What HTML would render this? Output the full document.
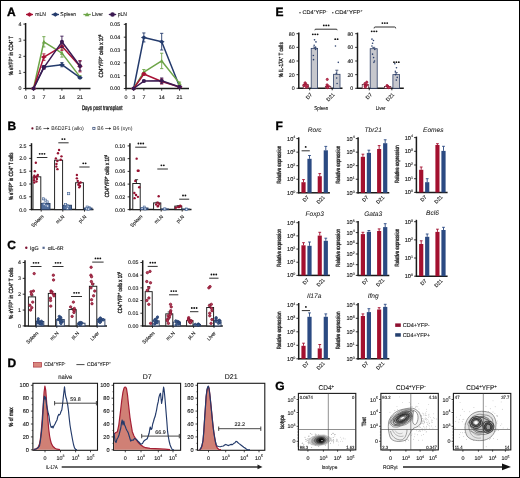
<!DOCTYPE html>
<html><head><meta charset="utf-8"><style>
html,body{margin:0;padding:0;background:#fff;}
svg{display:block;font-family:"Liberation Sans",sans-serif;will-change:transform;}
</style></head><body>
<svg width="520" height="478" viewBox="0 0 520 478" text-rendering="geometricPrecision">
<g>
<rect x="0" y="0" width="520" height="478" fill="#fff"/>
<rect x="0.5" y="0.5" width="519" height="477" fill="none" stroke="#000" stroke-width="1"/>
<text transform="translate(7.00,15.80)" font-size="12.0" text-anchor="start" font-weight="bold" font-style="normal" fill="#000"  stroke="#000" stroke-width="0.35">A</text>
<line x1="26.00" y1="14.50" x2="33.00" y2="14.50" stroke="#a81235" stroke-width="1.3" />
<path d="M26.16,14.50 L29.50,12.20 L32.84,14.50 L29.50,16.80Z" fill="#a81235" stroke="none" stroke-width="1.0" />
<text transform="translate(35.30,16.40) scale(0.9,1)" font-size="5.6" text-anchor="start" font-weight="normal" font-style="normal" fill="#1a1a1a"  stroke="#1a1a1a" stroke-width="0.1">mLN</text>
<line x1="51.70" y1="14.50" x2="59.00" y2="14.50" stroke="#243b6c" stroke-width="1.3" />
<path d="M52.02,14.50 L55.35,12.20 L58.69,14.50 L55.35,16.80Z" fill="#243b6c" stroke="none" stroke-width="1.0" />
<text transform="translate(60.30,16.40) scale(0.9,1)" font-size="5.6" text-anchor="start" font-weight="normal" font-style="normal" fill="#1a1a1a"  stroke="#1a1a1a" stroke-width="0.1">Spleen</text>
<line x1="83.40" y1="14.50" x2="90.80" y2="14.50" stroke="#6da548" stroke-width="1.3" />
<path d="M84.80,16.34 L87.10,12.20 L89.40,16.34Z" fill="#6da548" stroke="none" stroke-width="1.0" />
<text transform="translate(92.00,16.40) scale(0.9,1)" font-size="5.6" text-anchor="start" font-weight="normal" font-style="normal" fill="#1a1a1a"  stroke="#1a1a1a" stroke-width="0.1">Liver</text>
<line x1="108.80" y1="14.50" x2="116.20" y2="14.50" stroke="#3b1a52" stroke-width="1.3" />
<circle cx="112.50" cy="14.50" r="2.3" fill="#3b1a52" stroke="none" stroke-width="0.6"/>
<text transform="translate(117.70,16.40) scale(0.9,1)" font-size="5.6" text-anchor="start" font-weight="normal" font-style="normal" fill="#1a1a1a"  stroke="#1a1a1a" stroke-width="0.1">pLN</text>
<line x1="25.60" y1="23.00" x2="25.60" y2="89.10" stroke="#1a1a1a" stroke-width="1.5" />
<line x1="25.00" y1="88.50" x2="90.50" y2="88.50" stroke="#1a1a1a" stroke-width="1.5" />
<line x1="23.40" y1="88.50" x2="25.60" y2="88.50" stroke="#1a1a1a" stroke-width="0.9" />
<text transform="translate(21.50,90.40) scale(0.98,1)" font-size="5.4" text-anchor="end" font-weight="normal" font-style="normal" fill="#1a1a1a"  stroke="#1a1a1a" stroke-width="0.12">0</text>
<line x1="23.40" y1="72.40" x2="25.60" y2="72.40" stroke="#1a1a1a" stroke-width="0.9" />
<text transform="translate(21.50,74.30) scale(0.98,1)" font-size="5.4" text-anchor="end" font-weight="normal" font-style="normal" fill="#1a1a1a"  stroke="#1a1a1a" stroke-width="0.12">1</text>
<line x1="23.40" y1="56.30" x2="25.60" y2="56.30" stroke="#1a1a1a" stroke-width="0.9" />
<text transform="translate(21.50,58.20) scale(0.98,1)" font-size="5.4" text-anchor="end" font-weight="normal" font-style="normal" fill="#1a1a1a"  stroke="#1a1a1a" stroke-width="0.12">2</text>
<line x1="23.40" y1="40.20" x2="25.60" y2="40.20" stroke="#1a1a1a" stroke-width="0.9" />
<text transform="translate(21.50,42.10) scale(0.98,1)" font-size="5.4" text-anchor="end" font-weight="normal" font-style="normal" fill="#1a1a1a"  stroke="#1a1a1a" stroke-width="0.12">3</text>
<line x1="23.40" y1="24.10" x2="25.60" y2="24.10" stroke="#1a1a1a" stroke-width="0.9" />
<text transform="translate(21.50,26.00) scale(0.98,1)" font-size="5.4" text-anchor="end" font-weight="normal" font-style="normal" fill="#1a1a1a"  stroke="#1a1a1a" stroke-width="0.12">4</text>
<line x1="25.80" y1="88.50" x2="25.80" y2="90.70" stroke="#1a1a1a" stroke-width="0.9" />
<text transform="translate(25.80,99.40) scale(0.98,1)" font-size="5.4" text-anchor="middle" font-weight="normal" font-style="normal" fill="#1a1a1a"  stroke="#1a1a1a" stroke-width="0.12">0</text>
<line x1="33.54" y1="88.50" x2="33.54" y2="90.70" stroke="#1a1a1a" stroke-width="0.9" />
<text transform="translate(33.54,99.40) scale(0.98,1)" font-size="5.4" text-anchor="middle" font-weight="normal" font-style="normal" fill="#1a1a1a"  stroke="#1a1a1a" stroke-width="0.12">3</text>
<line x1="43.86" y1="88.50" x2="43.86" y2="90.70" stroke="#1a1a1a" stroke-width="0.9" />
<text transform="translate(43.86,99.40) scale(0.98,1)" font-size="5.4" text-anchor="middle" font-weight="normal" font-style="normal" fill="#1a1a1a"  stroke="#1a1a1a" stroke-width="0.12">7</text>
<line x1="61.92" y1="88.50" x2="61.92" y2="90.70" stroke="#1a1a1a" stroke-width="0.9" />
<text transform="translate(61.92,99.40) scale(0.98,1)" font-size="5.4" text-anchor="middle" font-weight="normal" font-style="normal" fill="#1a1a1a"  stroke="#1a1a1a" stroke-width="0.12">14</text>
<line x1="79.98" y1="88.50" x2="79.98" y2="90.70" stroke="#1a1a1a" stroke-width="0.9" />
<text transform="translate(79.98,99.40) scale(0.98,1)" font-size="5.4" text-anchor="middle" font-weight="normal" font-style="normal" fill="#1a1a1a"  stroke="#1a1a1a" stroke-width="0.12">21</text>
<path d="M33.54,88.50 L43.86,41.81 L61.92,53.08 L79.98,76.91" fill="none" stroke="#6da548" stroke-width="1.5" stroke-linejoin="round"/>
<path d="M31.54,90.10 L33.54,86.50 L35.54,90.10Z" fill="#6da548" stroke="none" stroke-width="1.0" />
<line x1="43.86" y1="36.66" x2="43.86" y2="46.96" stroke="#6da548" stroke-width="0.9" />
<line x1="42.26" y1="36.66" x2="45.46" y2="36.66" stroke="#6da548" stroke-width="0.9" />
<line x1="42.26" y1="46.96" x2="45.46" y2="46.96" stroke="#6da548" stroke-width="0.9" />
<path d="M41.86,43.41 L43.86,39.81 L45.86,43.41Z" fill="#6da548" stroke="none" stroke-width="1.0" />
<line x1="61.92" y1="49.05" x2="61.92" y2="57.10" stroke="#6da548" stroke-width="0.9" />
<line x1="60.32" y1="49.05" x2="63.52" y2="49.05" stroke="#6da548" stroke-width="0.9" />
<line x1="60.32" y1="57.10" x2="63.52" y2="57.10" stroke="#6da548" stroke-width="0.9" />
<path d="M59.92,54.68 L61.92,51.08 L63.92,54.68Z" fill="#6da548" stroke="none" stroke-width="1.0" />
<line x1="79.98" y1="75.62" x2="79.98" y2="78.20" stroke="#6da548" stroke-width="0.9" />
<line x1="78.38" y1="75.62" x2="81.58" y2="75.62" stroke="#6da548" stroke-width="0.9" />
<line x1="78.38" y1="78.20" x2="81.58" y2="78.20" stroke="#6da548" stroke-width="0.9" />
<path d="M77.98,78.51 L79.98,74.91 L81.98,78.51Z" fill="#6da548" stroke="none" stroke-width="1.0" />
<path d="M33.54,88.50 L43.86,67.09 L61.92,64.67 L79.98,77.71" fill="none" stroke="#243b6c" stroke-width="1.5" stroke-linejoin="round"/>
<path d="M30.64,88.50 L33.54,86.50 L36.44,88.50 L33.54,90.50Z" fill="#243b6c" stroke="none" stroke-width="1.0" />
<line x1="43.86" y1="65.48" x2="43.86" y2="68.70" stroke="#243b6c" stroke-width="0.9" />
<line x1="42.26" y1="65.48" x2="45.46" y2="65.48" stroke="#243b6c" stroke-width="0.9" />
<line x1="42.26" y1="68.70" x2="45.46" y2="68.70" stroke="#243b6c" stroke-width="0.9" />
<path d="M40.96,67.09 L43.86,65.09 L46.76,67.09 L43.86,69.09Z" fill="#243b6c" stroke="none" stroke-width="1.0" />
<line x1="61.92" y1="62.58" x2="61.92" y2="66.77" stroke="#243b6c" stroke-width="0.9" />
<line x1="60.32" y1="62.58" x2="63.52" y2="62.58" stroke="#243b6c" stroke-width="0.9" />
<line x1="60.32" y1="66.77" x2="63.52" y2="66.77" stroke="#243b6c" stroke-width="0.9" />
<path d="M59.02,64.67 L61.92,62.67 L64.82,64.67 L61.92,66.67Z" fill="#243b6c" stroke="none" stroke-width="1.0" />
<line x1="79.98" y1="76.75" x2="79.98" y2="78.68" stroke="#243b6c" stroke-width="0.9" />
<line x1="78.38" y1="76.75" x2="81.58" y2="76.75" stroke="#243b6c" stroke-width="0.9" />
<line x1="78.38" y1="78.68" x2="81.58" y2="78.68" stroke="#243b6c" stroke-width="0.9" />
<path d="M77.08,77.71 L79.98,75.71 L82.88,77.71 L79.98,79.71Z" fill="#243b6c" stroke="none" stroke-width="1.0" />
<path d="M33.54,88.50 L43.86,57.10 L61.92,46.32 L79.98,66.28" fill="none" stroke="#a81235" stroke-width="1.5" stroke-linejoin="round"/>
<path d="M30.64,88.50 L33.54,86.50 L36.44,88.50 L33.54,90.50Z" fill="#a81235" stroke="none" stroke-width="1.0" />
<line x1="43.86" y1="53.88" x2="43.86" y2="60.32" stroke="#a81235" stroke-width="0.9" />
<line x1="42.26" y1="53.88" x2="45.46" y2="53.88" stroke="#a81235" stroke-width="0.9" />
<line x1="42.26" y1="60.32" x2="45.46" y2="60.32" stroke="#a81235" stroke-width="0.9" />
<path d="M40.96,57.10 L43.86,55.10 L46.76,57.10 L43.86,59.10Z" fill="#a81235" stroke="none" stroke-width="1.0" />
<line x1="61.92" y1="42.29" x2="61.92" y2="50.34" stroke="#a81235" stroke-width="0.9" />
<line x1="60.32" y1="42.29" x2="63.52" y2="42.29" stroke="#a81235" stroke-width="0.9" />
<line x1="60.32" y1="50.34" x2="63.52" y2="50.34" stroke="#a81235" stroke-width="0.9" />
<path d="M59.02,46.32 L61.92,44.32 L64.82,46.32 L61.92,48.32Z" fill="#a81235" stroke="none" stroke-width="1.0" />
<line x1="79.98" y1="60.65" x2="79.98" y2="71.92" stroke="#a81235" stroke-width="0.9" />
<line x1="78.38" y1="60.65" x2="81.58" y2="60.65" stroke="#a81235" stroke-width="0.9" />
<line x1="78.38" y1="71.92" x2="81.58" y2="71.92" stroke="#a81235" stroke-width="0.9" />
<path d="M77.08,66.28 L79.98,64.28 L82.88,66.28 L79.98,68.28Z" fill="#a81235" stroke="none" stroke-width="1.0" />
<path d="M33.54,88.50 L43.86,67.57 L61.92,41.81 L79.98,65.96" fill="none" stroke="#3b1a52" stroke-width="1.5" stroke-linejoin="round"/>
<circle cx="33.54" cy="88.50" r="2.0" fill="#3b1a52" stroke="none" stroke-width="0.6"/>
<line x1="43.86" y1="65.96" x2="43.86" y2="69.18" stroke="#3b1a52" stroke-width="0.9" />
<line x1="42.26" y1="65.96" x2="45.46" y2="65.96" stroke="#3b1a52" stroke-width="0.9" />
<line x1="42.26" y1="69.18" x2="45.46" y2="69.18" stroke="#3b1a52" stroke-width="0.9" />
<circle cx="43.86" cy="67.57" r="2.0" fill="#3b1a52" stroke="none" stroke-width="0.6"/>
<line x1="61.92" y1="36.17" x2="61.92" y2="47.45" stroke="#3b1a52" stroke-width="0.9" />
<line x1="60.32" y1="36.17" x2="63.52" y2="36.17" stroke="#3b1a52" stroke-width="0.9" />
<line x1="60.32" y1="47.45" x2="63.52" y2="47.45" stroke="#3b1a52" stroke-width="0.9" />
<circle cx="61.92" cy="41.81" r="2.0" fill="#3b1a52" stroke="none" stroke-width="0.6"/>
<line x1="79.98" y1="61.13" x2="79.98" y2="70.79" stroke="#3b1a52" stroke-width="0.9" />
<line x1="78.38" y1="61.13" x2="81.58" y2="61.13" stroke="#3b1a52" stroke-width="0.9" />
<line x1="78.38" y1="70.79" x2="81.58" y2="70.79" stroke="#3b1a52" stroke-width="0.9" />
<circle cx="79.98" cy="65.96" r="2.0" fill="#3b1a52" stroke="none" stroke-width="0.6"/>
<text transform="translate(13.20,55.60) rotate(-90)" font-size="6.0" text-anchor="middle" font-weight="normal" font-style="normal" fill="#1a1a1a" textLength="39.5" lengthAdjust="spacingAndGlyphs" stroke="#1a1a1a" stroke-width="0.32">% eYFP<tspan dy="-2.28" font-size="3.90">+</tspan><tspan dy="2.28">​</tspan> in CD4<tspan dy="-2.28" font-size="3.90">+</tspan><tspan dy="2.28">​</tspan> T</text>
<line x1="126.00" y1="23.00" x2="126.00" y2="89.10" stroke="#1a1a1a" stroke-width="1.5" />
<line x1="125.40" y1="88.50" x2="189.00" y2="88.50" stroke="#1a1a1a" stroke-width="1.5" />
<line x1="123.80" y1="88.50" x2="126.00" y2="88.50" stroke="#1a1a1a" stroke-width="0.9" />
<text transform="translate(120.20,90.40) scale(0.98,1)" font-size="5.4" text-anchor="end" font-weight="normal" font-style="normal" fill="#1a1a1a"  stroke="#1a1a1a" stroke-width="0.12">0.00</text>
<line x1="123.80" y1="75.67" x2="126.00" y2="75.67" stroke="#1a1a1a" stroke-width="0.9" />
<text transform="translate(120.20,77.57) scale(0.98,1)" font-size="5.4" text-anchor="end" font-weight="normal" font-style="normal" fill="#1a1a1a"  stroke="#1a1a1a" stroke-width="0.12">0.01</text>
<line x1="123.80" y1="62.84" x2="126.00" y2="62.84" stroke="#1a1a1a" stroke-width="0.9" />
<text transform="translate(120.20,64.74) scale(0.98,1)" font-size="5.4" text-anchor="end" font-weight="normal" font-style="normal" fill="#1a1a1a"  stroke="#1a1a1a" stroke-width="0.12">0.02</text>
<line x1="123.80" y1="50.01" x2="126.00" y2="50.01" stroke="#1a1a1a" stroke-width="0.9" />
<text transform="translate(120.20,51.91) scale(0.98,1)" font-size="5.4" text-anchor="end" font-weight="normal" font-style="normal" fill="#1a1a1a"  stroke="#1a1a1a" stroke-width="0.12">0.03</text>
<line x1="123.80" y1="37.18" x2="126.00" y2="37.18" stroke="#1a1a1a" stroke-width="0.9" />
<text transform="translate(120.20,39.08) scale(0.98,1)" font-size="5.4" text-anchor="end" font-weight="normal" font-style="normal" fill="#1a1a1a"  stroke="#1a1a1a" stroke-width="0.12">0.04</text>
<line x1="123.80" y1="24.35" x2="126.00" y2="24.35" stroke="#1a1a1a" stroke-width="0.9" />
<text transform="translate(120.20,26.25) scale(0.98,1)" font-size="5.4" text-anchor="end" font-weight="normal" font-style="normal" fill="#1a1a1a"  stroke="#1a1a1a" stroke-width="0.12">0.05</text>
<line x1="126.00" y1="88.50" x2="126.00" y2="90.70" stroke="#1a1a1a" stroke-width="0.9" />
<text transform="translate(126.00,99.40) scale(0.98,1)" font-size="5.4" text-anchor="middle" font-weight="normal" font-style="normal" fill="#1a1a1a"  stroke="#1a1a1a" stroke-width="0.12">0</text>
<line x1="133.65" y1="88.50" x2="133.65" y2="90.70" stroke="#1a1a1a" stroke-width="0.9" />
<text transform="translate(133.65,99.40) scale(0.98,1)" font-size="5.4" text-anchor="middle" font-weight="normal" font-style="normal" fill="#1a1a1a"  stroke="#1a1a1a" stroke-width="0.12">3</text>
<line x1="143.85" y1="88.50" x2="143.85" y2="90.70" stroke="#1a1a1a" stroke-width="0.9" />
<text transform="translate(143.85,99.40) scale(0.98,1)" font-size="5.4" text-anchor="middle" font-weight="normal" font-style="normal" fill="#1a1a1a"  stroke="#1a1a1a" stroke-width="0.12">7</text>
<line x1="161.70" y1="88.50" x2="161.70" y2="90.70" stroke="#1a1a1a" stroke-width="0.9" />
<text transform="translate(161.70,99.40) scale(0.98,1)" font-size="5.4" text-anchor="middle" font-weight="normal" font-style="normal" fill="#1a1a1a"  stroke="#1a1a1a" stroke-width="0.12">14</text>
<line x1="179.55" y1="88.50" x2="179.55" y2="90.70" stroke="#1a1a1a" stroke-width="0.9" />
<text transform="translate(179.55,99.40) scale(0.98,1)" font-size="5.4" text-anchor="middle" font-weight="normal" font-style="normal" fill="#1a1a1a"  stroke="#1a1a1a" stroke-width="0.12">21</text>
<path d="M133.65,88.50 L143.85,37.44 L161.70,41.67 L179.55,86.58" fill="none" stroke="#243b6c" stroke-width="1.5" stroke-linejoin="round"/>
<path d="M130.75,88.50 L133.65,86.50 L136.55,88.50 L133.65,90.50Z" fill="#243b6c" stroke="none" stroke-width="1.0" />
<line x1="143.85" y1="32.95" x2="143.85" y2="41.93" stroke="#243b6c" stroke-width="0.9" />
<line x1="142.25" y1="32.95" x2="145.45" y2="32.95" stroke="#243b6c" stroke-width="0.9" />
<line x1="142.25" y1="41.93" x2="145.45" y2="41.93" stroke="#243b6c" stroke-width="0.9" />
<path d="M140.95,37.44 L143.85,35.44 L146.75,37.44 L143.85,39.44Z" fill="#243b6c" stroke="none" stroke-width="1.0" />
<line x1="161.70" y1="33.33" x2="161.70" y2="50.01" stroke="#243b6c" stroke-width="0.9" />
<line x1="160.10" y1="33.33" x2="163.30" y2="33.33" stroke="#243b6c" stroke-width="0.9" />
<line x1="160.10" y1="50.01" x2="163.30" y2="50.01" stroke="#243b6c" stroke-width="0.9" />
<path d="M158.80,41.67 L161.70,39.67 L164.60,41.67 L161.70,43.67Z" fill="#243b6c" stroke="none" stroke-width="1.0" />
<line x1="179.55" y1="85.93" x2="179.55" y2="87.22" stroke="#243b6c" stroke-width="0.9" />
<line x1="177.95" y1="85.93" x2="181.15" y2="85.93" stroke="#243b6c" stroke-width="0.9" />
<line x1="177.95" y1="87.22" x2="181.15" y2="87.22" stroke="#243b6c" stroke-width="0.9" />
<path d="M176.65,86.58 L179.55,84.58 L182.45,86.58 L179.55,88.58Z" fill="#243b6c" stroke="none" stroke-width="1.0" />
<path d="M133.65,88.50 L143.85,72.08 L161.70,60.92 L179.55,83.37" fill="none" stroke="#6da548" stroke-width="1.5" stroke-linejoin="round"/>
<path d="M131.65,90.10 L133.65,86.50 L135.65,90.10Z" fill="#6da548" stroke="none" stroke-width="1.0" />
<line x1="143.85" y1="69.51" x2="143.85" y2="74.64" stroke="#6da548" stroke-width="0.9" />
<line x1="142.25" y1="69.51" x2="145.45" y2="69.51" stroke="#6da548" stroke-width="0.9" />
<line x1="142.25" y1="74.64" x2="145.45" y2="74.64" stroke="#6da548" stroke-width="0.9" />
<path d="M141.85,73.68 L143.85,70.08 L145.85,73.68Z" fill="#6da548" stroke="none" stroke-width="1.0" />
<line x1="161.70" y1="53.22" x2="161.70" y2="68.61" stroke="#6da548" stroke-width="0.9" />
<line x1="160.10" y1="53.22" x2="163.30" y2="53.22" stroke="#6da548" stroke-width="0.9" />
<line x1="160.10" y1="68.61" x2="163.30" y2="68.61" stroke="#6da548" stroke-width="0.9" />
<path d="M159.70,62.52 L161.70,58.92 L163.70,62.52Z" fill="#6da548" stroke="none" stroke-width="1.0" />
<line x1="179.55" y1="82.08" x2="179.55" y2="84.65" stroke="#6da548" stroke-width="0.9" />
<line x1="177.95" y1="82.08" x2="181.15" y2="82.08" stroke="#6da548" stroke-width="0.9" />
<line x1="177.95" y1="84.65" x2="181.15" y2="84.65" stroke="#6da548" stroke-width="0.9" />
<path d="M177.55,84.97 L179.55,81.37 L181.55,84.97Z" fill="#6da548" stroke="none" stroke-width="1.0" />
<path d="M133.65,88.50 L143.85,74.00 L161.70,81.44 L179.55,86.96" fill="none" stroke="#a81235" stroke-width="1.5" stroke-linejoin="round"/>
<path d="M130.75,88.50 L133.65,86.50 L136.55,88.50 L133.65,90.50Z" fill="#a81235" stroke="none" stroke-width="1.0" />
<line x1="143.85" y1="72.72" x2="143.85" y2="75.29" stroke="#a81235" stroke-width="0.9" />
<line x1="142.25" y1="72.72" x2="145.45" y2="72.72" stroke="#a81235" stroke-width="0.9" />
<line x1="142.25" y1="75.29" x2="145.45" y2="75.29" stroke="#a81235" stroke-width="0.9" />
<path d="M140.95,74.00 L143.85,72.00 L146.75,74.00 L143.85,76.00Z" fill="#a81235" stroke="none" stroke-width="1.0" />
<line x1="161.70" y1="78.88" x2="161.70" y2="84.01" stroke="#a81235" stroke-width="0.9" />
<line x1="160.10" y1="78.88" x2="163.30" y2="78.88" stroke="#a81235" stroke-width="0.9" />
<line x1="160.10" y1="84.01" x2="163.30" y2="84.01" stroke="#a81235" stroke-width="0.9" />
<path d="M158.80,81.44 L161.70,79.44 L164.60,81.44 L161.70,83.44Z" fill="#a81235" stroke="none" stroke-width="1.0" />
<line x1="179.55" y1="86.32" x2="179.55" y2="87.60" stroke="#a81235" stroke-width="0.9" />
<line x1="177.95" y1="86.32" x2="181.15" y2="86.32" stroke="#a81235" stroke-width="0.9" />
<line x1="177.95" y1="87.60" x2="181.15" y2="87.60" stroke="#a81235" stroke-width="0.9" />
<path d="M176.65,86.96 L179.55,84.96 L182.45,86.96 L179.55,88.96Z" fill="#a81235" stroke="none" stroke-width="1.0" />
<path d="M133.65,88.50 L143.85,81.06 L161.70,80.80 L179.55,86.96" fill="none" stroke="#3b1a52" stroke-width="1.5" stroke-linejoin="round"/>
<circle cx="133.65" cy="88.50" r="2.0" fill="#3b1a52" stroke="none" stroke-width="0.6"/>
<line x1="143.85" y1="80.16" x2="143.85" y2="81.96" stroke="#3b1a52" stroke-width="0.9" />
<line x1="142.25" y1="80.16" x2="145.45" y2="80.16" stroke="#3b1a52" stroke-width="0.9" />
<line x1="142.25" y1="81.96" x2="145.45" y2="81.96" stroke="#3b1a52" stroke-width="0.9" />
<circle cx="143.85" cy="81.06" r="2.0" fill="#3b1a52" stroke="none" stroke-width="0.6"/>
<line x1="161.70" y1="77.98" x2="161.70" y2="83.62" stroke="#3b1a52" stroke-width="0.9" />
<line x1="160.10" y1="77.98" x2="163.30" y2="77.98" stroke="#3b1a52" stroke-width="0.9" />
<line x1="160.10" y1="83.62" x2="163.30" y2="83.62" stroke="#3b1a52" stroke-width="0.9" />
<circle cx="161.70" cy="80.80" r="2.0" fill="#3b1a52" stroke="none" stroke-width="0.6"/>
<line x1="179.55" y1="86.32" x2="179.55" y2="87.60" stroke="#3b1a52" stroke-width="0.9" />
<line x1="177.95" y1="86.32" x2="181.15" y2="86.32" stroke="#3b1a52" stroke-width="0.9" />
<line x1="177.95" y1="87.60" x2="181.15" y2="87.60" stroke="#3b1a52" stroke-width="0.9" />
<circle cx="179.55" cy="86.96" r="2.0" fill="#3b1a52" stroke="none" stroke-width="0.6"/>
<text transform="translate(103.40,56.00) rotate(-90)" font-size="6.0" text-anchor="middle" font-weight="normal" font-style="normal" fill="#1a1a1a" textLength="43" lengthAdjust="spacingAndGlyphs" stroke="#1a1a1a" stroke-width="0.32">CD4<tspan dy="-2.28" font-size="3.90">+</tspan><tspan dy="2.28">​</tspan>YFP<tspan dy="-2.28" font-size="3.90">+</tspan><tspan dy="2.28">​</tspan> cells x 10<tspan dy="-2.28" font-size="3.90">6</tspan><tspan dy="2.28">​</tspan></text>
<text transform="translate(102.20,109.70)" font-size="6.5" text-anchor="middle" font-weight="normal" font-style="normal" fill="#1a1a1a" textLength="40.6" lengthAdjust="spacingAndGlyphs" stroke="#1a1a1a" stroke-width="0.3">Days post transplant</text>
<text transform="translate(7.60,129.80)" font-size="12.0" text-anchor="start" font-weight="bold" font-style="normal" fill="#000"  stroke="#000" stroke-width="0.35">B</text>
<circle cx="32.40" cy="128.40" r="1.1" fill="#6e0f2a" stroke="none" stroke-width="0.6"/>
<text transform="translate(35.40,130.30)" font-size="5.3" text-anchor="start" font-weight="normal" font-style="normal" fill="#1a1a1a" textLength="6.2" lengthAdjust="spacingAndGlyphs">B6</text>
<line x1="43.40" y1="128.50" x2="48.20" y2="128.50" stroke="#1a1a1a" stroke-width="0.6" />
<path d="M47.4,127.3 L49.4,128.5 L47.4,129.7 Z" fill="#1a1a1a" stroke="none" stroke-width="1.0" />
<text transform="translate(51.20,130.30)" font-size="5.3" text-anchor="start" font-weight="normal" font-style="normal" fill="#1a1a1a" textLength="32.7" lengthAdjust="spacingAndGlyphs">B6D2F1 (allo)</text>
<rect x="92.80" y="127.30" width="2.20" height="2.20" fill="#fff" stroke="#243b6c" stroke-width="0.7" />
<text transform="translate(97.30,130.30)" font-size="5.3" text-anchor="start" font-weight="normal" font-style="normal" fill="#1a1a1a" textLength="6.2" lengthAdjust="spacingAndGlyphs">B6</text>
<line x1="105.20" y1="128.50" x2="110.00" y2="128.50" stroke="#1a1a1a" stroke-width="0.6" />
<path d="M109.2,127.3 L111.2,128.5 L109.2,129.7 Z" fill="#1a1a1a" stroke="none" stroke-width="1.0" />
<text transform="translate(113.00,130.30)" font-size="5.3" text-anchor="start" font-weight="normal" font-style="normal" fill="#1a1a1a" textLength="19.4" lengthAdjust="spacingAndGlyphs">B6 (syn)</text>
<line x1="31.50" y1="143.20" x2="31.50" y2="210.20" stroke="#1a1a1a" stroke-width="1.5" />
<line x1="30.90" y1="209.60" x2="93.50" y2="209.60" stroke="#1a1a1a" stroke-width="1.5" />
<line x1="29.20" y1="209.60" x2="31.50" y2="209.60" stroke="#1a1a1a" stroke-width="0.9" />
<text transform="translate(26.50,211.50) scale(0.98,1)" font-size="5.4" text-anchor="end" font-weight="normal" font-style="normal" fill="#1a1a1a"  stroke="#1a1a1a" stroke-width="0.12">0.0</text>
<line x1="29.20" y1="196.80" x2="31.50" y2="196.80" stroke="#1a1a1a" stroke-width="0.9" />
<text transform="translate(26.50,198.70) scale(0.98,1)" font-size="5.4" text-anchor="end" font-weight="normal" font-style="normal" fill="#1a1a1a"  stroke="#1a1a1a" stroke-width="0.12">0.5</text>
<line x1="29.20" y1="184.00" x2="31.50" y2="184.00" stroke="#1a1a1a" stroke-width="0.9" />
<text transform="translate(26.50,185.90) scale(0.98,1)" font-size="5.4" text-anchor="end" font-weight="normal" font-style="normal" fill="#1a1a1a"  stroke="#1a1a1a" stroke-width="0.12">1.0</text>
<line x1="29.20" y1="171.20" x2="31.50" y2="171.20" stroke="#1a1a1a" stroke-width="0.9" />
<text transform="translate(26.50,173.10) scale(0.98,1)" font-size="5.4" text-anchor="end" font-weight="normal" font-style="normal" fill="#1a1a1a"  stroke="#1a1a1a" stroke-width="0.12">1.5</text>
<line x1="29.20" y1="158.40" x2="31.50" y2="158.40" stroke="#1a1a1a" stroke-width="0.9" />
<text transform="translate(26.50,160.30) scale(0.98,1)" font-size="5.4" text-anchor="end" font-weight="normal" font-style="normal" fill="#1a1a1a"  stroke="#1a1a1a" stroke-width="0.12">2.0</text>
<line x1="29.20" y1="145.60" x2="31.50" y2="145.60" stroke="#1a1a1a" stroke-width="0.9" />
<text transform="translate(26.50,147.50) scale(0.98,1)" font-size="5.4" text-anchor="end" font-weight="normal" font-style="normal" fill="#1a1a1a"  stroke="#1a1a1a" stroke-width="0.12">2.5</text>
<line x1="41.20" y1="209.60" x2="41.20" y2="211.60" stroke="#1a1a1a" stroke-width="0.9" />
<line x1="62.80" y1="209.60" x2="62.80" y2="211.60" stroke="#1a1a1a" stroke-width="0.9" />
<line x1="84.50" y1="209.60" x2="84.50" y2="211.60" stroke="#1a1a1a" stroke-width="0.9" />
<rect x="33.00" y="176.83" width="7.80" height="32.77" fill="#fff" stroke="#1a1a1a" stroke-width="0.95" />
<rect x="41.20" y="203.46" width="8.80" height="6.14" fill="#4f6d9c" stroke="#2b3f63" stroke-width="0.95" />
<circle cx="35.84" cy="162.75" r="1.2" fill="#961231" stroke="none" stroke-width="0.6"/>
<circle cx="34.81" cy="171.20" r="1.2" fill="#961231" stroke="none" stroke-width="0.6"/>
<circle cx="37.81" cy="175.04" r="1.2" fill="#961231" stroke="none" stroke-width="0.6"/>
<circle cx="34.33" cy="175.81" r="1.2" fill="#961231" stroke="none" stroke-width="0.6"/>
<circle cx="37.12" cy="176.32" r="1.2" fill="#961231" stroke="none" stroke-width="0.6"/>
<circle cx="36.09" cy="177.09" r="1.2" fill="#961231" stroke="none" stroke-width="0.6"/>
<circle cx="34.25" cy="177.86" r="1.2" fill="#961231" stroke="none" stroke-width="0.6"/>
<circle cx="36.94" cy="178.88" r="1.2" fill="#961231" stroke="none" stroke-width="0.6"/>
<circle cx="34.12" cy="180.16" r="1.2" fill="#961231" stroke="none" stroke-width="0.6"/>
<circle cx="36.50" cy="181.44" r="1.2" fill="#961231" stroke="none" stroke-width="0.6"/>
<circle cx="34.32" cy="182.46" r="1.2" fill="#961231" stroke="none" stroke-width="0.6"/>
<rect x="42.59" y="197.80" width="2.10" height="2.10" fill="#dfe6f2" stroke="#3f5f92" stroke-width="0.6" />
<rect x="44.19" y="199.08" width="2.10" height="2.10" fill="#dfe6f2" stroke="#3f5f92" stroke-width="0.6" />
<rect x="46.12" y="200.87" width="2.10" height="2.10" fill="#dfe6f2" stroke="#3f5f92" stroke-width="0.6" />
<rect x="42.74" y="202.92" width="2.10" height="2.10" fill="#dfe6f2" stroke="#3f5f92" stroke-width="0.6" />
<rect x="43.22" y="203.43" width="2.10" height="2.10" fill="#dfe6f2" stroke="#3f5f92" stroke-width="0.6" />
<rect x="45.16" y="204.45" width="2.10" height="2.10" fill="#dfe6f2" stroke="#3f5f92" stroke-width="0.6" />
<rect x="46.70" y="204.97" width="2.10" height="2.10" fill="#dfe6f2" stroke="#3f5f92" stroke-width="0.6" />
<rect x="54.60" y="160.19" width="8.00" height="49.41" fill="#fff" stroke="#1a1a1a" stroke-width="0.95" />
<rect x="62.90" y="205.25" width="8.60" height="4.35" fill="#4f6d9c" stroke="#2b3f63" stroke-width="0.95" />
<circle cx="59.06" cy="149.95" r="1.2" fill="#961231" stroke="none" stroke-width="0.6"/>
<circle cx="57.98" cy="153.28" r="1.2" fill="#961231" stroke="none" stroke-width="0.6"/>
<circle cx="61.46" cy="156.35" r="1.2" fill="#961231" stroke="none" stroke-width="0.6"/>
<circle cx="55.88" cy="158.40" r="1.2" fill="#961231" stroke="none" stroke-width="0.6"/>
<circle cx="60.75" cy="159.68" r="1.2" fill="#961231" stroke="none" stroke-width="0.6"/>
<circle cx="57.34" cy="160.96" r="1.2" fill="#961231" stroke="none" stroke-width="0.6"/>
<circle cx="56.47" cy="164.03" r="1.2" fill="#961231" stroke="none" stroke-width="0.6"/>
<circle cx="56.31" cy="166.59" r="1.2" fill="#961231" stroke="none" stroke-width="0.6"/>
<circle cx="57.45" cy="169.15" r="1.2" fill="#961231" stroke="none" stroke-width="0.6"/>
<rect x="67.67" y="192.68" width="2.10" height="2.10" fill="#dfe6f2" stroke="#3f5f92" stroke-width="0.6" />
<rect x="64.62" y="203.43" width="2.10" height="2.10" fill="#dfe6f2" stroke="#3f5f92" stroke-width="0.6" />
<rect x="66.54" y="204.71" width="2.10" height="2.10" fill="#dfe6f2" stroke="#3f5f92" stroke-width="0.6" />
<rect x="66.82" y="205.48" width="2.10" height="2.10" fill="#dfe6f2" stroke="#3f5f92" stroke-width="0.6" />
<rect x="65.54" y="206.50" width="2.10" height="2.10" fill="#dfe6f2" stroke="#3f5f92" stroke-width="0.6" />
<rect x="66.38" y="207.27" width="2.10" height="2.10" fill="#dfe6f2" stroke="#3f5f92" stroke-width="0.6" />
<rect x="75.60" y="182.72" width="7.80" height="26.88" fill="#fff" stroke="#1a1a1a" stroke-width="0.95" />
<rect x="84.20" y="208.06" width="7.80" height="1.54" fill="#4f6d9c" stroke="#2b3f63" stroke-width="0.95" />
<circle cx="76.88" cy="175.04" r="1.2" fill="#961231" stroke="none" stroke-width="0.6"/>
<circle cx="76.86" cy="178.37" r="1.2" fill="#961231" stroke="none" stroke-width="0.6"/>
<circle cx="77.74" cy="180.93" r="1.2" fill="#961231" stroke="none" stroke-width="0.6"/>
<circle cx="80.58" cy="182.46" r="1.2" fill="#961231" stroke="none" stroke-width="0.6"/>
<circle cx="79.07" cy="183.49" r="1.2" fill="#961231" stroke="none" stroke-width="0.6"/>
<circle cx="78.38" cy="184.77" r="1.2" fill="#961231" stroke="none" stroke-width="0.6"/>
<circle cx="80.01" cy="186.05" r="1.2" fill="#961231" stroke="none" stroke-width="0.6"/>
<circle cx="79.22" cy="187.33" r="1.2" fill="#961231" stroke="none" stroke-width="0.6"/>
<rect x="86.09" y="205.99" width="2.10" height="2.10" fill="#dfe6f2" stroke="#3f5f92" stroke-width="0.6" />
<rect x="88.46" y="206.76" width="2.10" height="2.10" fill="#dfe6f2" stroke="#3f5f92" stroke-width="0.6" />
<rect x="88.01" y="207.27" width="2.10" height="2.10" fill="#dfe6f2" stroke="#3f5f92" stroke-width="0.6" />
<rect x="85.82" y="207.78" width="2.10" height="2.10" fill="#dfe6f2" stroke="#3f5f92" stroke-width="0.6" />
<rect x="87.41" y="208.04" width="2.10" height="2.10" fill="#dfe6f2" stroke="#3f5f92" stroke-width="0.6" />
<line x1="36.80" y1="157.50" x2="47.40" y2="157.50" stroke="#1a1a1a" stroke-width="0.9" />
<circle cx="39.70" cy="153.80" r="0.92" fill="#111" stroke="none" stroke-width="0.6"/>
<circle cx="42.10" cy="153.80" r="0.92" fill="#111" stroke="none" stroke-width="0.6"/>
<circle cx="44.50" cy="153.80" r="0.92" fill="#111" stroke="none" stroke-width="0.6"/>
<line x1="58.30" y1="142.80" x2="68.60" y2="142.80" stroke="#1a1a1a" stroke-width="0.9" />
<circle cx="62.25" cy="139.10" r="0.92" fill="#111" stroke="none" stroke-width="0.6"/>
<circle cx="64.65" cy="139.10" r="0.92" fill="#111" stroke="none" stroke-width="0.6"/>
<line x1="79.30" y1="167.00" x2="89.60" y2="167.00" stroke="#1a1a1a" stroke-width="0.9" />
<circle cx="83.25" cy="163.30" r="0.92" fill="#111" stroke="none" stroke-width="0.6"/>
<circle cx="85.65" cy="163.30" r="0.92" fill="#111" stroke="none" stroke-width="0.6"/>
<text transform="translate(43.80,217.00) rotate(-45) scale(0.95,1)" font-size="5.0" text-anchor="end" font-weight="normal" font-style="normal" fill="#1a1a1a"  stroke="#1a1a1a" stroke-width="0.12">Spleen</text>
<text transform="translate(64.80,217.00) rotate(-45) scale(0.95,1)" font-size="5.0" text-anchor="end" font-weight="normal" font-style="normal" fill="#1a1a1a"  stroke="#1a1a1a" stroke-width="0.12">mLN</text>
<text transform="translate(86.60,217.00) rotate(-45) scale(0.95,1)" font-size="5.0" text-anchor="end" font-weight="normal" font-style="normal" fill="#1a1a1a"  stroke="#1a1a1a" stroke-width="0.12">pLN</text>
<text transform="translate(13.20,176.30) rotate(-90)" font-size="6.0" text-anchor="middle" font-weight="normal" font-style="normal" fill="#1a1a1a" textLength="47.5" lengthAdjust="spacingAndGlyphs" stroke="#1a1a1a" stroke-width="0.32">% eYFP<tspan dy="-2.28" font-size="3.90">+</tspan><tspan dy="2.28">​</tspan> in CD4<tspan dy="-2.28" font-size="3.90">+</tspan><tspan dy="2.28">​</tspan> T cells</text>
<line x1="129.90" y1="143.20" x2="129.90" y2="210.20" stroke="#1a1a1a" stroke-width="1.5" />
<line x1="129.30" y1="209.60" x2="191.50" y2="209.60" stroke="#1a1a1a" stroke-width="1.5" />
<line x1="127.60" y1="209.60" x2="129.90" y2="209.60" stroke="#1a1a1a" stroke-width="0.9" />
<text transform="translate(125.20,211.50) scale(0.98,1)" font-size="5.4" text-anchor="end" font-weight="normal" font-style="normal" fill="#1a1a1a"  stroke="#1a1a1a" stroke-width="0.12">0.00</text>
<line x1="127.60" y1="196.86" x2="129.90" y2="196.86" stroke="#1a1a1a" stroke-width="0.9" />
<text transform="translate(125.20,198.76) scale(0.98,1)" font-size="5.4" text-anchor="end" font-weight="normal" font-style="normal" fill="#1a1a1a"  stroke="#1a1a1a" stroke-width="0.12">0.02</text>
<line x1="127.60" y1="184.12" x2="129.90" y2="184.12" stroke="#1a1a1a" stroke-width="0.9" />
<text transform="translate(125.20,186.02) scale(0.98,1)" font-size="5.4" text-anchor="end" font-weight="normal" font-style="normal" fill="#1a1a1a"  stroke="#1a1a1a" stroke-width="0.12">0.04</text>
<line x1="127.60" y1="171.38" x2="129.90" y2="171.38" stroke="#1a1a1a" stroke-width="0.9" />
<text transform="translate(125.20,173.28) scale(0.98,1)" font-size="5.4" text-anchor="end" font-weight="normal" font-style="normal" fill="#1a1a1a"  stroke="#1a1a1a" stroke-width="0.12">0.06</text>
<line x1="127.60" y1="158.64" x2="129.90" y2="158.64" stroke="#1a1a1a" stroke-width="0.9" />
<text transform="translate(125.20,160.54) scale(0.98,1)" font-size="5.4" text-anchor="end" font-weight="normal" font-style="normal" fill="#1a1a1a"  stroke="#1a1a1a" stroke-width="0.12">0.08</text>
<line x1="127.60" y1="145.90" x2="129.90" y2="145.90" stroke="#1a1a1a" stroke-width="0.9" />
<text transform="translate(125.20,147.80) scale(0.98,1)" font-size="5.4" text-anchor="end" font-weight="normal" font-style="normal" fill="#1a1a1a"  stroke="#1a1a1a" stroke-width="0.12">0.10</text>
<line x1="140.40" y1="209.60" x2="140.40" y2="211.60" stroke="#1a1a1a" stroke-width="0.9" />
<line x1="161.20" y1="209.60" x2="161.20" y2="211.60" stroke="#1a1a1a" stroke-width="0.9" />
<line x1="182.20" y1="209.60" x2="182.20" y2="211.60" stroke="#1a1a1a" stroke-width="0.9" />
<rect x="132.80" y="183.48" width="7.40" height="26.12" fill="#fff" stroke="#1a1a1a" stroke-width="0.95" />
<line x1="136.50" y1="179.66" x2="136.50" y2="183.48" stroke="#1a1a1a" stroke-width="0.8" />
<line x1="134.90" y1="179.66" x2="138.10" y2="179.66" stroke="#1a1a1a" stroke-width="0.8" />
<rect x="140.50" y="208.01" width="7.50" height="1.59" fill="#4f6d9c" stroke="#2b3f63" stroke-width="0.95" />
<circle cx="136.64" cy="158.64" r="1.2" fill="#961231" stroke="none" stroke-width="0.6"/>
<circle cx="138.60" cy="170.74" r="1.2" fill="#961231" stroke="none" stroke-width="0.6"/>
<circle cx="137.78" cy="170.74" r="1.2" fill="#961231" stroke="none" stroke-width="0.6"/>
<circle cx="135.31" cy="180.94" r="1.2" fill="#961231" stroke="none" stroke-width="0.6"/>
<circle cx="139.19" cy="187.31" r="1.2" fill="#961231" stroke="none" stroke-width="0.6"/>
<circle cx="134.36" cy="193.04" r="1.2" fill="#961231" stroke="none" stroke-width="0.6"/>
<circle cx="136.04" cy="194.95" r="1.2" fill="#961231" stroke="none" stroke-width="0.6"/>
<circle cx="137.94" cy="196.86" r="1.2" fill="#961231" stroke="none" stroke-width="0.6"/>
<circle cx="134.55" cy="198.13" r="1.2" fill="#961231" stroke="none" stroke-width="0.6"/>
<rect x="143.20" y="206.05" width="2.00" height="2.00" fill="#dfe6f2" stroke="#3f5f92" stroke-width="0.6" />
<rect x="141.04" y="207.33" width="2.00" height="2.00" fill="#dfe6f2" stroke="#3f5f92" stroke-width="0.6" />
<rect x="144.06" y="207.96" width="2.00" height="2.00" fill="#dfe6f2" stroke="#3f5f92" stroke-width="0.6" />
<rect x="153.60" y="202.91" width="7.20" height="6.69" fill="#fff" stroke="#1a1a1a" stroke-width="0.95" />
<line x1="157.20" y1="202.27" x2="157.20" y2="202.91" stroke="#1a1a1a" stroke-width="0.8" />
<line x1="155.60" y1="202.27" x2="158.80" y2="202.27" stroke="#1a1a1a" stroke-width="0.8" />
<rect x="161.00" y="208.96" width="7.40" height="0.64" fill="#4f6d9c" stroke="#2b3f63" stroke-width="0.95" />
<circle cx="158.68" cy="196.22" r="1.2" fill="#961231" stroke="none" stroke-width="0.6"/>
<circle cx="157.61" cy="202.59" r="1.2" fill="#961231" stroke="none" stroke-width="0.6"/>
<circle cx="159.30" cy="203.87" r="1.2" fill="#961231" stroke="none" stroke-width="0.6"/>
<circle cx="156.16" cy="204.50" r="1.2" fill="#961231" stroke="none" stroke-width="0.6"/>
<circle cx="158.29" cy="205.78" r="1.2" fill="#961231" stroke="none" stroke-width="0.6"/>
<circle cx="157.73" cy="206.41" r="1.2" fill="#961231" stroke="none" stroke-width="0.6"/>
<rect x="164.08" y="207.96" width="2.00" height="2.00" fill="#dfe6f2" stroke="#3f5f92" stroke-width="0.6" />
<rect x="163.49" y="207.96" width="2.00" height="2.00" fill="#dfe6f2" stroke="#3f5f92" stroke-width="0.6" />
<rect x="174.80" y="206.10" width="7.00" height="3.50" fill="#fff" stroke="#1a1a1a" stroke-width="0.95" />
<line x1="178.30" y1="205.78" x2="178.30" y2="206.10" stroke="#1a1a1a" stroke-width="0.8" />
<line x1="176.70" y1="205.78" x2="179.90" y2="205.78" stroke="#1a1a1a" stroke-width="0.8" />
<rect x="182.00" y="209.09" width="7.30" height="0.51" fill="#4f6d9c" stroke="#2b3f63" stroke-width="0.95" />
<circle cx="180.20" cy="205.78" r="1.2" fill="#961231" stroke="none" stroke-width="0.6"/>
<circle cx="180.79" cy="206.41" r="1.2" fill="#961231" stroke="none" stroke-width="0.6"/>
<circle cx="178.15" cy="207.05" r="1.2" fill="#961231" stroke="none" stroke-width="0.6"/>
<circle cx="179.22" cy="207.05" r="1.2" fill="#961231" stroke="none" stroke-width="0.6"/>
<circle cx="175.84" cy="207.69" r="1.2" fill="#961231" stroke="none" stroke-width="0.6"/>
<rect x="185.62" y="207.96" width="2.00" height="2.00" fill="#dfe6f2" stroke="#3f5f92" stroke-width="0.6" />
<rect x="185.36" y="208.28" width="2.00" height="2.00" fill="#dfe6f2" stroke="#3f5f92" stroke-width="0.6" />
<line x1="135.20" y1="147.20" x2="146.50" y2="147.20" stroke="#1a1a1a" stroke-width="0.9" />
<circle cx="138.45" cy="143.50" r="0.92" fill="#111" stroke="none" stroke-width="0.6"/>
<circle cx="140.85" cy="143.50" r="0.92" fill="#111" stroke="none" stroke-width="0.6"/>
<circle cx="143.25" cy="143.50" r="0.92" fill="#111" stroke="none" stroke-width="0.6"/>
<line x1="157.30" y1="169.00" x2="167.90" y2="169.00" stroke="#1a1a1a" stroke-width="0.9" />
<circle cx="161.40" cy="165.30" r="0.92" fill="#111" stroke="none" stroke-width="0.6"/>
<circle cx="163.80" cy="165.30" r="0.92" fill="#111" stroke="none" stroke-width="0.6"/>
<line x1="179.20" y1="199.20" x2="189.20" y2="199.20" stroke="#1a1a1a" stroke-width="0.9" />
<circle cx="183.00" cy="195.50" r="0.92" fill="#111" stroke="none" stroke-width="0.6"/>
<circle cx="185.40" cy="195.50" r="0.92" fill="#111" stroke="none" stroke-width="0.6"/>
<text transform="translate(142.70,217.00) rotate(-45) scale(0.95,1)" font-size="5.0" text-anchor="end" font-weight="normal" font-style="normal" fill="#1a1a1a"  stroke="#1a1a1a" stroke-width="0.12">Spleen</text>
<text transform="translate(163.40,217.00) rotate(-45) scale(0.95,1)" font-size="5.0" text-anchor="end" font-weight="normal" font-style="normal" fill="#1a1a1a"  stroke="#1a1a1a" stroke-width="0.12">mLN</text>
<text transform="translate(184.40,217.00) rotate(-45) scale(0.95,1)" font-size="5.0" text-anchor="end" font-weight="normal" font-style="normal" fill="#1a1a1a"  stroke="#1a1a1a" stroke-width="0.12">pLN</text>
<text transform="translate(109.00,176.10) rotate(-90)" font-size="6.0" text-anchor="middle" font-weight="normal" font-style="normal" fill="#1a1a1a" textLength="42.4" lengthAdjust="spacingAndGlyphs" stroke="#1a1a1a" stroke-width="0.32">CD4<tspan dy="-2.28" font-size="3.90">+</tspan><tspan dy="2.28">​</tspan>YFP<tspan dy="-2.28" font-size="3.90">+</tspan><tspan dy="2.28">​</tspan> cells x 10<tspan dy="-2.28" font-size="3.90">6</tspan><tspan dy="2.28">​</tspan></text>
<text transform="translate(7.30,249.40)" font-size="12.0" text-anchor="start" font-weight="bold" font-style="normal" fill="#000"  stroke="#000" stroke-width="0.35">C</text>
<circle cx="26.30" cy="247.80" r="1.2" fill="#7e1232" stroke="none" stroke-width="0.6"/>
<text transform="translate(30.00,249.80)" font-size="5.4" text-anchor="start" font-weight="normal" font-style="normal" fill="#1a1a1a" textLength="8.6" lengthAdjust="spacingAndGlyphs" stroke="#1a1a1a" stroke-width="0.12">IgG</text>
<rect x="42.50" y="246.70" width="2.20" height="2.20" fill="#56688f" stroke="none" stroke-width="0.8" />
<text transform="translate(47.80,249.80)" font-size="5.4" text-anchor="start" font-weight="normal" font-style="normal" fill="#1a1a1a" textLength="15.8" lengthAdjust="spacingAndGlyphs" stroke="#1a1a1a" stroke-width="0.12">αIL-6R</text>
<line x1="25.00" y1="260.30" x2="25.00" y2="326.50" stroke="#1a1a1a" stroke-width="1.5" />
<line x1="24.40" y1="325.90" x2="107.00" y2="325.90" stroke="#1a1a1a" stroke-width="1.5" />
<line x1="22.70" y1="325.90" x2="25.00" y2="325.90" stroke="#1a1a1a" stroke-width="0.9" />
<text transform="translate(21.00,327.80) scale(0.98,1)" font-size="5.4" text-anchor="end" font-weight="normal" font-style="normal" fill="#1a1a1a"  stroke="#1a1a1a" stroke-width="0.12">0</text>
<line x1="22.70" y1="310.05" x2="25.00" y2="310.05" stroke="#1a1a1a" stroke-width="0.9" />
<text transform="translate(21.00,311.95) scale(0.98,1)" font-size="5.4" text-anchor="end" font-weight="normal" font-style="normal" fill="#1a1a1a"  stroke="#1a1a1a" stroke-width="0.12">1</text>
<line x1="22.70" y1="294.20" x2="25.00" y2="294.20" stroke="#1a1a1a" stroke-width="0.9" />
<text transform="translate(21.00,296.10) scale(0.98,1)" font-size="5.4" text-anchor="end" font-weight="normal" font-style="normal" fill="#1a1a1a"  stroke="#1a1a1a" stroke-width="0.12">2</text>
<line x1="22.70" y1="278.35" x2="25.00" y2="278.35" stroke="#1a1a1a" stroke-width="0.9" />
<text transform="translate(21.00,280.25) scale(0.98,1)" font-size="5.4" text-anchor="end" font-weight="normal" font-style="normal" fill="#1a1a1a"  stroke="#1a1a1a" stroke-width="0.12">3</text>
<line x1="22.70" y1="262.50" x2="25.00" y2="262.50" stroke="#1a1a1a" stroke-width="0.9" />
<text transform="translate(21.00,264.40) scale(0.98,1)" font-size="5.4" text-anchor="end" font-weight="normal" font-style="normal" fill="#1a1a1a"  stroke="#1a1a1a" stroke-width="0.12">4</text>
<line x1="36.20" y1="325.90" x2="36.20" y2="327.90" stroke="#1a1a1a" stroke-width="0.9" />
<line x1="56.80" y1="325.90" x2="56.80" y2="327.90" stroke="#1a1a1a" stroke-width="0.9" />
<line x1="77.20" y1="325.90" x2="77.20" y2="327.90" stroke="#1a1a1a" stroke-width="0.9" />
<line x1="97.20" y1="325.90" x2="97.20" y2="327.90" stroke="#1a1a1a" stroke-width="0.9" />
<rect x="28.40" y="296.89" width="7.20" height="29.01" fill="#fff" stroke="#1a1a1a" stroke-width="0.95" />
<line x1="32.00" y1="295.15" x2="32.00" y2="296.89" stroke="#1a1a1a" stroke-width="0.8" />
<line x1="30.40" y1="295.15" x2="33.60" y2="295.15" stroke="#1a1a1a" stroke-width="0.8" />
<rect x="36.40" y="321.46" width="7.40" height="4.44" fill="#fff" stroke="#2b3f63" stroke-width="0.95" />
<circle cx="34.17" cy="273.59" r="1.2" fill="#b0405a" stroke="#8a0f2c" stroke-width="0.75"/>
<circle cx="33.42" cy="291.03" r="1.2" fill="#b0405a" stroke="#8a0f2c" stroke-width="0.75"/>
<circle cx="31.05" cy="291.82" r="1.2" fill="#b0405a" stroke="#8a0f2c" stroke-width="0.75"/>
<circle cx="31.50" cy="294.20" r="1.2" fill="#b0405a" stroke="#8a0f2c" stroke-width="0.75"/>
<circle cx="32.74" cy="302.12" r="1.2" fill="#b0405a" stroke="#8a0f2c" stroke-width="0.75"/>
<circle cx="29.90" cy="305.29" r="1.2" fill="#b0405a" stroke="#8a0f2c" stroke-width="0.75"/>
<circle cx="31.83" cy="307.67" r="1.2" fill="#b0405a" stroke="#8a0f2c" stroke-width="0.75"/>
<circle cx="30.54" cy="310.05" r="1.2" fill="#b0405a" stroke="#8a0f2c" stroke-width="0.75"/>
<circle cx="38.26" cy="318.77" r="1.15" fill="#3d5d94" stroke="#27406e" stroke-width="0.75"/>
<circle cx="37.98" cy="320.35" r="1.15" fill="#3d5d94" stroke="#27406e" stroke-width="0.75"/>
<circle cx="41.39" cy="321.14" r="1.15" fill="#3d5d94" stroke="#27406e" stroke-width="0.75"/>
<circle cx="38.32" cy="321.46" r="1.15" fill="#3d5d94" stroke="#27406e" stroke-width="0.75"/>
<circle cx="38.89" cy="321.94" r="1.15" fill="#3d5d94" stroke="#27406e" stroke-width="0.75"/>
<circle cx="39.58" cy="322.41" r="1.15" fill="#3d5d94" stroke="#27406e" stroke-width="0.75"/>
<circle cx="41.88" cy="322.73" r="1.15" fill="#3d5d94" stroke="#27406e" stroke-width="0.75"/>
<circle cx="38.09" cy="323.05" r="1.15" fill="#3d5d94" stroke="#27406e" stroke-width="0.75"/>
<circle cx="39.86" cy="323.52" r="1.15" fill="#3d5d94" stroke="#27406e" stroke-width="0.75"/>
<circle cx="40.34" cy="324.00" r="1.15" fill="#3d5d94" stroke="#27406e" stroke-width="0.75"/>
<circle cx="41.94" cy="324.31" r="1.15" fill="#3d5d94" stroke="#27406e" stroke-width="0.75"/>
<rect x="48.30" y="293.41" width="7.30" height="32.49" fill="#fff" stroke="#1a1a1a" stroke-width="0.95" />
<line x1="51.95" y1="291.46" x2="51.95" y2="293.41" stroke="#1a1a1a" stroke-width="0.8" />
<line x1="50.35" y1="291.46" x2="53.55" y2="291.46" stroke="#1a1a1a" stroke-width="0.8" />
<rect x="56.70" y="319.56" width="7.60" height="6.34" fill="#fff" stroke="#2b3f63" stroke-width="0.95" />
<circle cx="53.35" cy="275.18" r="1.2" fill="#b0405a" stroke="#8a0f2c" stroke-width="0.75"/>
<circle cx="53.55" cy="279.94" r="1.2" fill="#b0405a" stroke="#8a0f2c" stroke-width="0.75"/>
<circle cx="50.98" cy="291.03" r="1.2" fill="#b0405a" stroke="#8a0f2c" stroke-width="0.75"/>
<circle cx="51.58" cy="291.82" r="1.2" fill="#b0405a" stroke="#8a0f2c" stroke-width="0.75"/>
<circle cx="51.33" cy="292.61" r="1.2" fill="#b0405a" stroke="#8a0f2c" stroke-width="0.75"/>
<circle cx="53.64" cy="294.20" r="1.2" fill="#b0405a" stroke="#8a0f2c" stroke-width="0.75"/>
<circle cx="53.96" cy="295.78" r="1.2" fill="#b0405a" stroke="#8a0f2c" stroke-width="0.75"/>
<circle cx="50.41" cy="298.16" r="1.2" fill="#b0405a" stroke="#8a0f2c" stroke-width="0.75"/>
<circle cx="50.53" cy="300.54" r="1.2" fill="#b0405a" stroke="#8a0f2c" stroke-width="0.75"/>
<circle cx="50.77" cy="306.09" r="1.2" fill="#b0405a" stroke="#8a0f2c" stroke-width="0.75"/>
<circle cx="59.22" cy="316.39" r="1.15" fill="#3d5d94" stroke="#27406e" stroke-width="0.75"/>
<circle cx="60.43" cy="317.18" r="1.15" fill="#3d5d94" stroke="#27406e" stroke-width="0.75"/>
<circle cx="60.93" cy="317.97" r="1.15" fill="#3d5d94" stroke="#27406e" stroke-width="0.75"/>
<circle cx="59.36" cy="318.77" r="1.15" fill="#3d5d94" stroke="#27406e" stroke-width="0.75"/>
<circle cx="58.12" cy="319.56" r="1.15" fill="#3d5d94" stroke="#27406e" stroke-width="0.75"/>
<circle cx="60.11" cy="319.88" r="1.15" fill="#3d5d94" stroke="#27406e" stroke-width="0.75"/>
<circle cx="59.87" cy="320.35" r="1.15" fill="#3d5d94" stroke="#27406e" stroke-width="0.75"/>
<circle cx="60.82" cy="321.14" r="1.15" fill="#3d5d94" stroke="#27406e" stroke-width="0.75"/>
<circle cx="62.67" cy="321.46" r="1.15" fill="#3d5d94" stroke="#27406e" stroke-width="0.75"/>
<circle cx="61.41" cy="321.94" r="1.15" fill="#3d5d94" stroke="#27406e" stroke-width="0.75"/>
<circle cx="60.57" cy="322.73" r="1.15" fill="#3d5d94" stroke="#27406e" stroke-width="0.75"/>
<circle cx="61.06" cy="323.52" r="1.15" fill="#3d5d94" stroke="#27406e" stroke-width="0.75"/>
<rect x="69.00" y="309.57" width="7.20" height="16.33" fill="#fff" stroke="#1a1a1a" stroke-width="0.95" />
<line x1="72.60" y1="308.59" x2="72.60" y2="309.57" stroke="#1a1a1a" stroke-width="0.8" />
<line x1="71.00" y1="308.59" x2="74.20" y2="308.59" stroke="#1a1a1a" stroke-width="0.8" />
<rect x="77.70" y="323.21" width="7.30" height="2.69" fill="#fff" stroke="#2b3f63" stroke-width="0.95" />
<circle cx="73.38" cy="302.12" r="1.2" fill="#b0405a" stroke="#8a0f2c" stroke-width="0.75"/>
<circle cx="70.64" cy="306.88" r="1.2" fill="#b0405a" stroke="#8a0f2c" stroke-width="0.75"/>
<circle cx="74.36" cy="308.46" r="1.2" fill="#b0405a" stroke="#8a0f2c" stroke-width="0.75"/>
<circle cx="73.83" cy="310.05" r="1.2" fill="#b0405a" stroke="#8a0f2c" stroke-width="0.75"/>
<circle cx="74.25" cy="310.84" r="1.2" fill="#b0405a" stroke="#8a0f2c" stroke-width="0.75"/>
<circle cx="73.91" cy="312.43" r="1.2" fill="#b0405a" stroke="#8a0f2c" stroke-width="0.75"/>
<circle cx="72.13" cy="316.39" r="1.2" fill="#b0405a" stroke="#8a0f2c" stroke-width="0.75"/>
<circle cx="80.87" cy="322.41" r="1.15" fill="#3d5d94" stroke="#27406e" stroke-width="0.75"/>
<circle cx="79.45" cy="322.73" r="1.15" fill="#3d5d94" stroke="#27406e" stroke-width="0.75"/>
<circle cx="81.99" cy="323.05" r="1.15" fill="#3d5d94" stroke="#27406e" stroke-width="0.75"/>
<circle cx="79.25" cy="323.52" r="1.15" fill="#3d5d94" stroke="#27406e" stroke-width="0.75"/>
<circle cx="79.27" cy="323.68" r="1.15" fill="#3d5d94" stroke="#27406e" stroke-width="0.75"/>
<circle cx="79.95" cy="324.00" r="1.15" fill="#3d5d94" stroke="#27406e" stroke-width="0.75"/>
<circle cx="79.73" cy="324.31" r="1.15" fill="#3d5d94" stroke="#27406e" stroke-width="0.75"/>
<circle cx="80.58" cy="324.63" r="1.15" fill="#3d5d94" stroke="#27406e" stroke-width="0.75"/>
<rect x="89.40" y="286.27" width="7.40" height="39.62" fill="#fff" stroke="#1a1a1a" stroke-width="0.95" />
<line x1="93.10" y1="283.90" x2="93.10" y2="286.27" stroke="#1a1a1a" stroke-width="0.8" />
<line x1="91.50" y1="283.90" x2="94.70" y2="283.90" stroke="#1a1a1a" stroke-width="0.8" />
<rect x="97.30" y="319.24" width="7.60" height="6.66" fill="#fff" stroke="#2b3f63" stroke-width="0.95" />
<circle cx="91.13" cy="267.25" r="1.2" fill="#b0405a" stroke="#8a0f2c" stroke-width="0.75"/>
<circle cx="90.90" cy="275.18" r="1.2" fill="#b0405a" stroke="#8a0f2c" stroke-width="0.75"/>
<circle cx="91.57" cy="276.76" r="1.2" fill="#b0405a" stroke="#8a0f2c" stroke-width="0.75"/>
<circle cx="91.35" cy="281.52" r="1.2" fill="#b0405a" stroke="#8a0f2c" stroke-width="0.75"/>
<circle cx="92.50" cy="283.90" r="1.2" fill="#b0405a" stroke="#8a0f2c" stroke-width="0.75"/>
<circle cx="91.01" cy="287.86" r="1.2" fill="#b0405a" stroke="#8a0f2c" stroke-width="0.75"/>
<circle cx="94.75" cy="291.03" r="1.2" fill="#b0405a" stroke="#8a0f2c" stroke-width="0.75"/>
<circle cx="93.60" cy="295.78" r="1.2" fill="#b0405a" stroke="#8a0f2c" stroke-width="0.75"/>
<circle cx="91.55" cy="299.75" r="1.2" fill="#b0405a" stroke="#8a0f2c" stroke-width="0.75"/>
<circle cx="92.01" cy="303.71" r="1.2" fill="#b0405a" stroke="#8a0f2c" stroke-width="0.75"/>
<circle cx="100.37" cy="317.97" r="1.15" fill="#3d5d94" stroke="#27406e" stroke-width="0.75"/>
<circle cx="100.45" cy="318.77" r="1.15" fill="#3d5d94" stroke="#27406e" stroke-width="0.75"/>
<circle cx="99.29" cy="319.24" r="1.15" fill="#3d5d94" stroke="#27406e" stroke-width="0.75"/>
<circle cx="102.77" cy="319.56" r="1.15" fill="#3d5d94" stroke="#27406e" stroke-width="0.75"/>
<circle cx="103.47" cy="319.88" r="1.15" fill="#3d5d94" stroke="#27406e" stroke-width="0.75"/>
<circle cx="100.94" cy="320.35" r="1.15" fill="#3d5d94" stroke="#27406e" stroke-width="0.75"/>
<circle cx="101.02" cy="320.83" r="1.15" fill="#3d5d94" stroke="#27406e" stroke-width="0.75"/>
<circle cx="99.11" cy="321.14" r="1.15" fill="#3d5d94" stroke="#27406e" stroke-width="0.75"/>
<circle cx="99.19" cy="321.46" r="1.15" fill="#3d5d94" stroke="#27406e" stroke-width="0.75"/>
<circle cx="100.34" cy="321.94" r="1.15" fill="#3d5d94" stroke="#27406e" stroke-width="0.75"/>
<circle cx="99.97" cy="322.41" r="1.15" fill="#3d5d94" stroke="#27406e" stroke-width="0.75"/>
<line x1="30.50" y1="266.50" x2="41.50" y2="266.50" stroke="#1a1a1a" stroke-width="0.9" />
<circle cx="33.60" cy="262.80" r="0.92" fill="#111" stroke="none" stroke-width="0.6"/>
<circle cx="36.00" cy="262.80" r="0.92" fill="#111" stroke="none" stroke-width="0.6"/>
<circle cx="38.40" cy="262.80" r="0.92" fill="#111" stroke="none" stroke-width="0.6"/>
<line x1="52.50" y1="266.50" x2="63.50" y2="266.50" stroke="#1a1a1a" stroke-width="0.9" />
<circle cx="55.60" cy="262.80" r="0.92" fill="#111" stroke="none" stroke-width="0.6"/>
<circle cx="58.00" cy="262.80" r="0.92" fill="#111" stroke="none" stroke-width="0.6"/>
<circle cx="60.40" cy="262.80" r="0.92" fill="#111" stroke="none" stroke-width="0.6"/>
<line x1="71.00" y1="296.50" x2="82.00" y2="296.50" stroke="#1a1a1a" stroke-width="0.9" />
<circle cx="74.10" cy="292.80" r="0.92" fill="#111" stroke="none" stroke-width="0.6"/>
<circle cx="76.50" cy="292.80" r="0.92" fill="#111" stroke="none" stroke-width="0.6"/>
<circle cx="78.90" cy="292.80" r="0.92" fill="#111" stroke="none" stroke-width="0.6"/>
<line x1="92.20" y1="262.10" x2="103.60" y2="262.10" stroke="#1a1a1a" stroke-width="0.9" />
<circle cx="95.50" cy="258.40" r="0.92" fill="#111" stroke="none" stroke-width="0.6"/>
<circle cx="97.90" cy="258.40" r="0.92" fill="#111" stroke="none" stroke-width="0.6"/>
<circle cx="100.30" cy="258.40" r="0.92" fill="#111" stroke="none" stroke-width="0.6"/>
<text transform="translate(38.60,333.60) rotate(-45) scale(0.95,1)" font-size="5.0" text-anchor="end" font-weight="normal" font-style="normal" fill="#1a1a1a"  stroke="#1a1a1a" stroke-width="0.12">Spleen</text>
<text transform="translate(59.00,333.60) rotate(-45) scale(0.95,1)" font-size="5.0" text-anchor="end" font-weight="normal" font-style="normal" fill="#1a1a1a"  stroke="#1a1a1a" stroke-width="0.12">mLN</text>
<text transform="translate(79.40,333.60) rotate(-45) scale(0.95,1)" font-size="5.0" text-anchor="end" font-weight="normal" font-style="normal" fill="#1a1a1a"  stroke="#1a1a1a" stroke-width="0.12">pLN</text>
<text transform="translate(99.60,333.60) rotate(-45) scale(0.95,1)" font-size="5.0" text-anchor="end" font-weight="normal" font-style="normal" fill="#1a1a1a"  stroke="#1a1a1a" stroke-width="0.12">Liver</text>
<text transform="translate(12.80,293.30) rotate(-90)" font-size="6.0" text-anchor="middle" font-weight="normal" font-style="normal" fill="#1a1a1a" textLength="51.5" lengthAdjust="spacingAndGlyphs" stroke="#1a1a1a" stroke-width="0.32">% eYFP<tspan dy="-2.28" font-size="3.90">+</tspan><tspan dy="2.28">​</tspan> in CD4<tspan dy="-2.28" font-size="3.90">+</tspan><tspan dy="2.28">​</tspan> T cells</text>
<line x1="142.70" y1="260.30" x2="142.70" y2="326.50" stroke="#1a1a1a" stroke-width="1.5" />
<line x1="142.10" y1="325.90" x2="222.80" y2="325.90" stroke="#1a1a1a" stroke-width="1.5" />
<line x1="140.40" y1="325.90" x2="142.70" y2="325.90" stroke="#1a1a1a" stroke-width="0.9" />
<text transform="translate(138.40,327.80) scale(0.98,1)" font-size="5.4" text-anchor="end" font-weight="normal" font-style="normal" fill="#1a1a1a"  stroke="#1a1a1a" stroke-width="0.12">0.00</text>
<line x1="140.40" y1="313.22" x2="142.70" y2="313.22" stroke="#1a1a1a" stroke-width="0.9" />
<text transform="translate(138.40,315.12) scale(0.98,1)" font-size="5.4" text-anchor="end" font-weight="normal" font-style="normal" fill="#1a1a1a"  stroke="#1a1a1a" stroke-width="0.12">0.01</text>
<line x1="140.40" y1="300.54" x2="142.70" y2="300.54" stroke="#1a1a1a" stroke-width="0.9" />
<text transform="translate(138.40,302.44) scale(0.98,1)" font-size="5.4" text-anchor="end" font-weight="normal" font-style="normal" fill="#1a1a1a"  stroke="#1a1a1a" stroke-width="0.12">0.02</text>
<line x1="140.40" y1="287.86" x2="142.70" y2="287.86" stroke="#1a1a1a" stroke-width="0.9" />
<text transform="translate(138.40,289.76) scale(0.98,1)" font-size="5.4" text-anchor="end" font-weight="normal" font-style="normal" fill="#1a1a1a"  stroke="#1a1a1a" stroke-width="0.12">0.03</text>
<line x1="140.40" y1="275.18" x2="142.70" y2="275.18" stroke="#1a1a1a" stroke-width="0.9" />
<text transform="translate(138.40,277.08) scale(0.98,1)" font-size="5.4" text-anchor="end" font-weight="normal" font-style="normal" fill="#1a1a1a"  stroke="#1a1a1a" stroke-width="0.12">0.04</text>
<line x1="140.40" y1="262.50" x2="142.70" y2="262.50" stroke="#1a1a1a" stroke-width="0.9" />
<text transform="translate(138.40,264.40) scale(0.98,1)" font-size="5.4" text-anchor="end" font-weight="normal" font-style="normal" fill="#1a1a1a"  stroke="#1a1a1a" stroke-width="0.12">0.05</text>
<line x1="152.50" y1="325.90" x2="152.50" y2="327.90" stroke="#1a1a1a" stroke-width="0.9" />
<line x1="173.10" y1="325.90" x2="173.10" y2="327.90" stroke="#1a1a1a" stroke-width="0.9" />
<line x1="193.60" y1="325.90" x2="193.60" y2="327.90" stroke="#1a1a1a" stroke-width="0.9" />
<line x1="214.00" y1="325.90" x2="214.00" y2="327.90" stroke="#1a1a1a" stroke-width="0.9" />
<rect x="145.20" y="291.66" width="7.00" height="34.24" fill="#fff" stroke="#1a1a1a" stroke-width="0.95" />
<line x1="148.70" y1="286.59" x2="148.70" y2="291.66" stroke="#1a1a1a" stroke-width="0.8" />
<line x1="147.10" y1="286.59" x2="150.30" y2="286.59" stroke="#1a1a1a" stroke-width="0.8" />
<rect x="152.70" y="320.83" width="6.50" height="5.07" fill="#fff" stroke="#2b3f63" stroke-width="0.95" />
<circle cx="150.02" cy="271.38" r="1.2" fill="#b0405a" stroke="#8a0f2c" stroke-width="0.75"/>
<circle cx="147.35" cy="272.64" r="1.2" fill="#b0405a" stroke="#8a0f2c" stroke-width="0.75"/>
<circle cx="146.79" cy="281.52" r="1.2" fill="#b0405a" stroke="#8a0f2c" stroke-width="0.75"/>
<circle cx="150.50" cy="282.79" r="1.2" fill="#b0405a" stroke="#8a0f2c" stroke-width="0.75"/>
<circle cx="148.81" cy="287.86" r="1.2" fill="#b0405a" stroke="#8a0f2c" stroke-width="0.75"/>
<circle cx="147.29" cy="290.40" r="1.2" fill="#b0405a" stroke="#8a0f2c" stroke-width="0.75"/>
<circle cx="148.87" cy="298.00" r="1.2" fill="#b0405a" stroke="#8a0f2c" stroke-width="0.75"/>
<circle cx="146.81" cy="300.54" r="1.2" fill="#b0405a" stroke="#8a0f2c" stroke-width="0.75"/>
<circle cx="148.81" cy="304.34" r="1.2" fill="#b0405a" stroke="#8a0f2c" stroke-width="0.75"/>
<circle cx="150.61" cy="323.36" r="1.2" fill="#b0405a" stroke="#8a0f2c" stroke-width="0.75"/>
<circle cx="157.55" cy="317.02" r="1.15" fill="#3d5d94" stroke="#27406e" stroke-width="0.75"/>
<circle cx="156.81" cy="318.29" r="1.15" fill="#3d5d94" stroke="#27406e" stroke-width="0.75"/>
<circle cx="154.90" cy="319.56" r="1.15" fill="#3d5d94" stroke="#27406e" stroke-width="0.75"/>
<circle cx="155.36" cy="320.19" r="1.15" fill="#3d5d94" stroke="#27406e" stroke-width="0.75"/>
<circle cx="154.48" cy="320.83" r="1.15" fill="#3d5d94" stroke="#27406e" stroke-width="0.75"/>
<circle cx="157.15" cy="321.46" r="1.15" fill="#3d5d94" stroke="#27406e" stroke-width="0.75"/>
<circle cx="156.09" cy="322.10" r="1.15" fill="#3d5d94" stroke="#27406e" stroke-width="0.75"/>
<circle cx="157.18" cy="322.73" r="1.15" fill="#3d5d94" stroke="#27406e" stroke-width="0.75"/>
<circle cx="155.20" cy="323.36" r="1.15" fill="#3d5d94" stroke="#27406e" stroke-width="0.75"/>
<circle cx="154.73" cy="324.00" r="1.15" fill="#3d5d94" stroke="#27406e" stroke-width="0.75"/>
<rect x="165.80" y="313.85" width="7.00" height="12.05" fill="#fff" stroke="#1a1a1a" stroke-width="0.95" />
<line x1="169.30" y1="311.95" x2="169.30" y2="313.85" stroke="#1a1a1a" stroke-width="0.8" />
<line x1="167.70" y1="311.95" x2="170.90" y2="311.95" stroke="#1a1a1a" stroke-width="0.8" />
<rect x="173.30" y="322.10" width="7.10" height="3.80" fill="#fff" stroke="#2b3f63" stroke-width="0.95" />
<circle cx="170.55" cy="304.34" r="1.2" fill="#b0405a" stroke="#8a0f2c" stroke-width="0.75"/>
<circle cx="171.24" cy="306.88" r="1.2" fill="#b0405a" stroke="#8a0f2c" stroke-width="0.75"/>
<circle cx="170.71" cy="310.68" r="1.2" fill="#b0405a" stroke="#8a0f2c" stroke-width="0.75"/>
<circle cx="170.52" cy="311.95" r="1.2" fill="#b0405a" stroke="#8a0f2c" stroke-width="0.75"/>
<circle cx="170.57" cy="313.22" r="1.2" fill="#b0405a" stroke="#8a0f2c" stroke-width="0.75"/>
<circle cx="170.26" cy="314.49" r="1.2" fill="#b0405a" stroke="#8a0f2c" stroke-width="0.75"/>
<circle cx="168.21" cy="315.76" r="1.2" fill="#b0405a" stroke="#8a0f2c" stroke-width="0.75"/>
<circle cx="169.37" cy="317.02" r="1.2" fill="#b0405a" stroke="#8a0f2c" stroke-width="0.75"/>
<circle cx="168.72" cy="318.29" r="1.2" fill="#b0405a" stroke="#8a0f2c" stroke-width="0.75"/>
<circle cx="167.42" cy="319.56" r="1.2" fill="#b0405a" stroke="#8a0f2c" stroke-width="0.75"/>
<circle cx="167.41" cy="320.83" r="1.2" fill="#b0405a" stroke="#8a0f2c" stroke-width="0.75"/>
<circle cx="168.42" cy="323.36" r="1.2" fill="#b0405a" stroke="#8a0f2c" stroke-width="0.75"/>
<circle cx="175.79" cy="320.83" r="1.15" fill="#3d5d94" stroke="#27406e" stroke-width="0.75"/>
<circle cx="177.70" cy="321.46" r="1.15" fill="#3d5d94" stroke="#27406e" stroke-width="0.75"/>
<circle cx="178.86" cy="322.10" r="1.15" fill="#3d5d94" stroke="#27406e" stroke-width="0.75"/>
<circle cx="176.62" cy="322.10" r="1.15" fill="#3d5d94" stroke="#27406e" stroke-width="0.75"/>
<circle cx="178.77" cy="322.73" r="1.15" fill="#3d5d94" stroke="#27406e" stroke-width="0.75"/>
<circle cx="179.00" cy="323.36" r="1.15" fill="#3d5d94" stroke="#27406e" stroke-width="0.75"/>
<circle cx="178.85" cy="324.00" r="1.15" fill="#3d5d94" stroke="#27406e" stroke-width="0.75"/>
<circle cx="176.25" cy="324.63" r="1.15" fill="#3d5d94" stroke="#27406e" stroke-width="0.75"/>
<rect x="186.60" y="320.57" width="6.40" height="5.33" fill="#fff" stroke="#1a1a1a" stroke-width="0.95" />
<line x1="189.80" y1="319.94" x2="189.80" y2="320.57" stroke="#1a1a1a" stroke-width="0.8" />
<line x1="188.20" y1="319.94" x2="191.40" y2="319.94" stroke="#1a1a1a" stroke-width="0.8" />
<rect x="193.60" y="324.38" width="6.90" height="1.52" fill="#fff" stroke="#2b3f63" stroke-width="0.95" />
<circle cx="188.68" cy="317.66" r="1.2" fill="#b0405a" stroke="#8a0f2c" stroke-width="0.75"/>
<circle cx="188.71" cy="318.93" r="1.2" fill="#b0405a" stroke="#8a0f2c" stroke-width="0.75"/>
<circle cx="188.59" cy="319.56" r="1.2" fill="#b0405a" stroke="#8a0f2c" stroke-width="0.75"/>
<circle cx="188.62" cy="320.19" r="1.2" fill="#b0405a" stroke="#8a0f2c" stroke-width="0.75"/>
<circle cx="190.30" cy="320.83" r="1.2" fill="#b0405a" stroke="#8a0f2c" stroke-width="0.75"/>
<circle cx="191.40" cy="320.83" r="1.2" fill="#b0405a" stroke="#8a0f2c" stroke-width="0.75"/>
<circle cx="191.16" cy="321.46" r="1.2" fill="#b0405a" stroke="#8a0f2c" stroke-width="0.75"/>
<circle cx="189.72" cy="322.10" r="1.2" fill="#b0405a" stroke="#8a0f2c" stroke-width="0.75"/>
<circle cx="190.41" cy="322.73" r="1.2" fill="#b0405a" stroke="#8a0f2c" stroke-width="0.75"/>
<circle cx="198.37" cy="324.00" r="1.15" fill="#3d5d94" stroke="#27406e" stroke-width="0.75"/>
<circle cx="195.22" cy="324.38" r="1.15" fill="#3d5d94" stroke="#27406e" stroke-width="0.75"/>
<circle cx="197.76" cy="324.63" r="1.15" fill="#3d5d94" stroke="#27406e" stroke-width="0.75"/>
<circle cx="198.85" cy="324.63" r="1.15" fill="#3d5d94" stroke="#27406e" stroke-width="0.75"/>
<circle cx="198.29" cy="324.89" r="1.15" fill="#3d5d94" stroke="#27406e" stroke-width="0.75"/>
<circle cx="198.15" cy="325.14" r="1.15" fill="#3d5d94" stroke="#27406e" stroke-width="0.75"/>
<rect x="206.70" y="307.51" width="6.90" height="18.39" fill="#fff" stroke="#1a1a1a" stroke-width="0.95" />
<line x1="210.15" y1="304.34" x2="210.15" y2="307.51" stroke="#1a1a1a" stroke-width="0.8" />
<line x1="208.55" y1="304.34" x2="211.75" y2="304.34" stroke="#1a1a1a" stroke-width="0.8" />
<rect x="214.30" y="320.57" width="6.70" height="5.33" fill="#fff" stroke="#2b3f63" stroke-width="0.95" />
<circle cx="210.06" cy="286.59" r="1.2" fill="#b0405a" stroke="#8a0f2c" stroke-width="0.75"/>
<circle cx="208.86" cy="287.86" r="1.2" fill="#b0405a" stroke="#8a0f2c" stroke-width="0.75"/>
<circle cx="211.31" cy="304.34" r="1.2" fill="#b0405a" stroke="#8a0f2c" stroke-width="0.75"/>
<circle cx="209.48" cy="305.61" r="1.2" fill="#b0405a" stroke="#8a0f2c" stroke-width="0.75"/>
<circle cx="211.35" cy="308.15" r="1.2" fill="#b0405a" stroke="#8a0f2c" stroke-width="0.75"/>
<circle cx="212.04" cy="310.68" r="1.2" fill="#b0405a" stroke="#8a0f2c" stroke-width="0.75"/>
<circle cx="209.73" cy="313.22" r="1.2" fill="#b0405a" stroke="#8a0f2c" stroke-width="0.75"/>
<circle cx="209.76" cy="315.76" r="1.2" fill="#b0405a" stroke="#8a0f2c" stroke-width="0.75"/>
<circle cx="211.94" cy="319.56" r="1.2" fill="#b0405a" stroke="#8a0f2c" stroke-width="0.75"/>
<circle cx="211.05" cy="323.36" r="1.2" fill="#b0405a" stroke="#8a0f2c" stroke-width="0.75"/>
<circle cx="216.20" cy="317.66" r="1.15" fill="#3d5d94" stroke="#27406e" stroke-width="0.75"/>
<circle cx="216.01" cy="318.29" r="1.15" fill="#3d5d94" stroke="#27406e" stroke-width="0.75"/>
<circle cx="216.12" cy="319.56" r="1.15" fill="#3d5d94" stroke="#27406e" stroke-width="0.75"/>
<circle cx="219.43" cy="320.19" r="1.15" fill="#3d5d94" stroke="#27406e" stroke-width="0.75"/>
<circle cx="219.00" cy="320.83" r="1.15" fill="#3d5d94" stroke="#27406e" stroke-width="0.75"/>
<circle cx="216.09" cy="321.46" r="1.15" fill="#3d5d94" stroke="#27406e" stroke-width="0.75"/>
<circle cx="219.09" cy="322.10" r="1.15" fill="#3d5d94" stroke="#27406e" stroke-width="0.75"/>
<circle cx="219.76" cy="322.73" r="1.15" fill="#3d5d94" stroke="#27406e" stroke-width="0.75"/>
<circle cx="218.34" cy="323.36" r="1.15" fill="#3d5d94" stroke="#27406e" stroke-width="0.75"/>
<line x1="147.70" y1="266.40" x2="157.70" y2="266.40" stroke="#1a1a1a" stroke-width="0.9" />
<circle cx="150.30" cy="262.70" r="0.92" fill="#111" stroke="none" stroke-width="0.6"/>
<circle cx="152.70" cy="262.70" r="0.92" fill="#111" stroke="none" stroke-width="0.6"/>
<circle cx="155.10" cy="262.70" r="0.92" fill="#111" stroke="none" stroke-width="0.6"/>
<line x1="169.00" y1="294.80" x2="178.30" y2="294.80" stroke="#1a1a1a" stroke-width="0.9" />
<circle cx="171.25" cy="291.10" r="0.92" fill="#111" stroke="none" stroke-width="0.6"/>
<circle cx="173.65" cy="291.10" r="0.92" fill="#111" stroke="none" stroke-width="0.6"/>
<circle cx="176.05" cy="291.10" r="0.92" fill="#111" stroke="none" stroke-width="0.6"/>
<line x1="190.00" y1="311.70" x2="198.40" y2="311.70" stroke="#1a1a1a" stroke-width="0.9" />
<circle cx="191.80" cy="308.00" r="0.92" fill="#111" stroke="none" stroke-width="0.6"/>
<circle cx="194.20" cy="308.00" r="0.92" fill="#111" stroke="none" stroke-width="0.6"/>
<circle cx="196.60" cy="308.00" r="0.92" fill="#111" stroke="none" stroke-width="0.6"/>
<line x1="209.20" y1="278.20" x2="218.50" y2="278.20" stroke="#1a1a1a" stroke-width="0.9" />
<circle cx="211.45" cy="274.50" r="0.92" fill="#111" stroke="none" stroke-width="0.6"/>
<circle cx="213.85" cy="274.50" r="0.92" fill="#111" stroke="none" stroke-width="0.6"/>
<circle cx="216.25" cy="274.50" r="0.92" fill="#111" stroke="none" stroke-width="0.6"/>
<text transform="translate(154.80,333.60) rotate(-45) scale(0.95,1)" font-size="5.0" text-anchor="end" font-weight="normal" font-style="normal" fill="#1a1a1a"  stroke="#1a1a1a" stroke-width="0.12">Spleen</text>
<text transform="translate(175.20,333.60) rotate(-45) scale(0.95,1)" font-size="5.0" text-anchor="end" font-weight="normal" font-style="normal" fill="#1a1a1a"  stroke="#1a1a1a" stroke-width="0.12">mLN</text>
<text transform="translate(195.80,333.60) rotate(-45) scale(0.95,1)" font-size="5.0" text-anchor="end" font-weight="normal" font-style="normal" fill="#1a1a1a"  stroke="#1a1a1a" stroke-width="0.12">pLN</text>
<text transform="translate(216.20,333.60) rotate(-45) scale(0.95,1)" font-size="5.0" text-anchor="end" font-weight="normal" font-style="normal" fill="#1a1a1a"  stroke="#1a1a1a" stroke-width="0.12">Liver</text>
<text transform="translate(122.40,292.60) rotate(-90)" font-size="6.0" text-anchor="middle" font-weight="normal" font-style="normal" fill="#1a1a1a" textLength="41.5" lengthAdjust="spacingAndGlyphs" stroke="#1a1a1a" stroke-width="0.32">CD4<tspan dy="-2.28" font-size="3.90">+</tspan><tspan dy="2.28">​</tspan>YFP<tspan dy="-2.28" font-size="3.90">+</tspan><tspan dy="2.28">​</tspan> cells x 10<tspan dy="-2.28" font-size="3.90">6</tspan><tspan dy="2.28">​</tspan></text>
<text transform="translate(7.60,366.80)" font-size="12.0" text-anchor="start" font-weight="bold" font-style="normal" fill="#000"  stroke="#000" stroke-width="0.35">D</text>
<rect x="33.50" y="362.50" width="8.10" height="4.60" fill="#d9877d" stroke="#a3202f" stroke-width="0.6" />
<text transform="translate(44.20,366.20)" font-size="5.3" text-anchor="start" font-weight="normal" font-style="normal" fill="#1a1a1a" textLength="21.5" lengthAdjust="spacingAndGlyphs" stroke="#1a1a1a" stroke-width="0.12">CD4<tspan dy="-2.01" font-size="3.44">+</tspan><tspan dy="2.01">​</tspan>YFP<tspan dy="-2.01" font-size="3.44">-</tspan><tspan dy="2.01">​</tspan></text>
<line x1="76.40" y1="364.60" x2="84.50" y2="364.60" stroke="#333" stroke-width="0.9" />
<text transform="translate(87.00,366.20)" font-size="5.3" text-anchor="start" font-weight="normal" font-style="normal" fill="#1a1a1a" textLength="24" lengthAdjust="spacingAndGlyphs" stroke="#1a1a1a" stroke-width="0.12">CD4<tspan dy="-2.01" font-size="3.44">+</tspan><tspan dy="2.01">​</tspan>YFP<tspan dy="-2.01" font-size="3.44">+</tspan><tspan dy="2.01">​</tspan></text>
<rect x="32.90" y="383.30" width="64.60" height="67.00" fill="none" stroke="#1a1a1a" stroke-width="1.1" />
<text transform="translate(65.20,379.10) scale(0.9,1)" font-size="6.5" text-anchor="middle" font-weight="normal" font-style="normal" fill="#1a1a1a"  stroke="#1a1a1a" stroke-width="0.12">naive</text>
<line x1="30.90" y1="449.80" x2="32.90" y2="449.80" stroke="#1a1a1a" stroke-width="0.8" />
<text transform="translate(28.90,451.80)" font-size="5.6" text-anchor="end" font-weight="normal" font-style="normal" fill="#1a1a1a"  stroke="#1a1a1a" stroke-width="0.12">0</text>
<line x1="30.90" y1="436.90" x2="32.90" y2="436.90" stroke="#1a1a1a" stroke-width="0.8" />
<text transform="translate(28.90,438.90)" font-size="5.6" text-anchor="end" font-weight="normal" font-style="normal" fill="#1a1a1a"  stroke="#1a1a1a" stroke-width="0.12">20</text>
<line x1="30.90" y1="424.00" x2="32.90" y2="424.00" stroke="#1a1a1a" stroke-width="0.8" />
<text transform="translate(28.90,426.00)" font-size="5.6" text-anchor="end" font-weight="normal" font-style="normal" fill="#1a1a1a"  stroke="#1a1a1a" stroke-width="0.12">40</text>
<line x1="30.90" y1="411.10" x2="32.90" y2="411.10" stroke="#1a1a1a" stroke-width="0.8" />
<text transform="translate(28.90,413.10)" font-size="5.6" text-anchor="end" font-weight="normal" font-style="normal" fill="#1a1a1a"  stroke="#1a1a1a" stroke-width="0.12">60</text>
<line x1="30.90" y1="398.20" x2="32.90" y2="398.20" stroke="#1a1a1a" stroke-width="0.8" />
<text transform="translate(28.90,400.20)" font-size="5.6" text-anchor="end" font-weight="normal" font-style="normal" fill="#1a1a1a"  stroke="#1a1a1a" stroke-width="0.12">80</text>
<line x1="30.90" y1="385.30" x2="32.90" y2="385.30" stroke="#1a1a1a" stroke-width="0.8" />
<text transform="translate(28.90,387.30)" font-size="5.6" text-anchor="end" font-weight="normal" font-style="normal" fill="#1a1a1a"  stroke="#1a1a1a" stroke-width="0.12">100</text>
<line x1="31.70" y1="443.35" x2="32.90" y2="443.35" stroke="#1a1a1a" stroke-width="0.6" />
<line x1="31.70" y1="430.45" x2="32.90" y2="430.45" stroke="#1a1a1a" stroke-width="0.6" />
<line x1="31.70" y1="417.55" x2="32.90" y2="417.55" stroke="#1a1a1a" stroke-width="0.6" />
<line x1="31.70" y1="404.65" x2="32.90" y2="404.65" stroke="#1a1a1a" stroke-width="0.6" />
<line x1="31.70" y1="391.75" x2="32.90" y2="391.75" stroke="#1a1a1a" stroke-width="0.6" />
<line x1="45.00" y1="450.30" x2="45.00" y2="452.30" stroke="#1a1a1a" stroke-width="0.8" />
<text transform="translate(45.00,459.50)" font-size="5.4" text-anchor="middle" font-weight="normal" font-style="normal" fill="#1a1a1a"  stroke="#1a1a1a" stroke-width="0.12">0</text>
<line x1="60.50" y1="450.30" x2="60.50" y2="452.30" stroke="#1a1a1a" stroke-width="0.8" />
<text transform="translate(60.50,459.50)" font-size="5.4" text-anchor="middle" font-weight="normal" font-style="normal" fill="#1a1a1a"  stroke="#1a1a1a" stroke-width="0.12">10<tspan dy="-2.05" font-size="3.51">3</tspan><tspan dy="2.05">​</tspan></text>
<line x1="75.60" y1="450.30" x2="75.60" y2="452.30" stroke="#1a1a1a" stroke-width="0.8" />
<text transform="translate(75.60,459.50)" font-size="5.4" text-anchor="middle" font-weight="normal" font-style="normal" fill="#1a1a1a"  stroke="#1a1a1a" stroke-width="0.12">10<tspan dy="-2.05" font-size="3.51">4</tspan><tspan dy="2.05">​</tspan></text>
<line x1="90.50" y1="450.30" x2="90.50" y2="452.30" stroke="#1a1a1a" stroke-width="0.8" />
<text transform="translate(90.50,459.50)" font-size="5.4" text-anchor="middle" font-weight="normal" font-style="normal" fill="#1a1a1a"  stroke="#1a1a1a" stroke-width="0.12">10<tspan dy="-2.05" font-size="3.51">5</tspan><tspan dy="2.05">​</tspan></text>
<path d="M33.60,449.60 L36.00,448.90 L38.00,447.50 L39.50,444.00 L40.50,438.00 L41.50,428.00 L42.30,418.00 L43.20,405.00 L44.10,392.00 L44.90,386.20 L45.70,390.00 L46.90,405.30 L47.80,418.00 L48.70,429.00 L49.60,436.00 L50.50,440.50 L51.40,443.60 L53.00,446.50 L55.00,448.30 L57.00,449.20 L60.00,449.70 L60.00,449.80 L33.60,449.80 Z" fill="#d08075" stroke="none" stroke-width="1.0" />
<path d="M33.60,449.60 L36.00,448.90 L38.00,447.50 L39.50,444.00 L40.50,438.00 L41.50,428.00 L42.30,418.00 L43.20,405.00 L44.10,392.00 L44.90,386.20 L45.70,390.00 L46.90,405.30 L47.80,418.00 L48.70,429.00 L49.60,436.00 L50.50,440.50 L51.40,443.60 L53.00,446.50 L55.00,448.30 L57.00,449.20 L60.00,449.70" fill="none" stroke="#a51f35" stroke-width="1.2" stroke-linejoin="round"/>
<path d="M33.60,449.60 L36.00,449.00 L38.00,447.80 L39.50,446.00 L40.50,440.00 L41.50,432.00 L42.30,423.50 L43.00,412.00 L43.60,402.00 L44.30,396.20 L44.90,399.00 L45.60,397.00 L46.30,403.00 L46.90,407.00 L47.60,410.00 L48.30,413.50 L49.00,416.00 L49.60,421.00 L50.50,425.40 L51.30,427.50 L52.20,426.30 L53.00,428.00 L53.80,426.00 L55.00,424.00 L56.00,421.70 L57.00,420.00 L57.80,416.50 L58.70,414.40 L59.50,415.00 L60.30,413.70 L61.00,411.50 L61.80,410.00 L62.50,405.00 L63.20,398.00 L63.80,393.00 L64.50,386.90 L65.20,393.00 L65.80,397.00 L66.50,399.00 L67.20,402.50 L67.70,404.80 L68.40,410.00 L69.20,418.00 L70.00,425.00 L70.80,430.00 L71.60,434.50 L72.50,439.50 L73.50,444.50 L74.50,447.80 L75.60,449.40 L77.00,449.70" fill="none" stroke="#233a6a" stroke-width="1.15" stroke-linejoin="round"/>
<line x1="54.60" y1="403.20" x2="96.40" y2="403.20" stroke="#333" stroke-width="0.9" />
<line x1="54.60" y1="401.00" x2="54.60" y2="405.40" stroke="#333" stroke-width="0.9" />
<line x1="96.40" y1="401.00" x2="96.40" y2="405.40" stroke="#333" stroke-width="0.9" />
<text transform="translate(75.50,400.80)" font-size="5.3" text-anchor="middle" font-weight="normal" font-style="normal" fill="#1a1a1a"  stroke="#1a1a1a" stroke-width="0.12">59.8</text>
<rect x="113.60" y="383.30" width="67.00" height="67.00" fill="none" stroke="#1a1a1a" stroke-width="1.1" />
<text transform="translate(147.10,379.10)" font-size="7.0" text-anchor="middle" font-weight="normal" font-style="normal" fill="#1a1a1a"  stroke="#1a1a1a" stroke-width="0.12">D7</text>
<line x1="111.60" y1="449.80" x2="113.60" y2="449.80" stroke="#1a1a1a" stroke-width="0.8" />
<text transform="translate(109.60,451.80)" font-size="5.6" text-anchor="end" font-weight="normal" font-style="normal" fill="#1a1a1a"  stroke="#1a1a1a" stroke-width="0.12">0</text>
<line x1="111.60" y1="436.90" x2="113.60" y2="436.90" stroke="#1a1a1a" stroke-width="0.8" />
<text transform="translate(109.60,438.90)" font-size="5.6" text-anchor="end" font-weight="normal" font-style="normal" fill="#1a1a1a"  stroke="#1a1a1a" stroke-width="0.12">20</text>
<line x1="111.60" y1="424.00" x2="113.60" y2="424.00" stroke="#1a1a1a" stroke-width="0.8" />
<text transform="translate(109.60,426.00)" font-size="5.6" text-anchor="end" font-weight="normal" font-style="normal" fill="#1a1a1a"  stroke="#1a1a1a" stroke-width="0.12">40</text>
<line x1="111.60" y1="411.10" x2="113.60" y2="411.10" stroke="#1a1a1a" stroke-width="0.8" />
<text transform="translate(109.60,413.10)" font-size="5.6" text-anchor="end" font-weight="normal" font-style="normal" fill="#1a1a1a"  stroke="#1a1a1a" stroke-width="0.12">60</text>
<line x1="111.60" y1="398.20" x2="113.60" y2="398.20" stroke="#1a1a1a" stroke-width="0.8" />
<text transform="translate(109.60,400.20)" font-size="5.6" text-anchor="end" font-weight="normal" font-style="normal" fill="#1a1a1a"  stroke="#1a1a1a" stroke-width="0.12">80</text>
<line x1="111.60" y1="385.30" x2="113.60" y2="385.30" stroke="#1a1a1a" stroke-width="0.8" />
<text transform="translate(109.60,387.30)" font-size="5.6" text-anchor="end" font-weight="normal" font-style="normal" fill="#1a1a1a"  stroke="#1a1a1a" stroke-width="0.12">100</text>
<line x1="112.40" y1="443.35" x2="113.60" y2="443.35" stroke="#1a1a1a" stroke-width="0.6" />
<line x1="112.40" y1="430.45" x2="113.60" y2="430.45" stroke="#1a1a1a" stroke-width="0.6" />
<line x1="112.40" y1="417.55" x2="113.60" y2="417.55" stroke="#1a1a1a" stroke-width="0.6" />
<line x1="112.40" y1="404.65" x2="113.60" y2="404.65" stroke="#1a1a1a" stroke-width="0.6" />
<line x1="112.40" y1="391.75" x2="113.60" y2="391.75" stroke="#1a1a1a" stroke-width="0.6" />
<line x1="125.30" y1="450.30" x2="125.30" y2="452.30" stroke="#1a1a1a" stroke-width="0.8" />
<text transform="translate(125.30,459.50)" font-size="5.4" text-anchor="middle" font-weight="normal" font-style="normal" fill="#1a1a1a"  stroke="#1a1a1a" stroke-width="0.12">0</text>
<line x1="141.00" y1="450.30" x2="141.00" y2="452.30" stroke="#1a1a1a" stroke-width="0.8" />
<text transform="translate(141.00,459.50)" font-size="5.4" text-anchor="middle" font-weight="normal" font-style="normal" fill="#1a1a1a"  stroke="#1a1a1a" stroke-width="0.12">10<tspan dy="-2.05" font-size="3.51">3</tspan><tspan dy="2.05">​</tspan></text>
<line x1="158.30" y1="450.30" x2="158.30" y2="452.30" stroke="#1a1a1a" stroke-width="0.8" />
<text transform="translate(158.30,459.50)" font-size="5.4" text-anchor="middle" font-weight="normal" font-style="normal" fill="#1a1a1a"  stroke="#1a1a1a" stroke-width="0.12">10<tspan dy="-2.05" font-size="3.51">4</tspan><tspan dy="2.05">​</tspan></text>
<line x1="173.00" y1="450.30" x2="173.00" y2="452.30" stroke="#1a1a1a" stroke-width="0.8" />
<text transform="translate(173.00,459.50)" font-size="5.4" text-anchor="middle" font-weight="normal" font-style="normal" fill="#1a1a1a"  stroke="#1a1a1a" stroke-width="0.12">10<tspan dy="-2.05" font-size="3.51">5</tspan><tspan dy="2.05">​</tspan></text>
<path d="M114.10,434.00 L115.50,432.80 L117.40,431.70 L118.80,425.00 L120.50,411.30 L121.80,400.00 L122.90,392.50 L124.00,388.20 L124.90,387.00 L125.80,387.40 L126.50,388.60 L127.50,395.00 L128.40,403.50 L129.20,410.50 L130.00,417.60 L131.20,425.00 L132.30,431.70 L134.00,436.00 L136.20,439.60 L138.50,442.80 L140.90,445.00 L143.00,446.60 L145.60,447.70 L150.00,448.30 L155.00,448.60 L160.00,448.80 L165.00,449.20 L170.00,449.60 L170.00,449.80 L114.10,449.80 Z" fill="#d08075" stroke="none" stroke-width="1.0" />
<path d="M114.10,434.00 L115.50,432.80 L117.40,431.70 L118.80,425.00 L120.50,411.30 L121.80,400.00 L122.90,392.50 L124.00,388.20 L124.90,387.00 L125.80,387.40 L126.50,388.60 L127.50,395.00 L128.40,403.50 L129.20,410.50 L130.00,417.60 L131.20,425.00 L132.30,431.70 L134.00,436.00 L136.20,439.60 L138.50,442.80 L140.90,445.00 L143.00,446.60 L145.60,447.70 L150.00,448.30 L155.00,448.60 L160.00,448.80 L165.00,449.20 L170.00,449.60" fill="none" stroke="#a51f35" stroke-width="1.2" stroke-linejoin="round"/>
<path d="M114.10,433.00 L115.00,441.00 L116.00,442.50 L117.00,439.00 L118.00,437.50 L119.00,435.00 L120.00,431.00 L120.80,428.00 L121.50,423.00 L122.20,420.00 L123.00,425.00 L123.80,421.00 L124.50,424.70 L125.30,426.50 L126.00,428.50 L126.80,430.20 L127.60,431.50 L128.40,433.30 L129.50,437.00 L130.70,441.10 L131.80,440.00 L133.00,440.30 L134.50,438.50 L136.20,439.20 L137.80,441.00 L139.30,442.50 L140.90,444.30 L142.50,443.50 L143.70,441.20 L144.80,440.30 L146.00,439.50 L147.20,438.80 L148.20,436.00 L149.10,433.30 L149.80,429.00 L150.30,427.00 L151.10,429.50 L151.90,428.60 L152.70,424.00 L153.50,421.50 L154.30,418.50 L155.00,416.80 L155.80,413.50 L156.60,409.80 L157.40,405.00 L158.20,401.90 L158.80,398.00 L159.40,395.70 L160.00,394.00 L160.50,393.30 L161.00,398.00 L161.60,403.50 L162.00,401.00 L162.50,398.80 L163.00,392.00 L163.60,387.00 L164.00,389.00 L164.40,392.50 L165.20,401.00 L166.00,411.30 L166.80,421.00 L167.60,431.70 L168.40,437.00 L169.10,441.00 L170.00,444.50 L170.70,446.60 L171.50,448.20 L172.30,449.50 L174.00,449.80" fill="none" stroke="#233a6a" stroke-width="1.15" stroke-linejoin="round"/>
<line x1="141.70" y1="436.10" x2="179.30" y2="436.10" stroke="#333" stroke-width="0.9" />
<line x1="141.70" y1="433.90" x2="141.70" y2="438.30" stroke="#333" stroke-width="0.9" />
<line x1="179.30" y1="433.90" x2="179.30" y2="438.30" stroke="#333" stroke-width="0.9" />
<text transform="translate(160.50,433.70)" font-size="5.3" text-anchor="middle" font-weight="normal" font-style="normal" fill="#1a1a1a"  stroke="#1a1a1a" stroke-width="0.12">66.9</text>
<rect x="197.50" y="383.30" width="67.30" height="67.00" fill="none" stroke="#1a1a1a" stroke-width="1.1" />
<text transform="translate(231.15,379.10)" font-size="7.0" text-anchor="middle" font-weight="normal" font-style="normal" fill="#1a1a1a"  stroke="#1a1a1a" stroke-width="0.12">D21</text>
<line x1="195.50" y1="449.80" x2="197.50" y2="449.80" stroke="#1a1a1a" stroke-width="0.8" />
<text transform="translate(193.50,451.80)" font-size="5.6" text-anchor="end" font-weight="normal" font-style="normal" fill="#1a1a1a"  stroke="#1a1a1a" stroke-width="0.12">0</text>
<line x1="195.50" y1="436.90" x2="197.50" y2="436.90" stroke="#1a1a1a" stroke-width="0.8" />
<text transform="translate(193.50,438.90)" font-size="5.6" text-anchor="end" font-weight="normal" font-style="normal" fill="#1a1a1a"  stroke="#1a1a1a" stroke-width="0.12">20</text>
<line x1="195.50" y1="424.00" x2="197.50" y2="424.00" stroke="#1a1a1a" stroke-width="0.8" />
<text transform="translate(193.50,426.00)" font-size="5.6" text-anchor="end" font-weight="normal" font-style="normal" fill="#1a1a1a"  stroke="#1a1a1a" stroke-width="0.12">40</text>
<line x1="195.50" y1="411.10" x2="197.50" y2="411.10" stroke="#1a1a1a" stroke-width="0.8" />
<text transform="translate(193.50,413.10)" font-size="5.6" text-anchor="end" font-weight="normal" font-style="normal" fill="#1a1a1a"  stroke="#1a1a1a" stroke-width="0.12">60</text>
<line x1="195.50" y1="398.20" x2="197.50" y2="398.20" stroke="#1a1a1a" stroke-width="0.8" />
<text transform="translate(193.50,400.20)" font-size="5.6" text-anchor="end" font-weight="normal" font-style="normal" fill="#1a1a1a"  stroke="#1a1a1a" stroke-width="0.12">80</text>
<line x1="195.50" y1="385.30" x2="197.50" y2="385.30" stroke="#1a1a1a" stroke-width="0.8" />
<text transform="translate(193.50,387.30)" font-size="5.6" text-anchor="end" font-weight="normal" font-style="normal" fill="#1a1a1a"  stroke="#1a1a1a" stroke-width="0.12">100</text>
<line x1="196.30" y1="443.35" x2="197.50" y2="443.35" stroke="#1a1a1a" stroke-width="0.6" />
<line x1="196.30" y1="430.45" x2="197.50" y2="430.45" stroke="#1a1a1a" stroke-width="0.6" />
<line x1="196.30" y1="417.55" x2="197.50" y2="417.55" stroke="#1a1a1a" stroke-width="0.6" />
<line x1="196.30" y1="404.65" x2="197.50" y2="404.65" stroke="#1a1a1a" stroke-width="0.6" />
<line x1="196.30" y1="391.75" x2="197.50" y2="391.75" stroke="#1a1a1a" stroke-width="0.6" />
<line x1="208.50" y1="450.30" x2="208.50" y2="452.30" stroke="#1a1a1a" stroke-width="0.8" />
<text transform="translate(208.50,459.50)" font-size="5.4" text-anchor="middle" font-weight="normal" font-style="normal" fill="#1a1a1a"  stroke="#1a1a1a" stroke-width="0.12">0</text>
<line x1="225.70" y1="450.30" x2="225.70" y2="452.30" stroke="#1a1a1a" stroke-width="0.8" />
<text transform="translate(225.70,459.50)" font-size="5.4" text-anchor="middle" font-weight="normal" font-style="normal" fill="#1a1a1a"  stroke="#1a1a1a" stroke-width="0.12">10<tspan dy="-2.05" font-size="3.51">3</tspan><tspan dy="2.05">​</tspan></text>
<line x1="244.30" y1="450.30" x2="244.30" y2="452.30" stroke="#1a1a1a" stroke-width="0.8" />
<text transform="translate(244.30,459.50)" font-size="5.4" text-anchor="middle" font-weight="normal" font-style="normal" fill="#1a1a1a"  stroke="#1a1a1a" stroke-width="0.12">10<tspan dy="-2.05" font-size="3.51">4</tspan><tspan dy="2.05">​</tspan></text>
<line x1="259.00" y1="450.30" x2="259.00" y2="452.30" stroke="#1a1a1a" stroke-width="0.8" />
<text transform="translate(259.00,459.50)" font-size="5.4" text-anchor="middle" font-weight="normal" font-style="normal" fill="#1a1a1a"  stroke="#1a1a1a" stroke-width="0.12">10<tspan dy="-2.05" font-size="3.51">5</tspan><tspan dy="2.05">​</tspan></text>
<path d="M199.50,449.70 L200.60,449.00 L201.80,446.50 L203.00,441.20 L203.80,432.00 L204.60,419.20 L205.40,408.00 L206.10,397.30 L206.90,391.00 L207.70,387.50 L208.50,386.50 L209.20,389.00 L210.00,395.70 L210.80,403.50 L211.60,411.40 L212.40,419.50 L213.20,427.10 L214.00,433.00 L214.80,438.00 L215.50,442.50 L216.30,446.00 L217.50,448.30 L218.70,449.30 L221.00,449.70 L221.00,449.80 L199.50,449.80 Z" fill="#d08075" stroke="none" stroke-width="1.0" />
<path d="M199.50,449.70 L200.60,449.00 L201.80,446.50 L203.00,441.20 L203.80,432.00 L204.60,419.20 L205.40,408.00 L206.10,397.30 L206.90,391.00 L207.70,387.50 L208.50,386.50 L209.20,389.00 L210.00,395.70 L210.80,403.50 L211.60,411.40 L212.40,419.50 L213.20,427.10 L214.00,433.00 L214.80,438.00 L215.50,442.50 L216.30,446.00 L217.50,448.30 L218.70,449.30 L221.00,449.70" fill="none" stroke="#a51f35" stroke-width="1.2" stroke-linejoin="round"/>
<path d="M199.50,449.60 L200.60,448.80 L201.80,446.00 L203.00,440.50 L203.80,431.00 L204.60,418.50 L205.40,407.00 L206.10,396.50 L206.90,390.00 L207.70,386.80 L208.30,386.20 L209.00,388.50 L209.80,394.00 L210.60,402.00 L211.40,410.00 L212.20,418.50 L213.00,426.00 L213.80,432.50 L214.60,437.50 L215.40,441.50 L216.20,444.50 L217.10,446.00 L218.50,446.50 L220.30,446.70 L222.00,446.20 L223.40,446.00 L224.60,445.00 L225.80,444.40 L227.00,445.00 L228.10,445.60 L229.60,445.00 L231.20,444.40 L232.40,444.60 L233.60,443.60 L235.00,442.80 L236.00,441.30 L236.70,441.50 L237.80,442.50 L239.10,443.60 L240.60,444.80 L242.20,446.00 L243.80,447.20 L245.40,448.30 L246.50,449.20 L247.70,449.70 L250.00,449.80" fill="none" stroke="#233a6a" stroke-width="1.15" stroke-linejoin="round"/>
<line x1="218.70" y1="428.70" x2="260.80" y2="428.70" stroke="#333" stroke-width="0.9" />
<line x1="218.70" y1="426.50" x2="218.70" y2="430.90" stroke="#333" stroke-width="0.9" />
<line x1="260.80" y1="426.50" x2="260.80" y2="430.90" stroke="#333" stroke-width="0.9" />
<text transform="translate(239.75,426.30)" font-size="5.3" text-anchor="middle" font-weight="normal" font-style="normal" fill="#1a1a1a"  stroke="#1a1a1a" stroke-width="0.12">22.2</text>
<text transform="translate(13.30,417.00) rotate(-90)" font-size="6.0" text-anchor="middle" font-weight="normal" font-style="normal" fill="#1a1a1a" textLength="19.3" lengthAdjust="spacingAndGlyphs" stroke="#1a1a1a" stroke-width="0.32">% of max</text>
<text transform="translate(45.90,468.90)" font-size="5.4" text-anchor="start" font-weight="normal" font-style="normal" fill="#1a1a1a" textLength="11.8" lengthAdjust="spacingAndGlyphs" stroke="#1a1a1a" stroke-width="0.12">IL-17A</text>
<line x1="61.70" y1="466.90" x2="258.50" y2="466.90" stroke="#333" stroke-width="1.5" />
<path d="M257.5,464.6 L262.5,466.9 L257.5,469.2 Z" fill="#222" stroke="none" stroke-width="1.0" />
<text transform="translate(275.40,15.80)" font-size="12.0" text-anchor="start" font-weight="bold" font-style="normal" fill="#000"  stroke="#000" stroke-width="0.35">E</text>
<circle cx="300.00" cy="12.80" r="0.75" fill="#333" stroke="none" stroke-width="0.6"/>
<text transform="translate(302.50,14.40)" font-size="5.3" text-anchor="start" font-weight="normal" font-style="normal" fill="#1a1a1a" textLength="25" lengthAdjust="spacingAndGlyphs" stroke="#1a1a1a" stroke-width="0.12">CD4<tspan dy="-2.01" font-size="3.44">+</tspan><tspan dy="2.01">​</tspan>YFP<tspan dy="-2.01" font-size="3.44">-</tspan><tspan dy="2.01">​</tspan></text>
<circle cx="332.80" cy="12.80" r="0.75" fill="#333" stroke="none" stroke-width="0.6"/>
<text transform="translate(335.00,14.40)" font-size="5.3" text-anchor="start" font-weight="normal" font-style="normal" fill="#1a1a1a" textLength="27.8" lengthAdjust="spacingAndGlyphs" stroke="#1a1a1a" stroke-width="0.12">CD4<tspan dy="-2.01" font-size="3.44">+</tspan><tspan dy="2.01">​</tspan>YFP<tspan dy="-2.01" font-size="3.44">+</tspan><tspan dy="2.01">​</tspan></text>
<line x1="298.80" y1="32.60" x2="298.80" y2="88.90" stroke="#1a1a1a" stroke-width="1.5" />
<line x1="298.20" y1="88.30" x2="342.50" y2="88.30" stroke="#1a1a1a" stroke-width="1.5" />
<line x1="296.50" y1="88.30" x2="298.80" y2="88.30" stroke="#1a1a1a" stroke-width="0.9" />
<text transform="translate(294.60,90.20) scale(0.98,1)" font-size="5.4" text-anchor="end" font-weight="normal" font-style="normal" fill="#1a1a1a"  stroke="#1a1a1a" stroke-width="0.12">0</text>
<line x1="296.50" y1="74.65" x2="298.80" y2="74.65" stroke="#1a1a1a" stroke-width="0.9" />
<text transform="translate(294.60,76.55) scale(0.98,1)" font-size="5.4" text-anchor="end" font-weight="normal" font-style="normal" fill="#1a1a1a"  stroke="#1a1a1a" stroke-width="0.12">20</text>
<line x1="296.50" y1="61.00" x2="298.80" y2="61.00" stroke="#1a1a1a" stroke-width="0.9" />
<text transform="translate(294.60,62.90) scale(0.98,1)" font-size="5.4" text-anchor="end" font-weight="normal" font-style="normal" fill="#1a1a1a"  stroke="#1a1a1a" stroke-width="0.12">40</text>
<line x1="296.50" y1="47.35" x2="298.80" y2="47.35" stroke="#1a1a1a" stroke-width="0.9" />
<text transform="translate(294.60,49.25) scale(0.98,1)" font-size="5.4" text-anchor="end" font-weight="normal" font-style="normal" fill="#1a1a1a"  stroke="#1a1a1a" stroke-width="0.12">60</text>
<line x1="296.50" y1="33.70" x2="298.80" y2="33.70" stroke="#1a1a1a" stroke-width="0.9" />
<text transform="translate(294.60,35.60) scale(0.98,1)" font-size="5.4" text-anchor="end" font-weight="normal" font-style="normal" fill="#1a1a1a"  stroke="#1a1a1a" stroke-width="0.12">80</text>
<rect x="303.20" y="84.55" width="5.00" height="3.75" fill="#fff" stroke="#5a2030" stroke-width="0.7" />
<circle cx="305.13" cy="82.84" r="1.1" fill="#c23a58" stroke="#9a1232" stroke-width="0.75"/>
<circle cx="305.88" cy="84.20" r="1.1" fill="#c23a58" stroke="#9a1232" stroke-width="0.75"/>
<circle cx="304.30" cy="84.89" r="1.1" fill="#c23a58" stroke="#9a1232" stroke-width="0.75"/>
<circle cx="303.85" cy="85.57" r="1.1" fill="#c23a58" stroke="#9a1232" stroke-width="0.75"/>
<circle cx="307.49" cy="86.25" r="1.1" fill="#c23a58" stroke="#9a1232" stroke-width="0.75"/>
<circle cx="306.27" cy="86.94" r="1.1" fill="#c23a58" stroke="#9a1232" stroke-width="0.75"/>
<rect x="311.20" y="48.37" width="6.40" height="39.93" fill="#c6c7cd" stroke="#2e3f66" stroke-width="0.8" />
<line x1="314.40" y1="47.01" x2="314.40" y2="48.37" stroke="#2e3f66" stroke-width="0.8" />
<line x1="312.90" y1="47.01" x2="315.90" y2="47.01" stroke="#2e3f66" stroke-width="0.8" />
<circle cx="314.50" cy="39.84" r="0.8" fill="#2a3f6c" stroke="none" stroke-width="0.6"/>
<circle cx="315.96" cy="41.89" r="0.8" fill="#2a3f6c" stroke="none" stroke-width="0.6"/>
<circle cx="314.16" cy="45.30" r="0.8" fill="#2a3f6c" stroke="none" stroke-width="0.6"/>
<circle cx="315.74" cy="47.35" r="0.8" fill="#2a3f6c" stroke="none" stroke-width="0.6"/>
<circle cx="315.57" cy="49.40" r="0.8" fill="#2a3f6c" stroke="none" stroke-width="0.6"/>
<circle cx="313.36" cy="55.54" r="0.8" fill="#2a3f6c" stroke="none" stroke-width="0.6"/>
<circle cx="313.51" cy="59.63" r="0.8" fill="#2a3f6c" stroke="none" stroke-width="0.6"/>
<line x1="309.70" y1="88.30" x2="309.70" y2="90.30" stroke="#1a1a1a" stroke-width="0.9" />
<rect x="325.30" y="86.25" width="5.50" height="2.05" fill="#fff" stroke="#5a2030" stroke-width="0.7" />
<circle cx="327.26" cy="79.43" r="1.1" fill="#c23a58" stroke="#9a1232" stroke-width="0.75"/>
<circle cx="327.06" cy="84.89" r="1.1" fill="#c23a58" stroke="#9a1232" stroke-width="0.75"/>
<circle cx="328.38" cy="86.25" r="1.1" fill="#c23a58" stroke="#9a1232" stroke-width="0.75"/>
<circle cx="327.14" cy="86.94" r="1.1" fill="#c23a58" stroke="#9a1232" stroke-width="0.75"/>
<circle cx="327.74" cy="87.62" r="1.1" fill="#c23a58" stroke="#9a1232" stroke-width="0.75"/>
<rect x="333.60" y="74.31" width="6.40" height="13.99" fill="#c6c7cd" stroke="#2e3f66" stroke-width="0.8" />
<line x1="336.80" y1="70.21" x2="336.80" y2="74.31" stroke="#2e3f66" stroke-width="0.8" />
<line x1="335.30" y1="70.21" x2="338.30" y2="70.21" stroke="#2e3f66" stroke-width="0.8" />
<circle cx="335.47" cy="45.98" r="0.8" fill="#2a3f6c" stroke="none" stroke-width="0.6"/>
<circle cx="338.28" cy="62.36" r="0.8" fill="#2a3f6c" stroke="none" stroke-width="0.6"/>
<circle cx="336.27" cy="73.28" r="0.8" fill="#2a3f6c" stroke="none" stroke-width="0.6"/>
<circle cx="336.65" cy="78.06" r="0.8" fill="#2a3f6c" stroke="none" stroke-width="0.6"/>
<circle cx="337.10" cy="83.52" r="0.8" fill="#2a3f6c" stroke="none" stroke-width="0.6"/>
<line x1="332.20" y1="88.30" x2="332.20" y2="90.30" stroke="#1a1a1a" stroke-width="0.9" />
<circle cx="312.80" cy="34.30" r="0.92" fill="#111" stroke="none" stroke-width="0.6"/>
<circle cx="315.20" cy="34.30" r="0.92" fill="#111" stroke="none" stroke-width="0.6"/>
<circle cx="317.60" cy="34.30" r="0.92" fill="#111" stroke="none" stroke-width="0.6"/>
<circle cx="335.20" cy="39.20" r="0.92" fill="#111" stroke="none" stroke-width="0.6"/>
<circle cx="337.60" cy="39.20" r="0.92" fill="#111" stroke="none" stroke-width="0.6"/>
<path d="M314.8,30.2 Q314.8,29.2 315.8,29.2 L336.2,29.2 Q337.2,29.2 337.2,30.2" fill="none" stroke="#1a1a1a" stroke-width="0.9" />
<circle cx="323.80" cy="25.40" r="0.92" fill="#111" stroke="none" stroke-width="0.6"/>
<circle cx="326.20" cy="25.40" r="0.92" fill="#111" stroke="none" stroke-width="0.6"/>
<circle cx="328.60" cy="25.40" r="0.92" fill="#111" stroke="none" stroke-width="0.6"/>
<text transform="translate(312.50,95.10) rotate(-45) scale(0.95,1)" font-size="5.3" text-anchor="end" font-weight="normal" font-style="normal" fill="#1a1a1a"  stroke="#1a1a1a" stroke-width="0.12">D7</text>
<text transform="translate(335.00,95.10) rotate(-45) scale(0.95,1)" font-size="5.3" text-anchor="end" font-weight="normal" font-style="normal" fill="#1a1a1a"  stroke="#1a1a1a" stroke-width="0.12">D21</text>
<text transform="translate(321.20,110.40) scale(0.8,1)" font-size="5.6" text-anchor="middle" font-weight="normal" font-style="normal" fill="#1a1a1a"  stroke="#1a1a1a" stroke-width="0.12">Spleen</text>
<text transform="translate(283.20,59.80) rotate(-90)" font-size="6.0" text-anchor="middle" font-weight="normal" font-style="normal" fill="#1a1a1a" textLength="35" lengthAdjust="spacingAndGlyphs" stroke="#1a1a1a" stroke-width="0.32">% IL-17A<tspan dy="-2.28" font-size="3.90">+</tspan><tspan dy="2.28">​</tspan> T cells</text>
<line x1="357.50" y1="32.60" x2="357.50" y2="88.90" stroke="#1a1a1a" stroke-width="1.5" />
<line x1="356.90" y1="88.30" x2="403.80" y2="88.30" stroke="#1a1a1a" stroke-width="1.5" />
<line x1="355.20" y1="88.30" x2="357.50" y2="88.30" stroke="#1a1a1a" stroke-width="0.9" />
<text transform="translate(353.30,90.20) scale(0.98,1)" font-size="5.4" text-anchor="end" font-weight="normal" font-style="normal" fill="#1a1a1a"  stroke="#1a1a1a" stroke-width="0.12">0</text>
<line x1="355.20" y1="74.65" x2="357.50" y2="74.65" stroke="#1a1a1a" stroke-width="0.9" />
<text transform="translate(353.30,76.55) scale(0.98,1)" font-size="5.4" text-anchor="end" font-weight="normal" font-style="normal" fill="#1a1a1a"  stroke="#1a1a1a" stroke-width="0.12">20</text>
<line x1="355.20" y1="61.00" x2="357.50" y2="61.00" stroke="#1a1a1a" stroke-width="0.9" />
<text transform="translate(353.30,62.90) scale(0.98,1)" font-size="5.4" text-anchor="end" font-weight="normal" font-style="normal" fill="#1a1a1a"  stroke="#1a1a1a" stroke-width="0.12">40</text>
<line x1="355.20" y1="47.35" x2="357.50" y2="47.35" stroke="#1a1a1a" stroke-width="0.9" />
<text transform="translate(353.30,49.25) scale(0.98,1)" font-size="5.4" text-anchor="end" font-weight="normal" font-style="normal" fill="#1a1a1a"  stroke="#1a1a1a" stroke-width="0.12">60</text>
<line x1="355.20" y1="33.70" x2="357.50" y2="33.70" stroke="#1a1a1a" stroke-width="0.9" />
<text transform="translate(353.30,35.60) scale(0.98,1)" font-size="5.4" text-anchor="end" font-weight="normal" font-style="normal" fill="#1a1a1a"  stroke="#1a1a1a" stroke-width="0.12">80</text>
<rect x="362.20" y="84.55" width="6.10" height="3.75" fill="#fff" stroke="#5a2030" stroke-width="0.7" />
<circle cx="366.79" cy="82.16" r="1.1" fill="#c23a58" stroke="#9a1232" stroke-width="0.75"/>
<circle cx="364.95" cy="83.52" r="1.1" fill="#c23a58" stroke="#9a1232" stroke-width="0.75"/>
<circle cx="366.84" cy="84.89" r="1.1" fill="#c23a58" stroke="#9a1232" stroke-width="0.75"/>
<circle cx="365.26" cy="85.57" r="1.1" fill="#c23a58" stroke="#9a1232" stroke-width="0.75"/>
<circle cx="365.37" cy="86.25" r="1.1" fill="#c23a58" stroke="#9a1232" stroke-width="0.75"/>
<circle cx="365.34" cy="86.94" r="1.1" fill="#c23a58" stroke="#9a1232" stroke-width="0.75"/>
<rect x="370.20" y="48.71" width="7.00" height="39.59" fill="#c6c7cd" stroke="#2e3f66" stroke-width="0.8" />
<line x1="373.70" y1="47.35" x2="373.70" y2="48.71" stroke="#2e3f66" stroke-width="0.8" />
<line x1="372.20" y1="47.35" x2="375.20" y2="47.35" stroke="#2e3f66" stroke-width="0.8" />
<circle cx="371.97" cy="39.16" r="0.8" fill="#2a3f6c" stroke="none" stroke-width="0.6"/>
<circle cx="373.48" cy="40.52" r="0.8" fill="#2a3f6c" stroke="none" stroke-width="0.6"/>
<circle cx="372.56" cy="43.25" r="0.8" fill="#2a3f6c" stroke="none" stroke-width="0.6"/>
<circle cx="371.91" cy="45.98" r="0.8" fill="#2a3f6c" stroke="none" stroke-width="0.6"/>
<circle cx="374.78" cy="49.40" r="0.8" fill="#2a3f6c" stroke="none" stroke-width="0.6"/>
<circle cx="372.52" cy="54.17" r="0.8" fill="#2a3f6c" stroke="none" stroke-width="0.6"/>
<circle cx="373.60" cy="57.59" r="0.8" fill="#2a3f6c" stroke="none" stroke-width="0.6"/>
<circle cx="374.51" cy="61.00" r="0.8" fill="#2a3f6c" stroke="none" stroke-width="0.6"/>
<circle cx="373.90" cy="62.36" r="0.8" fill="#2a3f6c" stroke="none" stroke-width="0.6"/>
<line x1="369.25" y1="88.30" x2="369.25" y2="90.30" stroke="#1a1a1a" stroke-width="0.9" />
<rect x="384.50" y="86.59" width="6.30" height="1.71" fill="#fff" stroke="#5a2030" stroke-width="0.7" />
<circle cx="386.99" cy="85.57" r="1.1" fill="#c23a58" stroke="#9a1232" stroke-width="0.75"/>
<circle cx="387.72" cy="86.25" r="1.1" fill="#c23a58" stroke="#9a1232" stroke-width="0.75"/>
<circle cx="387.86" cy="86.94" r="1.1" fill="#c23a58" stroke="#9a1232" stroke-width="0.75"/>
<circle cx="388.73" cy="87.62" r="1.1" fill="#c23a58" stroke="#9a1232" stroke-width="0.75"/>
<rect x="392.90" y="74.65" width="6.70" height="13.65" fill="#c6c7cd" stroke="#2e3f66" stroke-width="0.8" />
<line x1="396.25" y1="72.60" x2="396.25" y2="74.65" stroke="#2e3f66" stroke-width="0.8" />
<line x1="394.75" y1="72.60" x2="397.75" y2="72.60" stroke="#2e3f66" stroke-width="0.8" />
<circle cx="394.83" cy="63.73" r="0.8" fill="#2a3f6c" stroke="none" stroke-width="0.6"/>
<circle cx="396.47" cy="67.82" r="0.8" fill="#2a3f6c" stroke="none" stroke-width="0.6"/>
<circle cx="395.34" cy="71.24" r="0.8" fill="#2a3f6c" stroke="none" stroke-width="0.6"/>
<circle cx="395.45" cy="74.65" r="0.8" fill="#2a3f6c" stroke="none" stroke-width="0.6"/>
<circle cx="397.23" cy="77.38" r="0.8" fill="#2a3f6c" stroke="none" stroke-width="0.6"/>
<circle cx="396.28" cy="80.11" r="0.8" fill="#2a3f6c" stroke="none" stroke-width="0.6"/>
<line x1="391.85" y1="88.30" x2="391.85" y2="90.30" stroke="#1a1a1a" stroke-width="0.9" />
<circle cx="371.70" cy="31.30" r="0.92" fill="#111" stroke="none" stroke-width="0.6"/>
<circle cx="374.10" cy="31.30" r="0.92" fill="#111" stroke="none" stroke-width="0.6"/>
<circle cx="376.50" cy="31.30" r="0.92" fill="#111" stroke="none" stroke-width="0.6"/>
<circle cx="394.00" cy="62.20" r="0.92" fill="#111" stroke="none" stroke-width="0.6"/>
<circle cx="396.40" cy="62.20" r="0.92" fill="#111" stroke="none" stroke-width="0.6"/>
<circle cx="398.80" cy="62.20" r="0.92" fill="#111" stroke="none" stroke-width="0.6"/>
<path d="M374.1,28.4 Q374.1,27.0 375.1,27.0 L394.7,27.0 Q395.7,27.0 395.7,28.4" fill="none" stroke="#1a1a1a" stroke-width="0.9" />
<circle cx="382.40" cy="23.10" r="0.92" fill="#111" stroke="none" stroke-width="0.6"/>
<circle cx="384.80" cy="23.10" r="0.92" fill="#111" stroke="none" stroke-width="0.6"/>
<circle cx="387.20" cy="23.10" r="0.92" fill="#111" stroke="none" stroke-width="0.6"/>
<text transform="translate(372.40,95.10) rotate(-45) scale(0.95,1)" font-size="5.3" text-anchor="end" font-weight="normal" font-style="normal" fill="#1a1a1a"  stroke="#1a1a1a" stroke-width="0.12">D7</text>
<text transform="translate(394.60,95.10) rotate(-45) scale(0.95,1)" font-size="5.3" text-anchor="end" font-weight="normal" font-style="normal" fill="#1a1a1a"  stroke="#1a1a1a" stroke-width="0.12">D21</text>
<text transform="translate(380.60,110.40) scale(0.8,1)" font-size="5.6" text-anchor="middle" font-weight="normal" font-style="normal" fill="#1a1a1a"  stroke="#1a1a1a" stroke-width="0.12">Liver</text>
<text transform="translate(275.40,129.90)" font-size="12.0" text-anchor="start" font-weight="bold" font-style="normal" fill="#000"  stroke="#000" stroke-width="0.35">F</text>
<line x1="298.70" y1="137.30" x2="298.70" y2="193.40" stroke="#1a1a1a" stroke-width="1.5" />
<line x1="298.10" y1="192.80" x2="329.90" y2="192.80" stroke="#1a1a1a" stroke-width="1.5" />
<line x1="296.40" y1="192.80" x2="298.70" y2="192.80" stroke="#1a1a1a" stroke-width="0.9" />
<text transform="translate(295.30,194.80)" font-size="5.6" text-anchor="end" font-weight="normal" font-style="normal" fill="#1a1a1a"  stroke="#1a1a1a" stroke-width="0.12">10<tspan dy="-2.13" font-size="3.64">0</tspan><tspan dy="2.13">​</tspan></text>
<line x1="296.40" y1="179.25" x2="298.70" y2="179.25" stroke="#1a1a1a" stroke-width="0.9" />
<text transform="translate(295.30,181.25)" font-size="5.6" text-anchor="end" font-weight="normal" font-style="normal" fill="#1a1a1a"  stroke="#1a1a1a" stroke-width="0.12">10<tspan dy="-2.13" font-size="3.64">1</tspan><tspan dy="2.13">​</tspan></text>
<line x1="296.40" y1="165.70" x2="298.70" y2="165.70" stroke="#1a1a1a" stroke-width="0.9" />
<text transform="translate(295.30,167.70)" font-size="5.6" text-anchor="end" font-weight="normal" font-style="normal" fill="#1a1a1a"  stroke="#1a1a1a" stroke-width="0.12">10<tspan dy="-2.13" font-size="3.64">2</tspan><tspan dy="2.13">​</tspan></text>
<line x1="296.40" y1="152.15" x2="298.70" y2="152.15" stroke="#1a1a1a" stroke-width="0.9" />
<text transform="translate(295.30,154.15)" font-size="5.6" text-anchor="end" font-weight="normal" font-style="normal" fill="#1a1a1a"  stroke="#1a1a1a" stroke-width="0.12">10<tspan dy="-2.13" font-size="3.64">3</tspan><tspan dy="2.13">​</tspan></text>
<line x1="296.40" y1="138.60" x2="298.70" y2="138.60" stroke="#1a1a1a" stroke-width="0.9" />
<text transform="translate(295.30,140.60)" font-size="5.6" text-anchor="end" font-weight="normal" font-style="normal" fill="#1a1a1a"  stroke="#1a1a1a" stroke-width="0.12">10<tspan dy="-2.13" font-size="3.64">4</tspan><tspan dy="2.13">​</tspan></text>
<text transform="translate(314.70,131.80)" font-size="6.6" text-anchor="middle" font-weight="normal" font-style="italic" fill="#1a1a1a"  stroke="#1a1a1a" stroke-width="0.05">Rorc</text>
<rect x="301.40" y="182.20" width="4.20" height="10.60" fill="#a3102f" stroke="none" stroke-width="0.8" />
<line x1="303.50" y1="179.60" x2="303.50" y2="182.20" stroke="#a3102f" stroke-width="0.9" />
<line x1="302.10" y1="179.60" x2="304.90" y2="179.60" stroke="#a3102f" stroke-width="0.9" />
<rect x="307.40" y="158.80" width="4.20" height="34.00" fill="#2b4a82" stroke="none" stroke-width="0.8" />
<line x1="309.50" y1="155.50" x2="309.50" y2="158.80" stroke="#2b4a82" stroke-width="0.9" />
<line x1="308.10" y1="155.50" x2="310.90" y2="155.50" stroke="#2b4a82" stroke-width="0.9" />
<rect x="317.70" y="176.20" width="4.10" height="16.60" fill="#a3102f" stroke="none" stroke-width="0.8" />
<line x1="319.75" y1="173.60" x2="319.75" y2="176.20" stroke="#a3102f" stroke-width="0.9" />
<line x1="318.35" y1="173.60" x2="321.15" y2="173.60" stroke="#a3102f" stroke-width="0.9" />
<rect x="323.70" y="150.30" width="4.20" height="42.50" fill="#2b4a82" stroke="none" stroke-width="0.8" />
<line x1="325.80" y1="146.40" x2="325.80" y2="150.30" stroke="#2b4a82" stroke-width="0.9" />
<line x1="324.40" y1="146.40" x2="327.20" y2="146.40" stroke="#2b4a82" stroke-width="0.9" />
<text transform="translate(309.30,197.80) rotate(-45) scale(0.95,1)" font-size="5.3" text-anchor="end" font-weight="normal" font-style="normal" fill="#1a1a1a"  stroke="#1a1a1a" stroke-width="0.12">D7</text>
<text transform="translate(325.30,197.80) rotate(-45) scale(0.95,1)" font-size="5.3" text-anchor="end" font-weight="normal" font-style="normal" fill="#1a1a1a"  stroke="#1a1a1a" stroke-width="0.12">D21</text>
<text transform="translate(281.00,164.65) rotate(-90)" font-size="6.0" text-anchor="middle" font-weight="normal" font-style="normal" fill="#1a1a1a" textLength="37.7" lengthAdjust="spacingAndGlyphs" stroke="#1a1a1a" stroke-width="0.32">Relative expression</text>
<line x1="301.60" y1="150.80" x2="309.80" y2="150.80" stroke="#1a1a1a" stroke-width="0.9" />
<circle cx="305.70" cy="146.90" r="0.92" fill="#111" stroke="none" stroke-width="0.6"/>
<line x1="358.10" y1="137.30" x2="358.10" y2="193.40" stroke="#1a1a1a" stroke-width="1.5" />
<line x1="357.50" y1="192.80" x2="389.30" y2="192.80" stroke="#1a1a1a" stroke-width="1.5" />
<line x1="355.80" y1="192.80" x2="358.10" y2="192.80" stroke="#1a1a1a" stroke-width="0.9" />
<text transform="translate(354.70,194.80)" font-size="5.6" text-anchor="end" font-weight="normal" font-style="normal" fill="#1a1a1a"  stroke="#1a1a1a" stroke-width="0.12">10<tspan dy="-2.13" font-size="3.64">0</tspan><tspan dy="2.13">​</tspan></text>
<line x1="355.80" y1="179.25" x2="358.10" y2="179.25" stroke="#1a1a1a" stroke-width="0.9" />
<text transform="translate(354.70,181.25)" font-size="5.6" text-anchor="end" font-weight="normal" font-style="normal" fill="#1a1a1a"  stroke="#1a1a1a" stroke-width="0.12">10<tspan dy="-2.13" font-size="3.64">1</tspan><tspan dy="2.13">​</tspan></text>
<line x1="355.80" y1="165.70" x2="358.10" y2="165.70" stroke="#1a1a1a" stroke-width="0.9" />
<text transform="translate(354.70,167.70)" font-size="5.6" text-anchor="end" font-weight="normal" font-style="normal" fill="#1a1a1a"  stroke="#1a1a1a" stroke-width="0.12">10<tspan dy="-2.13" font-size="3.64">2</tspan><tspan dy="2.13">​</tspan></text>
<line x1="355.80" y1="152.15" x2="358.10" y2="152.15" stroke="#1a1a1a" stroke-width="0.9" />
<text transform="translate(354.70,154.15)" font-size="5.6" text-anchor="end" font-weight="normal" font-style="normal" fill="#1a1a1a"  stroke="#1a1a1a" stroke-width="0.12">10<tspan dy="-2.13" font-size="3.64">3</tspan><tspan dy="2.13">​</tspan></text>
<line x1="355.80" y1="138.60" x2="358.10" y2="138.60" stroke="#1a1a1a" stroke-width="0.9" />
<text transform="translate(354.70,140.60)" font-size="5.6" text-anchor="end" font-weight="normal" font-style="normal" fill="#1a1a1a"  stroke="#1a1a1a" stroke-width="0.12">10<tspan dy="-2.13" font-size="3.64">4</tspan><tspan dy="2.13">​</tspan></text>
<text transform="translate(373.20,131.80)" font-size="6.6" text-anchor="middle" font-weight="normal" font-style="italic" fill="#1a1a1a"  stroke="#1a1a1a" stroke-width="0.05">Tbr21</text>
<rect x="360.80" y="156.80" width="4.20" height="36.00" fill="#a3102f" stroke="none" stroke-width="0.8" />
<line x1="362.90" y1="154.20" x2="362.90" y2="156.80" stroke="#a3102f" stroke-width="0.9" />
<line x1="361.50" y1="154.20" x2="364.30" y2="154.20" stroke="#a3102f" stroke-width="0.9" />
<rect x="366.80" y="152.90" width="4.20" height="39.90" fill="#2b4a82" stroke="none" stroke-width="0.8" />
<line x1="368.90" y1="150.20" x2="368.90" y2="152.90" stroke="#2b4a82" stroke-width="0.9" />
<line x1="367.50" y1="150.20" x2="370.30" y2="150.20" stroke="#2b4a82" stroke-width="0.9" />
<rect x="377.10" y="149.00" width="4.10" height="43.80" fill="#a3102f" stroke="none" stroke-width="0.8" />
<line x1="379.15" y1="145.60" x2="379.15" y2="149.00" stroke="#a3102f" stroke-width="0.9" />
<line x1="377.75" y1="145.60" x2="380.55" y2="145.60" stroke="#a3102f" stroke-width="0.9" />
<rect x="383.10" y="143.20" width="4.20" height="49.60" fill="#2b4a82" stroke="none" stroke-width="0.8" />
<line x1="385.20" y1="139.80" x2="385.20" y2="143.20" stroke="#2b4a82" stroke-width="0.9" />
<line x1="383.80" y1="139.80" x2="386.60" y2="139.80" stroke="#2b4a82" stroke-width="0.9" />
<text transform="translate(368.70,197.80) rotate(-45) scale(0.95,1)" font-size="5.3" text-anchor="end" font-weight="normal" font-style="normal" fill="#1a1a1a"  stroke="#1a1a1a" stroke-width="0.12">D7</text>
<text transform="translate(384.70,197.80) rotate(-45) scale(0.95,1)" font-size="5.3" text-anchor="end" font-weight="normal" font-style="normal" fill="#1a1a1a"  stroke="#1a1a1a" stroke-width="0.12">D21</text>
<text transform="translate(339.90,164.65) rotate(-90)" font-size="6.0" text-anchor="middle" font-weight="normal" font-style="normal" fill="#1a1a1a" textLength="37.7" lengthAdjust="spacingAndGlyphs" stroke="#1a1a1a" stroke-width="0.32">Relative expression</text>
<line x1="416.40" y1="136.60" x2="416.40" y2="193.00" stroke="#1a1a1a" stroke-width="1.5" />
<line x1="415.80" y1="192.40" x2="447.60" y2="192.40" stroke="#1a1a1a" stroke-width="1.5" />
<line x1="414.10" y1="192.40" x2="416.40" y2="192.40" stroke="#1a1a1a" stroke-width="0.9" />
<text transform="translate(413.00,194.40)" font-size="5.6" text-anchor="end" font-weight="normal" font-style="normal" fill="#1a1a1a"  stroke="#1a1a1a" stroke-width="0.12">10<tspan dy="-2.13" font-size="3.64">0</tspan><tspan dy="2.13">​</tspan></text>
<line x1="414.10" y1="178.70" x2="416.40" y2="178.70" stroke="#1a1a1a" stroke-width="0.9" />
<text transform="translate(413.00,180.70)" font-size="5.6" text-anchor="end" font-weight="normal" font-style="normal" fill="#1a1a1a"  stroke="#1a1a1a" stroke-width="0.12">10<tspan dy="-2.13" font-size="3.64">1</tspan><tspan dy="2.13">​</tspan></text>
<line x1="414.10" y1="165.00" x2="416.40" y2="165.00" stroke="#1a1a1a" stroke-width="0.9" />
<text transform="translate(413.00,167.00)" font-size="5.6" text-anchor="end" font-weight="normal" font-style="normal" fill="#1a1a1a"  stroke="#1a1a1a" stroke-width="0.12">10<tspan dy="-2.13" font-size="3.64">2</tspan><tspan dy="2.13">​</tspan></text>
<line x1="414.10" y1="151.30" x2="416.40" y2="151.30" stroke="#1a1a1a" stroke-width="0.9" />
<text transform="translate(413.00,153.30)" font-size="5.6" text-anchor="end" font-weight="normal" font-style="normal" fill="#1a1a1a"  stroke="#1a1a1a" stroke-width="0.12">10<tspan dy="-2.13" font-size="3.64">3</tspan><tspan dy="2.13">​</tspan></text>
<line x1="414.10" y1="137.60" x2="416.40" y2="137.60" stroke="#1a1a1a" stroke-width="0.9" />
<text transform="translate(413.00,139.60)" font-size="5.6" text-anchor="end" font-weight="normal" font-style="normal" fill="#1a1a1a"  stroke="#1a1a1a" stroke-width="0.12">10<tspan dy="-2.13" font-size="3.64">4</tspan><tspan dy="2.13">​</tspan></text>
<text transform="translate(433.30,132.30)" font-size="6.6" text-anchor="middle" font-weight="normal" font-style="italic" fill="#1a1a1a"  stroke="#1a1a1a" stroke-width="0.05">Eomes</text>
<rect x="419.10" y="169.80" width="4.20" height="22.60" fill="#a3102f" stroke="none" stroke-width="0.8" />
<line x1="421.20" y1="167.00" x2="421.20" y2="169.80" stroke="#a3102f" stroke-width="0.9" />
<line x1="419.80" y1="167.00" x2="422.60" y2="167.00" stroke="#a3102f" stroke-width="0.9" />
<rect x="425.10" y="182.20" width="4.20" height="10.20" fill="#2b4a82" stroke="none" stroke-width="0.8" />
<line x1="427.20" y1="178.70" x2="427.20" y2="182.20" stroke="#2b4a82" stroke-width="0.9" />
<line x1="425.80" y1="178.70" x2="428.60" y2="178.70" stroke="#2b4a82" stroke-width="0.9" />
<rect x="435.40" y="145.00" width="4.10" height="47.40" fill="#a3102f" stroke="none" stroke-width="0.8" />
<line x1="437.45" y1="143.70" x2="437.45" y2="145.00" stroke="#a3102f" stroke-width="0.9" />
<line x1="436.05" y1="143.70" x2="438.85" y2="143.70" stroke="#a3102f" stroke-width="0.9" />
<rect x="441.40" y="150.90" width="4.20" height="41.50" fill="#2b4a82" stroke="none" stroke-width="0.8" />
<line x1="443.50" y1="146.30" x2="443.50" y2="150.90" stroke="#2b4a82" stroke-width="0.9" />
<line x1="442.10" y1="146.30" x2="444.90" y2="146.30" stroke="#2b4a82" stroke-width="0.9" />
<text transform="translate(427.00,197.40) rotate(-45) scale(0.95,1)" font-size="5.3" text-anchor="end" font-weight="normal" font-style="normal" fill="#1a1a1a"  stroke="#1a1a1a" stroke-width="0.12">D7</text>
<text transform="translate(443.00,197.40) rotate(-45) scale(0.95,1)" font-size="5.3" text-anchor="end" font-weight="normal" font-style="normal" fill="#1a1a1a"  stroke="#1a1a1a" stroke-width="0.12">D21</text>
<text transform="translate(399.40,164.10) rotate(-90)" font-size="6.0" text-anchor="middle" font-weight="normal" font-style="normal" fill="#1a1a1a" textLength="37.7" lengthAdjust="spacingAndGlyphs" stroke="#1a1a1a" stroke-width="0.32">Relative expression</text>
<line x1="298.70" y1="221.10" x2="298.70" y2="276.00" stroke="#1a1a1a" stroke-width="1.5" />
<line x1="298.10" y1="275.40" x2="329.90" y2="275.40" stroke="#1a1a1a" stroke-width="1.5" />
<line x1="296.40" y1="275.40" x2="298.70" y2="275.40" stroke="#1a1a1a" stroke-width="0.9" />
<text transform="translate(295.30,277.40)" font-size="5.6" text-anchor="end" font-weight="normal" font-style="normal" fill="#1a1a1a"  stroke="#1a1a1a" stroke-width="0.12">10<tspan dy="-2.13" font-size="3.64">0</tspan><tspan dy="2.13">​</tspan></text>
<line x1="296.40" y1="262.22" x2="298.70" y2="262.22" stroke="#1a1a1a" stroke-width="0.9" />
<text transform="translate(295.30,264.22)" font-size="5.6" text-anchor="end" font-weight="normal" font-style="normal" fill="#1a1a1a"  stroke="#1a1a1a" stroke-width="0.12">10<tspan dy="-2.13" font-size="3.64">1</tspan><tspan dy="2.13">​</tspan></text>
<line x1="296.40" y1="249.05" x2="298.70" y2="249.05" stroke="#1a1a1a" stroke-width="0.9" />
<text transform="translate(295.30,251.05)" font-size="5.6" text-anchor="end" font-weight="normal" font-style="normal" fill="#1a1a1a"  stroke="#1a1a1a" stroke-width="0.12">10<tspan dy="-2.13" font-size="3.64">2</tspan><tspan dy="2.13">​</tspan></text>
<line x1="296.40" y1="235.88" x2="298.70" y2="235.88" stroke="#1a1a1a" stroke-width="0.9" />
<text transform="translate(295.30,237.88)" font-size="5.6" text-anchor="end" font-weight="normal" font-style="normal" fill="#1a1a1a"  stroke="#1a1a1a" stroke-width="0.12">10<tspan dy="-2.13" font-size="3.64">3</tspan><tspan dy="2.13">​</tspan></text>
<line x1="296.40" y1="222.70" x2="298.70" y2="222.70" stroke="#1a1a1a" stroke-width="0.9" />
<text transform="translate(295.30,224.70)" font-size="5.6" text-anchor="end" font-weight="normal" font-style="normal" fill="#1a1a1a"  stroke="#1a1a1a" stroke-width="0.12">10<tspan dy="-2.13" font-size="3.64">4</tspan><tspan dy="2.13">​</tspan></text>
<text transform="translate(314.70,215.50)" font-size="6.6" text-anchor="middle" font-weight="normal" font-style="italic" fill="#1a1a1a"  stroke="#1a1a1a" stroke-width="0.05">Foxp3</text>
<rect x="301.40" y="245.30" width="4.20" height="30.10" fill="#a3102f" stroke="none" stroke-width="0.8" />
<line x1="303.50" y1="242.70" x2="303.50" y2="245.30" stroke="#a3102f" stroke-width="0.9" />
<line x1="302.10" y1="242.70" x2="304.90" y2="242.70" stroke="#a3102f" stroke-width="0.9" />
<rect x="307.40" y="245.80" width="4.20" height="29.60" fill="#2b4a82" stroke="none" stroke-width="0.8" />
<line x1="309.50" y1="242.00" x2="309.50" y2="245.80" stroke="#2b4a82" stroke-width="0.9" />
<line x1="308.10" y1="242.00" x2="310.90" y2="242.00" stroke="#2b4a82" stroke-width="0.9" />
<rect x="317.70" y="235.60" width="4.10" height="39.80" fill="#a3102f" stroke="none" stroke-width="0.8" />
<line x1="319.75" y1="232.30" x2="319.75" y2="235.60" stroke="#a3102f" stroke-width="0.9" />
<line x1="318.35" y1="232.30" x2="321.15" y2="232.30" stroke="#a3102f" stroke-width="0.9" />
<rect x="323.70" y="240.80" width="4.20" height="34.60" fill="#2b4a82" stroke="none" stroke-width="0.8" />
<line x1="325.80" y1="238.20" x2="325.80" y2="240.80" stroke="#2b4a82" stroke-width="0.9" />
<line x1="324.40" y1="238.20" x2="327.20" y2="238.20" stroke="#2b4a82" stroke-width="0.9" />
<text transform="translate(309.30,280.40) rotate(-45) scale(0.95,1)" font-size="5.3" text-anchor="end" font-weight="normal" font-style="normal" fill="#1a1a1a"  stroke="#1a1a1a" stroke-width="0.12">D7</text>
<text transform="translate(325.30,280.40) rotate(-45) scale(0.95,1)" font-size="5.3" text-anchor="end" font-weight="normal" font-style="normal" fill="#1a1a1a"  stroke="#1a1a1a" stroke-width="0.12">D21</text>
<text transform="translate(281.00,247.85) rotate(-90)" font-size="6.0" text-anchor="middle" font-weight="normal" font-style="normal" fill="#1a1a1a" textLength="37.7" lengthAdjust="spacingAndGlyphs" stroke="#1a1a1a" stroke-width="0.32">Relative expression</text>
<line x1="358.10" y1="221.10" x2="358.10" y2="276.00" stroke="#1a1a1a" stroke-width="1.5" />
<line x1="357.50" y1="275.40" x2="389.30" y2="275.40" stroke="#1a1a1a" stroke-width="1.5" />
<line x1="355.80" y1="275.40" x2="358.10" y2="275.40" stroke="#1a1a1a" stroke-width="0.9" />
<text transform="translate(354.70,277.40)" font-size="5.6" text-anchor="end" font-weight="normal" font-style="normal" fill="#1a1a1a"  stroke="#1a1a1a" stroke-width="0.12">10<tspan dy="-2.13" font-size="3.64">0</tspan><tspan dy="2.13">​</tspan></text>
<line x1="355.80" y1="264.70" x2="358.10" y2="264.70" stroke="#1a1a1a" stroke-width="0.9" />
<text transform="translate(354.70,266.70)" font-size="5.6" text-anchor="end" font-weight="normal" font-style="normal" fill="#1a1a1a"  stroke="#1a1a1a" stroke-width="0.12">10<tspan dy="-2.13" font-size="3.64">1</tspan><tspan dy="2.13">​</tspan></text>
<line x1="355.80" y1="254.00" x2="358.10" y2="254.00" stroke="#1a1a1a" stroke-width="0.9" />
<text transform="translate(354.70,256.00)" font-size="5.6" text-anchor="end" font-weight="normal" font-style="normal" fill="#1a1a1a"  stroke="#1a1a1a" stroke-width="0.12">10<tspan dy="-2.13" font-size="3.64">2</tspan><tspan dy="2.13">​</tspan></text>
<line x1="355.80" y1="243.30" x2="358.10" y2="243.30" stroke="#1a1a1a" stroke-width="0.9" />
<text transform="translate(354.70,245.30)" font-size="5.6" text-anchor="end" font-weight="normal" font-style="normal" fill="#1a1a1a"  stroke="#1a1a1a" stroke-width="0.12">10<tspan dy="-2.13" font-size="3.64">3</tspan><tspan dy="2.13">​</tspan></text>
<line x1="355.80" y1="232.60" x2="358.10" y2="232.60" stroke="#1a1a1a" stroke-width="0.9" />
<text transform="translate(354.70,234.60)" font-size="5.6" text-anchor="end" font-weight="normal" font-style="normal" fill="#1a1a1a"  stroke="#1a1a1a" stroke-width="0.12">10<tspan dy="-2.13" font-size="3.64">4</tspan><tspan dy="2.13">​</tspan></text>
<line x1="355.80" y1="221.90" x2="358.10" y2="221.90" stroke="#1a1a1a" stroke-width="0.9" />
<text transform="translate(354.70,223.90)" font-size="5.6" text-anchor="end" font-weight="normal" font-style="normal" fill="#1a1a1a"  stroke="#1a1a1a" stroke-width="0.12">10<tspan dy="-2.13" font-size="3.64">5</tspan><tspan dy="2.13">​</tspan></text>
<text transform="translate(373.20,215.50)" font-size="6.6" text-anchor="middle" font-weight="normal" font-style="italic" fill="#1a1a1a"  stroke="#1a1a1a" stroke-width="0.05">Gata3</text>
<rect x="360.80" y="234.10" width="4.20" height="41.30" fill="#a3102f" stroke="none" stroke-width="0.8" />
<line x1="362.90" y1="232.30" x2="362.90" y2="234.10" stroke="#a3102f" stroke-width="0.9" />
<line x1="361.50" y1="232.30" x2="364.30" y2="232.30" stroke="#a3102f" stroke-width="0.9" />
<rect x="366.80" y="231.80" width="4.20" height="43.60" fill="#2b4a82" stroke="none" stroke-width="0.8" />
<line x1="368.90" y1="230.50" x2="368.90" y2="231.80" stroke="#2b4a82" stroke-width="0.9" />
<line x1="367.50" y1="230.50" x2="370.30" y2="230.50" stroke="#2b4a82" stroke-width="0.9" />
<rect x="377.10" y="231.00" width="4.10" height="44.40" fill="#a3102f" stroke="none" stroke-width="0.8" />
<line x1="379.15" y1="228.90" x2="379.15" y2="231.00" stroke="#a3102f" stroke-width="0.9" />
<line x1="377.75" y1="228.90" x2="380.55" y2="228.90" stroke="#a3102f" stroke-width="0.9" />
<rect x="383.10" y="227.10" width="4.20" height="48.30" fill="#2b4a82" stroke="none" stroke-width="0.8" />
<line x1="385.20" y1="223.70" x2="385.20" y2="227.10" stroke="#2b4a82" stroke-width="0.9" />
<line x1="383.80" y1="223.70" x2="386.60" y2="223.70" stroke="#2b4a82" stroke-width="0.9" />
<text transform="translate(368.70,280.40) rotate(-45) scale(0.95,1)" font-size="5.3" text-anchor="end" font-weight="normal" font-style="normal" fill="#1a1a1a"  stroke="#1a1a1a" stroke-width="0.12">D7</text>
<text transform="translate(384.70,280.40) rotate(-45) scale(0.95,1)" font-size="5.3" text-anchor="end" font-weight="normal" font-style="normal" fill="#1a1a1a"  stroke="#1a1a1a" stroke-width="0.12">D21</text>
<text transform="translate(339.90,247.85) rotate(-90)" font-size="6.0" text-anchor="middle" font-weight="normal" font-style="normal" fill="#1a1a1a" textLength="37.7" lengthAdjust="spacingAndGlyphs" stroke="#1a1a1a" stroke-width="0.32">Relative expression</text>
<line x1="416.40" y1="219.80" x2="416.40" y2="276.80" stroke="#1a1a1a" stroke-width="1.5" />
<line x1="415.80" y1="276.20" x2="447.60" y2="276.20" stroke="#1a1a1a" stroke-width="1.5" />
<line x1="414.10" y1="276.20" x2="416.40" y2="276.20" stroke="#1a1a1a" stroke-width="0.9" />
<text transform="translate(413.00,278.20)" font-size="5.6" text-anchor="end" font-weight="normal" font-style="normal" fill="#1a1a1a"  stroke="#1a1a1a" stroke-width="0.12">10<tspan dy="-2.13" font-size="3.64">0</tspan><tspan dy="2.13">​</tspan></text>
<line x1="414.10" y1="258.03" x2="416.40" y2="258.03" stroke="#1a1a1a" stroke-width="0.9" />
<text transform="translate(413.00,260.03)" font-size="5.6" text-anchor="end" font-weight="normal" font-style="normal" fill="#1a1a1a"  stroke="#1a1a1a" stroke-width="0.12">10<tspan dy="-2.13" font-size="3.64">1</tspan><tspan dy="2.13">​</tspan></text>
<line x1="414.10" y1="239.87" x2="416.40" y2="239.87" stroke="#1a1a1a" stroke-width="0.9" />
<text transform="translate(413.00,241.87)" font-size="5.6" text-anchor="end" font-weight="normal" font-style="normal" fill="#1a1a1a"  stroke="#1a1a1a" stroke-width="0.12">10<tspan dy="-2.13" font-size="3.64">2</tspan><tspan dy="2.13">​</tspan></text>
<line x1="414.10" y1="221.70" x2="416.40" y2="221.70" stroke="#1a1a1a" stroke-width="0.9" />
<text transform="translate(413.00,223.70)" font-size="5.6" text-anchor="end" font-weight="normal" font-style="normal" fill="#1a1a1a"  stroke="#1a1a1a" stroke-width="0.12">10<tspan dy="-2.13" font-size="3.64">3</tspan><tspan dy="2.13">​</tspan></text>
<text transform="translate(432.50,215.30)" font-size="6.6" text-anchor="middle" font-weight="normal" font-style="italic" fill="#1a1a1a"  stroke="#1a1a1a" stroke-width="0.05">Bcl6</text>
<rect x="419.10" y="244.00" width="4.20" height="32.20" fill="#a3102f" stroke="none" stroke-width="0.8" />
<line x1="421.20" y1="240.80" x2="421.20" y2="244.00" stroke="#a3102f" stroke-width="0.9" />
<line x1="419.80" y1="240.80" x2="422.60" y2="240.80" stroke="#a3102f" stroke-width="0.9" />
<rect x="425.10" y="236.80" width="4.20" height="39.40" fill="#2b4a82" stroke="none" stroke-width="0.8" />
<line x1="427.20" y1="234.00" x2="427.20" y2="236.80" stroke="#2b4a82" stroke-width="0.9" />
<line x1="425.80" y1="234.00" x2="428.60" y2="234.00" stroke="#2b4a82" stroke-width="0.9" />
<rect x="435.40" y="231.90" width="4.10" height="44.30" fill="#a3102f" stroke="none" stroke-width="0.8" />
<line x1="437.45" y1="229.20" x2="437.45" y2="231.90" stroke="#a3102f" stroke-width="0.9" />
<line x1="436.05" y1="229.20" x2="438.85" y2="229.20" stroke="#a3102f" stroke-width="0.9" />
<rect x="441.40" y="230.00" width="4.20" height="46.20" fill="#2b4a82" stroke="none" stroke-width="0.8" />
<line x1="443.50" y1="227.30" x2="443.50" y2="230.00" stroke="#2b4a82" stroke-width="0.9" />
<line x1="442.10" y1="227.30" x2="444.90" y2="227.30" stroke="#2b4a82" stroke-width="0.9" />
<text transform="translate(427.00,281.20) rotate(-45) scale(0.95,1)" font-size="5.3" text-anchor="end" font-weight="normal" font-style="normal" fill="#1a1a1a"  stroke="#1a1a1a" stroke-width="0.12">D7</text>
<text transform="translate(443.00,281.20) rotate(-45) scale(0.95,1)" font-size="5.3" text-anchor="end" font-weight="normal" font-style="normal" fill="#1a1a1a"  stroke="#1a1a1a" stroke-width="0.12">D21</text>
<text transform="translate(399.40,247.60) rotate(-90)" font-size="6.0" text-anchor="middle" font-weight="normal" font-style="normal" fill="#1a1a1a" textLength="37.7" lengthAdjust="spacingAndGlyphs" stroke="#1a1a1a" stroke-width="0.32">Relative expression</text>
<line x1="298.70" y1="303.00" x2="298.70" y2="359.40" stroke="#1a1a1a" stroke-width="1.5" />
<line x1="298.10" y1="358.80" x2="329.90" y2="358.80" stroke="#1a1a1a" stroke-width="1.5" />
<line x1="296.40" y1="358.80" x2="298.70" y2="358.80" stroke="#1a1a1a" stroke-width="0.9" />
<text transform="translate(295.30,360.80)" font-size="5.6" text-anchor="end" font-weight="normal" font-style="normal" fill="#1a1a1a"  stroke="#1a1a1a" stroke-width="0.12">10<tspan dy="-2.13" font-size="3.64">0</tspan><tspan dy="2.13">​</tspan></text>
<line x1="296.40" y1="345.30" x2="298.70" y2="345.30" stroke="#1a1a1a" stroke-width="0.9" />
<text transform="translate(295.30,347.30)" font-size="5.6" text-anchor="end" font-weight="normal" font-style="normal" fill="#1a1a1a"  stroke="#1a1a1a" stroke-width="0.12">10<tspan dy="-2.13" font-size="3.64">1</tspan><tspan dy="2.13">​</tspan></text>
<line x1="296.40" y1="331.80" x2="298.70" y2="331.80" stroke="#1a1a1a" stroke-width="0.9" />
<text transform="translate(295.30,333.80)" font-size="5.6" text-anchor="end" font-weight="normal" font-style="normal" fill="#1a1a1a"  stroke="#1a1a1a" stroke-width="0.12">10<tspan dy="-2.13" font-size="3.64">2</tspan><tspan dy="2.13">​</tspan></text>
<line x1="296.40" y1="318.30" x2="298.70" y2="318.30" stroke="#1a1a1a" stroke-width="0.9" />
<text transform="translate(295.30,320.30)" font-size="5.6" text-anchor="end" font-weight="normal" font-style="normal" fill="#1a1a1a"  stroke="#1a1a1a" stroke-width="0.12">10<tspan dy="-2.13" font-size="3.64">3</tspan><tspan dy="2.13">​</tspan></text>
<line x1="296.40" y1="304.80" x2="298.70" y2="304.80" stroke="#1a1a1a" stroke-width="0.9" />
<text transform="translate(295.30,306.80)" font-size="5.6" text-anchor="end" font-weight="normal" font-style="normal" fill="#1a1a1a"  stroke="#1a1a1a" stroke-width="0.12">10<tspan dy="-2.13" font-size="3.64">4</tspan><tspan dy="2.13">​</tspan></text>
<text transform="translate(314.20,297.90)" font-size="6.6" text-anchor="middle" font-weight="normal" font-style="italic" fill="#1a1a1a"  stroke="#1a1a1a" stroke-width="0.05">Il17a</text>
<rect x="301.40" y="345.80" width="4.20" height="13.00" fill="#a3102f" stroke="none" stroke-width="0.8" />
<line x1="303.50" y1="343.20" x2="303.50" y2="345.80" stroke="#a3102f" stroke-width="0.9" />
<line x1="302.10" y1="343.20" x2="304.90" y2="343.20" stroke="#a3102f" stroke-width="0.9" />
<rect x="307.40" y="316.80" width="4.20" height="42.00" fill="#2b4a82" stroke="none" stroke-width="0.8" />
<line x1="309.50" y1="312.90" x2="309.50" y2="316.80" stroke="#2b4a82" stroke-width="0.9" />
<line x1="308.10" y1="312.90" x2="310.90" y2="312.90" stroke="#2b4a82" stroke-width="0.9" />
<rect x="317.70" y="348.40" width="4.10" height="10.40" fill="#a3102f" stroke="none" stroke-width="0.8" />
<line x1="319.75" y1="344.50" x2="319.75" y2="348.40" stroke="#a3102f" stroke-width="0.9" />
<line x1="318.35" y1="344.50" x2="321.15" y2="344.50" stroke="#a3102f" stroke-width="0.9" />
<rect x="323.70" y="316.80" width="4.20" height="42.00" fill="#2b4a82" stroke="none" stroke-width="0.8" />
<line x1="325.80" y1="313.90" x2="325.80" y2="316.80" stroke="#2b4a82" stroke-width="0.9" />
<line x1="324.40" y1="313.90" x2="327.20" y2="313.90" stroke="#2b4a82" stroke-width="0.9" />
<text transform="translate(309.30,363.80) rotate(-45) scale(0.95,1)" font-size="5.3" text-anchor="end" font-weight="normal" font-style="normal" fill="#1a1a1a"  stroke="#1a1a1a" stroke-width="0.12">D7</text>
<text transform="translate(325.30,363.80) rotate(-45) scale(0.95,1)" font-size="5.3" text-anchor="end" font-weight="normal" font-style="normal" fill="#1a1a1a"  stroke="#1a1a1a" stroke-width="0.12">D21</text>
<text transform="translate(281.00,330.50) rotate(-90)" font-size="6.0" text-anchor="middle" font-weight="normal" font-style="normal" fill="#1a1a1a" textLength="37.7" lengthAdjust="spacingAndGlyphs" stroke="#1a1a1a" stroke-width="0.32">Relative expression</text>
<line x1="301.80" y1="310.60" x2="310.00" y2="310.60" stroke="#1a1a1a" stroke-width="0.9" />
<circle cx="305.90" cy="306.90" r="0.92" fill="#111" stroke="none" stroke-width="0.6"/>
<line x1="358.10" y1="303.00" x2="358.10" y2="359.40" stroke="#1a1a1a" stroke-width="1.5" />
<line x1="357.50" y1="358.80" x2="389.30" y2="358.80" stroke="#1a1a1a" stroke-width="1.5" />
<line x1="355.80" y1="358.80" x2="358.10" y2="358.80" stroke="#1a1a1a" stroke-width="0.9" />
<text transform="translate(354.70,360.80)" font-size="5.6" text-anchor="end" font-weight="normal" font-style="normal" fill="#1a1a1a"  stroke="#1a1a1a" stroke-width="0.12">10<tspan dy="-2.13" font-size="3.64">0</tspan><tspan dy="2.13">​</tspan></text>
<line x1="355.80" y1="345.30" x2="358.10" y2="345.30" stroke="#1a1a1a" stroke-width="0.9" />
<text transform="translate(354.70,347.30)" font-size="5.6" text-anchor="end" font-weight="normal" font-style="normal" fill="#1a1a1a"  stroke="#1a1a1a" stroke-width="0.12">10<tspan dy="-2.13" font-size="3.64">1</tspan><tspan dy="2.13">​</tspan></text>
<line x1="355.80" y1="331.80" x2="358.10" y2="331.80" stroke="#1a1a1a" stroke-width="0.9" />
<text transform="translate(354.70,333.80)" font-size="5.6" text-anchor="end" font-weight="normal" font-style="normal" fill="#1a1a1a"  stroke="#1a1a1a" stroke-width="0.12">10<tspan dy="-2.13" font-size="3.64">2</tspan><tspan dy="2.13">​</tspan></text>
<line x1="355.80" y1="318.30" x2="358.10" y2="318.30" stroke="#1a1a1a" stroke-width="0.9" />
<text transform="translate(354.70,320.30)" font-size="5.6" text-anchor="end" font-weight="normal" font-style="normal" fill="#1a1a1a"  stroke="#1a1a1a" stroke-width="0.12">10<tspan dy="-2.13" font-size="3.64">3</tspan><tspan dy="2.13">​</tspan></text>
<line x1="355.80" y1="304.80" x2="358.10" y2="304.80" stroke="#1a1a1a" stroke-width="0.9" />
<text transform="translate(354.70,306.80)" font-size="5.6" text-anchor="end" font-weight="normal" font-style="normal" fill="#1a1a1a"  stroke="#1a1a1a" stroke-width="0.12">10<tspan dy="-2.13" font-size="3.64">4</tspan><tspan dy="2.13">​</tspan></text>
<text transform="translate(373.20,297.90)" font-size="6.6" text-anchor="middle" font-weight="normal" font-style="italic" fill="#1a1a1a"  stroke="#1a1a1a" stroke-width="0.05">Ifng</text>
<rect x="360.80" y="316.00" width="4.20" height="42.80" fill="#a3102f" stroke="none" stroke-width="0.8" />
<line x1="362.90" y1="313.90" x2="362.90" y2="316.00" stroke="#a3102f" stroke-width="0.9" />
<line x1="361.50" y1="313.90" x2="364.30" y2="313.90" stroke="#a3102f" stroke-width="0.9" />
<rect x="366.80" y="312.10" width="4.20" height="46.70" fill="#2b4a82" stroke="none" stroke-width="0.8" />
<line x1="368.90" y1="308.70" x2="368.90" y2="312.10" stroke="#2b4a82" stroke-width="0.9" />
<line x1="367.50" y1="308.70" x2="370.30" y2="308.70" stroke="#2b4a82" stroke-width="0.9" />
<rect x="377.10" y="309.50" width="4.10" height="49.30" fill="#a3102f" stroke="none" stroke-width="0.8" />
<line x1="379.15" y1="307.70" x2="379.15" y2="309.50" stroke="#a3102f" stroke-width="0.9" />
<line x1="377.75" y1="307.70" x2="380.55" y2="307.70" stroke="#a3102f" stroke-width="0.9" />
<rect x="383.10" y="306.90" width="4.20" height="51.90" fill="#2b4a82" stroke="none" stroke-width="0.8" />
<line x1="385.20" y1="304.30" x2="385.20" y2="306.90" stroke="#2b4a82" stroke-width="0.9" />
<line x1="383.80" y1="304.30" x2="386.60" y2="304.30" stroke="#2b4a82" stroke-width="0.9" />
<text transform="translate(368.70,363.80) rotate(-45) scale(0.95,1)" font-size="5.3" text-anchor="end" font-weight="normal" font-style="normal" fill="#1a1a1a"  stroke="#1a1a1a" stroke-width="0.12">D7</text>
<text transform="translate(384.70,363.80) rotate(-45) scale(0.95,1)" font-size="5.3" text-anchor="end" font-weight="normal" font-style="normal" fill="#1a1a1a"  stroke="#1a1a1a" stroke-width="0.12">D21</text>
<text transform="translate(339.90,330.50) rotate(-90)" font-size="6.0" text-anchor="middle" font-weight="normal" font-style="normal" fill="#1a1a1a" textLength="37.7" lengthAdjust="spacingAndGlyphs" stroke="#1a1a1a" stroke-width="0.32">Relative expression</text>
<rect x="395.20" y="323.40" width="5.60" height="3.50" fill="#8e1030" stroke="none" stroke-width="0.8" />
<text transform="translate(402.70,327.10)" font-size="5.6" text-anchor="start" font-weight="normal" font-style="normal" fill="#1a1a1a" textLength="27" lengthAdjust="spacingAndGlyphs" stroke="#1a1a1a" stroke-width="0.12">CD4+YFP-</text>
<rect x="395.20" y="333.20" width="5.60" height="3.50" fill="#243f6e" stroke="none" stroke-width="0.8" />
<text transform="translate(402.70,336.60)" font-size="5.6" text-anchor="start" font-weight="normal" font-style="normal" fill="#1a1a1a" textLength="27.5" lengthAdjust="spacingAndGlyphs" stroke="#1a1a1a" stroke-width="0.12">CD4+YFP+</text>
<text transform="translate(275.20,389.80)" font-size="12.0" text-anchor="start" font-weight="bold" font-style="normal" fill="#000"  stroke="#000" stroke-width="0.35">G</text>
<rect x="298.40" y="393.40" width="57.40" height="56.50" fill="none" stroke="#1a1a1a" stroke-width="1.1" />
<text transform="translate(326.30,390.30) scale(0.93,1)" font-size="7.0" text-anchor="middle" font-weight="normal" font-style="normal" fill="#1a1a1a"  stroke="#1a1a1a" stroke-width="0.12">CD4<tspan dy="-2.66" font-size="4.55">+</tspan><tspan dy="2.66">​</tspan></text>
<line x1="296.60" y1="399.50" x2="298.40" y2="399.50" stroke="#1a1a1a" stroke-width="0.8" />
<text transform="translate(295.40,401.50)" font-size="5.4" text-anchor="end" font-weight="normal" font-style="normal" fill="#1a1a1a"  stroke="#1a1a1a" stroke-width="0.12">10<tspan dy="-2.05" font-size="3.51">5</tspan><tspan dy="2.05">​</tspan></text>
<line x1="296.60" y1="412.50" x2="298.40" y2="412.50" stroke="#1a1a1a" stroke-width="0.8" />
<text transform="translate(295.40,414.50)" font-size="5.4" text-anchor="end" font-weight="normal" font-style="normal" fill="#1a1a1a"  stroke="#1a1a1a" stroke-width="0.12">10<tspan dy="-2.05" font-size="3.51">4</tspan><tspan dy="2.05">​</tspan></text>
<line x1="296.60" y1="426.30" x2="298.40" y2="426.30" stroke="#1a1a1a" stroke-width="0.8" />
<text transform="translate(295.40,428.30)" font-size="5.4" text-anchor="end" font-weight="normal" font-style="normal" fill="#1a1a1a"  stroke="#1a1a1a" stroke-width="0.12">10<tspan dy="-2.05" font-size="3.51">3</tspan><tspan dy="2.05">​</tspan></text>
<line x1="296.60" y1="441.30" x2="298.40" y2="441.30" stroke="#1a1a1a" stroke-width="0.8" />
<text transform="translate(295.40,443.30)" font-size="5.4" text-anchor="end" font-weight="normal" font-style="normal" fill="#1a1a1a"  stroke="#1a1a1a" stroke-width="0.12">0</text>
<line x1="297.40" y1="402.00" x2="298.40" y2="402.00" stroke="#1a1a1a" stroke-width="0.5" />
<line x1="297.40" y1="404.00" x2="298.40" y2="404.00" stroke="#1a1a1a" stroke-width="0.5" />
<line x1="297.40" y1="406.00" x2="298.40" y2="406.00" stroke="#1a1a1a" stroke-width="0.5" />
<line x1="297.40" y1="408.00" x2="298.40" y2="408.00" stroke="#1a1a1a" stroke-width="0.5" />
<line x1="297.40" y1="410.00" x2="298.40" y2="410.00" stroke="#1a1a1a" stroke-width="0.5" />
<line x1="297.40" y1="415.00" x2="298.40" y2="415.00" stroke="#1a1a1a" stroke-width="0.5" />
<line x1="297.40" y1="417.00" x2="298.40" y2="417.00" stroke="#1a1a1a" stroke-width="0.5" />
<line x1="297.40" y1="419.00" x2="298.40" y2="419.00" stroke="#1a1a1a" stroke-width="0.5" />
<line x1="297.40" y1="421.00" x2="298.40" y2="421.00" stroke="#1a1a1a" stroke-width="0.5" />
<line x1="297.40" y1="423.00" x2="298.40" y2="423.00" stroke="#1a1a1a" stroke-width="0.5" />
<line x1="297.40" y1="429.00" x2="298.40" y2="429.00" stroke="#1a1a1a" stroke-width="0.5" />
<line x1="297.40" y1="432.00" x2="298.40" y2="432.00" stroke="#1a1a1a" stroke-width="0.5" />
<line x1="297.40" y1="435.00" x2="298.40" y2="435.00" stroke="#1a1a1a" stroke-width="0.5" />
<line x1="297.40" y1="438.00" x2="298.40" y2="438.00" stroke="#1a1a1a" stroke-width="0.5" />
<line x1="297.40" y1="444.00" x2="298.40" y2="444.00" stroke="#1a1a1a" stroke-width="0.5" />
<line x1="297.40" y1="446.00" x2="298.40" y2="446.00" stroke="#1a1a1a" stroke-width="0.5" />
<line x1="307.90" y1="449.90" x2="307.90" y2="451.70" stroke="#1a1a1a" stroke-width="0.8" />
<text transform="translate(307.90,459.90)" font-size="5.4" text-anchor="middle" font-weight="normal" font-style="normal" fill="#1a1a1a"  stroke="#1a1a1a" stroke-width="0.12">0</text>
<line x1="323.40" y1="449.90" x2="323.40" y2="451.70" stroke="#1a1a1a" stroke-width="0.8" />
<text transform="translate(323.40,459.90)" font-size="5.4" text-anchor="middle" font-weight="normal" font-style="normal" fill="#1a1a1a"  stroke="#1a1a1a" stroke-width="0.12">10<tspan dy="-2.05" font-size="3.51">3</tspan><tspan dy="2.05">​</tspan></text>
<line x1="337.60" y1="449.90" x2="337.60" y2="451.70" stroke="#1a1a1a" stroke-width="0.8" />
<text transform="translate(337.60,459.90)" font-size="5.4" text-anchor="middle" font-weight="normal" font-style="normal" fill="#1a1a1a"  stroke="#1a1a1a" stroke-width="0.12">10<tspan dy="-2.05" font-size="3.51">4</tspan><tspan dy="2.05">​</tspan></text>
<line x1="350.40" y1="449.90" x2="350.40" y2="451.70" stroke="#1a1a1a" stroke-width="0.8" />
<text transform="translate(350.40,459.90)" font-size="5.4" text-anchor="middle" font-weight="normal" font-style="normal" fill="#1a1a1a"  stroke="#1a1a1a" stroke-width="0.12">10<tspan dy="-2.05" font-size="3.51">5</tspan><tspan dy="2.05">​</tspan></text>
<line x1="301.00" y1="449.90" x2="301.00" y2="450.90" stroke="#1a1a1a" stroke-width="0.5" />
<line x1="303.00" y1="449.90" x2="303.00" y2="450.90" stroke="#1a1a1a" stroke-width="0.5" />
<line x1="305.00" y1="449.90" x2="305.00" y2="450.90" stroke="#1a1a1a" stroke-width="0.5" />
<line x1="307.00" y1="449.90" x2="307.00" y2="450.90" stroke="#1a1a1a" stroke-width="0.5" />
<line x1="309.00" y1="449.90" x2="309.00" y2="450.90" stroke="#1a1a1a" stroke-width="0.5" />
<line x1="311.00" y1="449.90" x2="311.00" y2="450.90" stroke="#1a1a1a" stroke-width="0.5" />
<line x1="313.00" y1="449.90" x2="313.00" y2="450.90" stroke="#1a1a1a" stroke-width="0.5" />
<line x1="315.00" y1="449.90" x2="315.00" y2="450.90" stroke="#1a1a1a" stroke-width="0.5" />
<line x1="317.00" y1="449.90" x2="317.00" y2="450.90" stroke="#1a1a1a" stroke-width="0.5" />
<line x1="319.00" y1="449.90" x2="319.00" y2="450.90" stroke="#1a1a1a" stroke-width="0.5" />
<line x1="321.00" y1="449.90" x2="321.00" y2="450.90" stroke="#1a1a1a" stroke-width="0.5" />
<line x1="323.00" y1="449.90" x2="323.00" y2="450.90" stroke="#1a1a1a" stroke-width="0.5" />
<line x1="325.00" y1="449.90" x2="325.00" y2="450.90" stroke="#1a1a1a" stroke-width="0.5" />
<line x1="327.00" y1="449.90" x2="327.00" y2="450.90" stroke="#1a1a1a" stroke-width="0.5" />
<line x1="329.00" y1="449.90" x2="329.00" y2="450.90" stroke="#1a1a1a" stroke-width="0.5" />
<line x1="331.00" y1="449.90" x2="331.00" y2="450.90" stroke="#1a1a1a" stroke-width="0.5" />
<line x1="333.00" y1="449.90" x2="333.00" y2="450.90" stroke="#1a1a1a" stroke-width="0.5" />
<line x1="335.00" y1="449.90" x2="335.00" y2="450.90" stroke="#1a1a1a" stroke-width="0.5" />
<line x1="337.00" y1="449.90" x2="337.00" y2="450.90" stroke="#1a1a1a" stroke-width="0.5" />
<line x1="339.00" y1="449.90" x2="339.00" y2="450.90" stroke="#1a1a1a" stroke-width="0.5" />
<line x1="341.00" y1="449.90" x2="341.00" y2="450.90" stroke="#1a1a1a" stroke-width="0.5" />
<line x1="343.00" y1="449.90" x2="343.00" y2="450.90" stroke="#1a1a1a" stroke-width="0.5" />
<line x1="345.00" y1="449.90" x2="345.00" y2="450.90" stroke="#1a1a1a" stroke-width="0.5" />
<line x1="347.00" y1="449.90" x2="347.00" y2="450.90" stroke="#1a1a1a" stroke-width="0.5" />
<line x1="349.00" y1="449.90" x2="349.00" y2="450.90" stroke="#1a1a1a" stroke-width="0.5" />
<line x1="351.00" y1="449.90" x2="351.00" y2="450.90" stroke="#1a1a1a" stroke-width="0.5" />
<line x1="353.00" y1="449.90" x2="353.00" y2="450.90" stroke="#1a1a1a" stroke-width="0.5" />
<text transform="translate(299.80,399.00) scale(0.92,1)" font-size="4.6" text-anchor="start" font-weight="normal" font-style="normal" fill="#1a1a1a"  stroke="#1a1a1a" stroke-width="0.12">0.0674</text>
<text transform="translate(354.40,399.00) scale(0.92,1)" font-size="4.6" text-anchor="end" font-weight="normal" font-style="normal" fill="#1a1a1a"  stroke="#1a1a1a" stroke-width="0.12">0</text>
<text transform="translate(299.80,448.60) scale(0.92,1)" font-size="4.6" text-anchor="start" font-weight="normal" font-style="normal" fill="#1a1a1a"  stroke="#1a1a1a" stroke-width="0.12">98.3</text>
<text transform="translate(354.40,448.60) scale(0.92,1)" font-size="4.6" text-anchor="end" font-weight="normal" font-style="normal" fill="#1a1a1a"  stroke="#1a1a1a" stroke-width="0.12">1.63</text>
<text transform="translate(283.90,422.00) rotate(-90)" font-size="6.0" text-anchor="middle" font-weight="normal" font-style="normal" fill="#1a1a1a" textLength="14" lengthAdjust="spacingAndGlyphs" stroke="#1a1a1a" stroke-width="0.32">Isotype</text>
<rect x="380.90" y="393.40" width="57.40" height="56.50" fill="none" stroke="#1a1a1a" stroke-width="1.1" />
<text transform="translate(410.80,390.30) scale(0.93,1)" font-size="7.0" text-anchor="middle" font-weight="normal" font-style="normal" fill="#1a1a1a"  stroke="#1a1a1a" stroke-width="0.12">CD4<tspan dy="-2.66" font-size="4.55">+</tspan><tspan dy="2.66">​</tspan>YFP<tspan dy="-2.66" font-size="4.55">-</tspan><tspan dy="2.66">​</tspan></text>
<line x1="379.10" y1="399.50" x2="380.90" y2="399.50" stroke="#1a1a1a" stroke-width="0.8" />
<text transform="translate(377.90,401.50)" font-size="5.4" text-anchor="end" font-weight="normal" font-style="normal" fill="#1a1a1a"  stroke="#1a1a1a" stroke-width="0.12">10<tspan dy="-2.05" font-size="3.51">5</tspan><tspan dy="2.05">​</tspan></text>
<line x1="379.10" y1="412.50" x2="380.90" y2="412.50" stroke="#1a1a1a" stroke-width="0.8" />
<text transform="translate(377.90,414.50)" font-size="5.4" text-anchor="end" font-weight="normal" font-style="normal" fill="#1a1a1a"  stroke="#1a1a1a" stroke-width="0.12">10<tspan dy="-2.05" font-size="3.51">4</tspan><tspan dy="2.05">​</tspan></text>
<line x1="379.10" y1="426.30" x2="380.90" y2="426.30" stroke="#1a1a1a" stroke-width="0.8" />
<text transform="translate(377.90,428.30)" font-size="5.4" text-anchor="end" font-weight="normal" font-style="normal" fill="#1a1a1a"  stroke="#1a1a1a" stroke-width="0.12">10<tspan dy="-2.05" font-size="3.51">3</tspan><tspan dy="2.05">​</tspan></text>
<line x1="379.10" y1="441.30" x2="380.90" y2="441.30" stroke="#1a1a1a" stroke-width="0.8" />
<text transform="translate(377.90,443.30)" font-size="5.4" text-anchor="end" font-weight="normal" font-style="normal" fill="#1a1a1a"  stroke="#1a1a1a" stroke-width="0.12">0</text>
<line x1="379.90" y1="402.00" x2="380.90" y2="402.00" stroke="#1a1a1a" stroke-width="0.5" />
<line x1="379.90" y1="404.00" x2="380.90" y2="404.00" stroke="#1a1a1a" stroke-width="0.5" />
<line x1="379.90" y1="406.00" x2="380.90" y2="406.00" stroke="#1a1a1a" stroke-width="0.5" />
<line x1="379.90" y1="408.00" x2="380.90" y2="408.00" stroke="#1a1a1a" stroke-width="0.5" />
<line x1="379.90" y1="410.00" x2="380.90" y2="410.00" stroke="#1a1a1a" stroke-width="0.5" />
<line x1="379.90" y1="415.00" x2="380.90" y2="415.00" stroke="#1a1a1a" stroke-width="0.5" />
<line x1="379.90" y1="417.00" x2="380.90" y2="417.00" stroke="#1a1a1a" stroke-width="0.5" />
<line x1="379.90" y1="419.00" x2="380.90" y2="419.00" stroke="#1a1a1a" stroke-width="0.5" />
<line x1="379.90" y1="421.00" x2="380.90" y2="421.00" stroke="#1a1a1a" stroke-width="0.5" />
<line x1="379.90" y1="423.00" x2="380.90" y2="423.00" stroke="#1a1a1a" stroke-width="0.5" />
<line x1="379.90" y1="429.00" x2="380.90" y2="429.00" stroke="#1a1a1a" stroke-width="0.5" />
<line x1="379.90" y1="432.00" x2="380.90" y2="432.00" stroke="#1a1a1a" stroke-width="0.5" />
<line x1="379.90" y1="435.00" x2="380.90" y2="435.00" stroke="#1a1a1a" stroke-width="0.5" />
<line x1="379.90" y1="438.00" x2="380.90" y2="438.00" stroke="#1a1a1a" stroke-width="0.5" />
<line x1="379.90" y1="444.00" x2="380.90" y2="444.00" stroke="#1a1a1a" stroke-width="0.5" />
<line x1="379.90" y1="446.00" x2="380.90" y2="446.00" stroke="#1a1a1a" stroke-width="0.5" />
<line x1="390.40" y1="449.90" x2="390.40" y2="451.70" stroke="#1a1a1a" stroke-width="0.8" />
<text transform="translate(390.40,459.90)" font-size="5.4" text-anchor="middle" font-weight="normal" font-style="normal" fill="#1a1a1a"  stroke="#1a1a1a" stroke-width="0.12">0</text>
<line x1="405.90" y1="449.90" x2="405.90" y2="451.70" stroke="#1a1a1a" stroke-width="0.8" />
<text transform="translate(405.90,459.90)" font-size="5.4" text-anchor="middle" font-weight="normal" font-style="normal" fill="#1a1a1a"  stroke="#1a1a1a" stroke-width="0.12">10<tspan dy="-2.05" font-size="3.51">3</tspan><tspan dy="2.05">​</tspan></text>
<line x1="420.10" y1="449.90" x2="420.10" y2="451.70" stroke="#1a1a1a" stroke-width="0.8" />
<text transform="translate(420.10,459.90)" font-size="5.4" text-anchor="middle" font-weight="normal" font-style="normal" fill="#1a1a1a"  stroke="#1a1a1a" stroke-width="0.12">10<tspan dy="-2.05" font-size="3.51">4</tspan><tspan dy="2.05">​</tspan></text>
<line x1="432.90" y1="449.90" x2="432.90" y2="451.70" stroke="#1a1a1a" stroke-width="0.8" />
<text transform="translate(432.90,459.90)" font-size="5.4" text-anchor="middle" font-weight="normal" font-style="normal" fill="#1a1a1a"  stroke="#1a1a1a" stroke-width="0.12">10<tspan dy="-2.05" font-size="3.51">5</tspan><tspan dy="2.05">​</tspan></text>
<line x1="383.00" y1="449.90" x2="383.00" y2="450.90" stroke="#1a1a1a" stroke-width="0.5" />
<line x1="385.00" y1="449.90" x2="385.00" y2="450.90" stroke="#1a1a1a" stroke-width="0.5" />
<line x1="387.00" y1="449.90" x2="387.00" y2="450.90" stroke="#1a1a1a" stroke-width="0.5" />
<line x1="389.00" y1="449.90" x2="389.00" y2="450.90" stroke="#1a1a1a" stroke-width="0.5" />
<line x1="391.00" y1="449.90" x2="391.00" y2="450.90" stroke="#1a1a1a" stroke-width="0.5" />
<line x1="393.00" y1="449.90" x2="393.00" y2="450.90" stroke="#1a1a1a" stroke-width="0.5" />
<line x1="395.00" y1="449.90" x2="395.00" y2="450.90" stroke="#1a1a1a" stroke-width="0.5" />
<line x1="397.00" y1="449.90" x2="397.00" y2="450.90" stroke="#1a1a1a" stroke-width="0.5" />
<line x1="399.00" y1="449.90" x2="399.00" y2="450.90" stroke="#1a1a1a" stroke-width="0.5" />
<line x1="401.00" y1="449.90" x2="401.00" y2="450.90" stroke="#1a1a1a" stroke-width="0.5" />
<line x1="403.00" y1="449.90" x2="403.00" y2="450.90" stroke="#1a1a1a" stroke-width="0.5" />
<line x1="405.00" y1="449.90" x2="405.00" y2="450.90" stroke="#1a1a1a" stroke-width="0.5" />
<line x1="407.00" y1="449.90" x2="407.00" y2="450.90" stroke="#1a1a1a" stroke-width="0.5" />
<line x1="409.00" y1="449.90" x2="409.00" y2="450.90" stroke="#1a1a1a" stroke-width="0.5" />
<line x1="411.00" y1="449.90" x2="411.00" y2="450.90" stroke="#1a1a1a" stroke-width="0.5" />
<line x1="413.00" y1="449.90" x2="413.00" y2="450.90" stroke="#1a1a1a" stroke-width="0.5" />
<line x1="415.00" y1="449.90" x2="415.00" y2="450.90" stroke="#1a1a1a" stroke-width="0.5" />
<line x1="417.00" y1="449.90" x2="417.00" y2="450.90" stroke="#1a1a1a" stroke-width="0.5" />
<line x1="419.00" y1="449.90" x2="419.00" y2="450.90" stroke="#1a1a1a" stroke-width="0.5" />
<line x1="421.00" y1="449.90" x2="421.00" y2="450.90" stroke="#1a1a1a" stroke-width="0.5" />
<line x1="423.00" y1="449.90" x2="423.00" y2="450.90" stroke="#1a1a1a" stroke-width="0.5" />
<line x1="425.00" y1="449.90" x2="425.00" y2="450.90" stroke="#1a1a1a" stroke-width="0.5" />
<line x1="427.00" y1="449.90" x2="427.00" y2="450.90" stroke="#1a1a1a" stroke-width="0.5" />
<line x1="429.00" y1="449.90" x2="429.00" y2="450.90" stroke="#1a1a1a" stroke-width="0.5" />
<line x1="431.00" y1="449.90" x2="431.00" y2="450.90" stroke="#1a1a1a" stroke-width="0.5" />
<line x1="433.00" y1="449.90" x2="433.00" y2="450.90" stroke="#1a1a1a" stroke-width="0.5" />
<line x1="435.00" y1="449.90" x2="435.00" y2="450.90" stroke="#1a1a1a" stroke-width="0.5" />
<text transform="translate(382.30,399.00) scale(0.92,1)" font-size="4.6" text-anchor="start" font-weight="normal" font-style="normal" fill="#1a1a1a"  stroke="#1a1a1a" stroke-width="0.12">93.2</text>
<text transform="translate(436.90,399.00) scale(0.92,1)" font-size="4.6" text-anchor="end" font-weight="normal" font-style="normal" fill="#1a1a1a"  stroke="#1a1a1a" stroke-width="0.12">4.16</text>
<text transform="translate(382.30,448.60) scale(0.92,1)" font-size="4.6" text-anchor="start" font-weight="normal" font-style="normal" fill="#1a1a1a"  stroke="#1a1a1a" stroke-width="0.12">2.3</text>
<text transform="translate(436.90,448.60) scale(0.92,1)" font-size="4.6" text-anchor="end" font-weight="normal" font-style="normal" fill="#1a1a1a"  stroke="#1a1a1a" stroke-width="0.12">0.347</text>
<text transform="translate(365.50,421.80) rotate(-90)" font-size="6.0" text-anchor="middle" font-weight="normal" font-style="normal" fill="#1a1a1a" textLength="8.8" lengthAdjust="spacingAndGlyphs" stroke="#1a1a1a" stroke-width="0.32">Tbet</text>
<rect x="453.40" y="393.40" width="57.40" height="56.50" fill="none" stroke="#1a1a1a" stroke-width="1.1" />
<text transform="translate(481.50,390.30) scale(0.93,1)" font-size="7.0" text-anchor="middle" font-weight="normal" font-style="normal" fill="#1a1a1a"  stroke="#1a1a1a" stroke-width="0.12">CD4<tspan dy="-2.66" font-size="4.55">+</tspan><tspan dy="2.66">​</tspan>YFP<tspan dy="-2.66" font-size="4.55">+</tspan><tspan dy="2.66">​</tspan></text>
<line x1="451.60" y1="399.50" x2="453.40" y2="399.50" stroke="#1a1a1a" stroke-width="0.8" />
<text transform="translate(450.40,401.50)" font-size="5.4" text-anchor="end" font-weight="normal" font-style="normal" fill="#1a1a1a"  stroke="#1a1a1a" stroke-width="0.12">10<tspan dy="-2.05" font-size="3.51">5</tspan><tspan dy="2.05">​</tspan></text>
<line x1="451.60" y1="412.50" x2="453.40" y2="412.50" stroke="#1a1a1a" stroke-width="0.8" />
<text transform="translate(450.40,414.50)" font-size="5.4" text-anchor="end" font-weight="normal" font-style="normal" fill="#1a1a1a"  stroke="#1a1a1a" stroke-width="0.12">10<tspan dy="-2.05" font-size="3.51">4</tspan><tspan dy="2.05">​</tspan></text>
<line x1="451.60" y1="426.30" x2="453.40" y2="426.30" stroke="#1a1a1a" stroke-width="0.8" />
<text transform="translate(450.40,428.30)" font-size="5.4" text-anchor="end" font-weight="normal" font-style="normal" fill="#1a1a1a"  stroke="#1a1a1a" stroke-width="0.12">10<tspan dy="-2.05" font-size="3.51">3</tspan><tspan dy="2.05">​</tspan></text>
<line x1="451.60" y1="441.30" x2="453.40" y2="441.30" stroke="#1a1a1a" stroke-width="0.8" />
<text transform="translate(450.40,443.30)" font-size="5.4" text-anchor="end" font-weight="normal" font-style="normal" fill="#1a1a1a"  stroke="#1a1a1a" stroke-width="0.12">0</text>
<line x1="452.40" y1="402.00" x2="453.40" y2="402.00" stroke="#1a1a1a" stroke-width="0.5" />
<line x1="452.40" y1="404.00" x2="453.40" y2="404.00" stroke="#1a1a1a" stroke-width="0.5" />
<line x1="452.40" y1="406.00" x2="453.40" y2="406.00" stroke="#1a1a1a" stroke-width="0.5" />
<line x1="452.40" y1="408.00" x2="453.40" y2="408.00" stroke="#1a1a1a" stroke-width="0.5" />
<line x1="452.40" y1="410.00" x2="453.40" y2="410.00" stroke="#1a1a1a" stroke-width="0.5" />
<line x1="452.40" y1="415.00" x2="453.40" y2="415.00" stroke="#1a1a1a" stroke-width="0.5" />
<line x1="452.40" y1="417.00" x2="453.40" y2="417.00" stroke="#1a1a1a" stroke-width="0.5" />
<line x1="452.40" y1="419.00" x2="453.40" y2="419.00" stroke="#1a1a1a" stroke-width="0.5" />
<line x1="452.40" y1="421.00" x2="453.40" y2="421.00" stroke="#1a1a1a" stroke-width="0.5" />
<line x1="452.40" y1="423.00" x2="453.40" y2="423.00" stroke="#1a1a1a" stroke-width="0.5" />
<line x1="452.40" y1="429.00" x2="453.40" y2="429.00" stroke="#1a1a1a" stroke-width="0.5" />
<line x1="452.40" y1="432.00" x2="453.40" y2="432.00" stroke="#1a1a1a" stroke-width="0.5" />
<line x1="452.40" y1="435.00" x2="453.40" y2="435.00" stroke="#1a1a1a" stroke-width="0.5" />
<line x1="452.40" y1="438.00" x2="453.40" y2="438.00" stroke="#1a1a1a" stroke-width="0.5" />
<line x1="452.40" y1="444.00" x2="453.40" y2="444.00" stroke="#1a1a1a" stroke-width="0.5" />
<line x1="452.40" y1="446.00" x2="453.40" y2="446.00" stroke="#1a1a1a" stroke-width="0.5" />
<line x1="462.90" y1="449.90" x2="462.90" y2="451.70" stroke="#1a1a1a" stroke-width="0.8" />
<text transform="translate(462.90,459.90)" font-size="5.4" text-anchor="middle" font-weight="normal" font-style="normal" fill="#1a1a1a"  stroke="#1a1a1a" stroke-width="0.12">0</text>
<line x1="478.40" y1="449.90" x2="478.40" y2="451.70" stroke="#1a1a1a" stroke-width="0.8" />
<text transform="translate(478.40,459.90)" font-size="5.4" text-anchor="middle" font-weight="normal" font-style="normal" fill="#1a1a1a"  stroke="#1a1a1a" stroke-width="0.12">10<tspan dy="-2.05" font-size="3.51">3</tspan><tspan dy="2.05">​</tspan></text>
<line x1="492.60" y1="449.90" x2="492.60" y2="451.70" stroke="#1a1a1a" stroke-width="0.8" />
<text transform="translate(492.60,459.90)" font-size="5.4" text-anchor="middle" font-weight="normal" font-style="normal" fill="#1a1a1a"  stroke="#1a1a1a" stroke-width="0.12">10<tspan dy="-2.05" font-size="3.51">4</tspan><tspan dy="2.05">​</tspan></text>
<line x1="505.40" y1="449.90" x2="505.40" y2="451.70" stroke="#1a1a1a" stroke-width="0.8" />
<text transform="translate(505.40,459.90)" font-size="5.4" text-anchor="middle" font-weight="normal" font-style="normal" fill="#1a1a1a"  stroke="#1a1a1a" stroke-width="0.12">10<tspan dy="-2.05" font-size="3.51">5</tspan><tspan dy="2.05">​</tspan></text>
<line x1="456.00" y1="449.90" x2="456.00" y2="450.90" stroke="#1a1a1a" stroke-width="0.5" />
<line x1="458.00" y1="449.90" x2="458.00" y2="450.90" stroke="#1a1a1a" stroke-width="0.5" />
<line x1="460.00" y1="449.90" x2="460.00" y2="450.90" stroke="#1a1a1a" stroke-width="0.5" />
<line x1="462.00" y1="449.90" x2="462.00" y2="450.90" stroke="#1a1a1a" stroke-width="0.5" />
<line x1="464.00" y1="449.90" x2="464.00" y2="450.90" stroke="#1a1a1a" stroke-width="0.5" />
<line x1="466.00" y1="449.90" x2="466.00" y2="450.90" stroke="#1a1a1a" stroke-width="0.5" />
<line x1="468.00" y1="449.90" x2="468.00" y2="450.90" stroke="#1a1a1a" stroke-width="0.5" />
<line x1="470.00" y1="449.90" x2="470.00" y2="450.90" stroke="#1a1a1a" stroke-width="0.5" />
<line x1="472.00" y1="449.90" x2="472.00" y2="450.90" stroke="#1a1a1a" stroke-width="0.5" />
<line x1="474.00" y1="449.90" x2="474.00" y2="450.90" stroke="#1a1a1a" stroke-width="0.5" />
<line x1="476.00" y1="449.90" x2="476.00" y2="450.90" stroke="#1a1a1a" stroke-width="0.5" />
<line x1="478.00" y1="449.90" x2="478.00" y2="450.90" stroke="#1a1a1a" stroke-width="0.5" />
<line x1="480.00" y1="449.90" x2="480.00" y2="450.90" stroke="#1a1a1a" stroke-width="0.5" />
<line x1="482.00" y1="449.90" x2="482.00" y2="450.90" stroke="#1a1a1a" stroke-width="0.5" />
<line x1="484.00" y1="449.90" x2="484.00" y2="450.90" stroke="#1a1a1a" stroke-width="0.5" />
<line x1="486.00" y1="449.90" x2="486.00" y2="450.90" stroke="#1a1a1a" stroke-width="0.5" />
<line x1="488.00" y1="449.90" x2="488.00" y2="450.90" stroke="#1a1a1a" stroke-width="0.5" />
<line x1="490.00" y1="449.90" x2="490.00" y2="450.90" stroke="#1a1a1a" stroke-width="0.5" />
<line x1="492.00" y1="449.90" x2="492.00" y2="450.90" stroke="#1a1a1a" stroke-width="0.5" />
<line x1="494.00" y1="449.90" x2="494.00" y2="450.90" stroke="#1a1a1a" stroke-width="0.5" />
<line x1="496.00" y1="449.90" x2="496.00" y2="450.90" stroke="#1a1a1a" stroke-width="0.5" />
<line x1="498.00" y1="449.90" x2="498.00" y2="450.90" stroke="#1a1a1a" stroke-width="0.5" />
<line x1="500.00" y1="449.90" x2="500.00" y2="450.90" stroke="#1a1a1a" stroke-width="0.5" />
<line x1="502.00" y1="449.90" x2="502.00" y2="450.90" stroke="#1a1a1a" stroke-width="0.5" />
<line x1="504.00" y1="449.90" x2="504.00" y2="450.90" stroke="#1a1a1a" stroke-width="0.5" />
<line x1="506.00" y1="449.90" x2="506.00" y2="450.90" stroke="#1a1a1a" stroke-width="0.5" />
<line x1="508.00" y1="449.90" x2="508.00" y2="450.90" stroke="#1a1a1a" stroke-width="0.5" />
<text transform="translate(454.80,399.00) scale(0.92,1)" font-size="4.6" text-anchor="start" font-weight="normal" font-style="normal" fill="#1a1a1a"  stroke="#1a1a1a" stroke-width="0.12">47</text>
<text transform="translate(509.40,399.00) scale(0.92,1)" font-size="4.6" text-anchor="end" font-weight="normal" font-style="normal" fill="#1a1a1a"  stroke="#1a1a1a" stroke-width="0.12">37.7</text>
<text transform="translate(454.80,448.60) scale(0.92,1)" font-size="4.6" text-anchor="start" font-weight="normal" font-style="normal" fill="#1a1a1a"  stroke="#1a1a1a" stroke-width="0.12">11.4</text>
<text transform="translate(509.40,448.60) scale(0.92,1)" font-size="4.6" text-anchor="end" font-weight="normal" font-style="normal" fill="#1a1a1a"  stroke="#1a1a1a" stroke-width="0.12">14</text>
<text transform="translate(329.50,469.00) scale(0.92,1)" font-size="5.3" text-anchor="middle" font-weight="normal" font-style="normal" fill="#1a1a1a"  stroke="#1a1a1a" stroke-width="0.12">Isotype</text>
<text transform="translate(383.00,468.80) scale(0.92,1)" font-size="5.3" text-anchor="start" font-weight="normal" font-style="normal" fill="#1a1a1a"  stroke="#1a1a1a" stroke-width="0.12">RORγt</text>
<line x1="403.00" y1="466.90" x2="504.00" y2="466.90" stroke="#222" stroke-width="1.5" />
<path d="M502,463.6 L511,466.9 L502,470.2 Z" fill="#111" stroke="none" stroke-width="1.0" />
<circle cx="319.71" cy="444.25" r="0.5" fill="#aaa" stroke="none" stroke-width="0.6"/>
<circle cx="312.01" cy="443.48" r="0.5" fill="#aaa" stroke="none" stroke-width="0.6"/>
<circle cx="317.06" cy="439.72" r="0.5" fill="#aaa" stroke="none" stroke-width="0.6"/>
<circle cx="333.25" cy="440.97" r="0.5" fill="#aaa" stroke="none" stroke-width="0.6"/>
<circle cx="318.68" cy="442.69" r="0.5" fill="#aaa" stroke="none" stroke-width="0.6"/>
<circle cx="327.45" cy="440.41" r="0.5" fill="#aaa" stroke="none" stroke-width="0.6"/>
<circle cx="323.41" cy="437.58" r="0.5" fill="#aaa" stroke="none" stroke-width="0.6"/>
<circle cx="316.25" cy="439.19" r="0.5" fill="#aaa" stroke="none" stroke-width="0.6"/>
<circle cx="309.01" cy="435.97" r="0.5" fill="#aaa" stroke="none" stroke-width="0.6"/>
<circle cx="306.80" cy="439.78" r="0.5" fill="#aaa" stroke="none" stroke-width="0.6"/>
<circle cx="317.71" cy="439.54" r="0.5" fill="#aaa" stroke="none" stroke-width="0.6"/>
<circle cx="319.52" cy="436.49" r="0.5" fill="#aaa" stroke="none" stroke-width="0.6"/>
<circle cx="318.40" cy="441.21" r="0.5" fill="#aaa" stroke="none" stroke-width="0.6"/>
<circle cx="324.63" cy="437.96" r="0.5" fill="#aaa" stroke="none" stroke-width="0.6"/>
<circle cx="316.00" cy="434.45" r="0.5" fill="#aaa" stroke="none" stroke-width="0.6"/>
<circle cx="315.22" cy="433.91" r="0.5" fill="#aaa" stroke="none" stroke-width="0.6"/>
<circle cx="308.35" cy="443.80" r="0.5" fill="#aaa" stroke="none" stroke-width="0.6"/>
<circle cx="302.49" cy="442.90" r="0.5" fill="#aaa" stroke="none" stroke-width="0.6"/>
<circle cx="321.46" cy="439.56" r="0.5" fill="#aaa" stroke="none" stroke-width="0.6"/>
<circle cx="322.45" cy="442.08" r="0.5" fill="#aaa" stroke="none" stroke-width="0.6"/>
<circle cx="326.84" cy="439.81" r="0.5" fill="#aaa" stroke="none" stroke-width="0.6"/>
<circle cx="314.56" cy="438.69" r="0.5" fill="#aaa" stroke="none" stroke-width="0.6"/>
<circle cx="311.60" cy="440.37" r="0.5" fill="#aaa" stroke="none" stroke-width="0.6"/>
<circle cx="313.11" cy="443.71" r="0.5" fill="#aaa" stroke="none" stroke-width="0.6"/>
<circle cx="304.98" cy="437.22" r="0.5" fill="#aaa" stroke="none" stroke-width="0.6"/>
<circle cx="311.85" cy="434.22" r="0.5" fill="#aaa" stroke="none" stroke-width="0.6"/>
<circle cx="333.27" cy="433.27" r="0.5" fill="#aaa" stroke="none" stroke-width="0.6"/>
<circle cx="316.88" cy="438.92" r="0.5" fill="#aaa" stroke="none" stroke-width="0.6"/>
<circle cx="331.42" cy="434.54" r="0.5" fill="#aaa" stroke="none" stroke-width="0.6"/>
<circle cx="327.04" cy="438.31" r="0.5" fill="#aaa" stroke="none" stroke-width="0.6"/>
<circle cx="317.84" cy="438.49" r="0.5" fill="#aaa" stroke="none" stroke-width="0.6"/>
<circle cx="323.80" cy="437.09" r="0.5" fill="#aaa" stroke="none" stroke-width="0.6"/>
<circle cx="318.41" cy="441.56" r="0.5" fill="#aaa" stroke="none" stroke-width="0.6"/>
<circle cx="332.80" cy="433.28" r="0.5" fill="#aaa" stroke="none" stroke-width="0.6"/>
<circle cx="330.44" cy="443.34" r="0.5" fill="#aaa" stroke="none" stroke-width="0.6"/>
<circle cx="315.37" cy="441.41" r="0.5" fill="#aaa" stroke="none" stroke-width="0.6"/>
<circle cx="315.50" cy="445.44" r="0.5" fill="#aaa" stroke="none" stroke-width="0.6"/>
<circle cx="320.57" cy="439.85" r="0.5" fill="#aaa" stroke="none" stroke-width="0.6"/>
<circle cx="317.29" cy="439.90" r="0.5" fill="#aaa" stroke="none" stroke-width="0.6"/>
<circle cx="317.68" cy="437.86" r="0.5" fill="#aaa" stroke="none" stroke-width="0.6"/>
<circle cx="334.44" cy="434.77" r="0.5" fill="#aaa" stroke="none" stroke-width="0.6"/>
<circle cx="317.90" cy="441.62" r="0.5" fill="#aaa" stroke="none" stroke-width="0.6"/>
<circle cx="317.47" cy="440.06" r="0.5" fill="#aaa" stroke="none" stroke-width="0.6"/>
<circle cx="321.49" cy="443.41" r="0.5" fill="#aaa" stroke="none" stroke-width="0.6"/>
<circle cx="315.64" cy="439.38" r="0.5" fill="#aaa" stroke="none" stroke-width="0.6"/>
<circle cx="333.55" cy="442.09" r="0.5" fill="#aaa" stroke="none" stroke-width="0.6"/>
<circle cx="311.61" cy="447.47" r="0.5" fill="#aaa" stroke="none" stroke-width="0.6"/>
<circle cx="324.82" cy="438.73" r="0.5" fill="#aaa" stroke="none" stroke-width="0.6"/>
<circle cx="310.19" cy="441.39" r="0.5" fill="#aaa" stroke="none" stroke-width="0.6"/>
<circle cx="312.76" cy="437.33" r="0.5" fill="#aaa" stroke="none" stroke-width="0.6"/>
<circle cx="309.28" cy="438.98" r="0.5" fill="#aaa" stroke="none" stroke-width="0.6"/>
<circle cx="327.31" cy="439.20" r="0.5" fill="#aaa" stroke="none" stroke-width="0.6"/>
<circle cx="308.13" cy="442.51" r="0.5" fill="#aaa" stroke="none" stroke-width="0.6"/>
<circle cx="319.49" cy="443.03" r="0.5" fill="#aaa" stroke="none" stroke-width="0.6"/>
<circle cx="328.01" cy="439.99" r="0.5" fill="#aaa" stroke="none" stroke-width="0.6"/>
<circle cx="317.91" cy="440.36" r="0.5" fill="#aaa" stroke="none" stroke-width="0.6"/>
<circle cx="310.49" cy="442.51" r="0.5" fill="#aaa" stroke="none" stroke-width="0.6"/>
<circle cx="329.29" cy="441.02" r="0.5" fill="#aaa" stroke="none" stroke-width="0.6"/>
<circle cx="317.22" cy="439.72" r="0.5" fill="#aaa" stroke="none" stroke-width="0.6"/>
<circle cx="313.15" cy="438.09" r="0.5" fill="#aaa" stroke="none" stroke-width="0.6"/>
<circle cx="315.99" cy="437.97" r="0.5" fill="#aaa" stroke="none" stroke-width="0.6"/>
<circle cx="315.72" cy="435.77" r="0.5" fill="#aaa" stroke="none" stroke-width="0.6"/>
<circle cx="321.63" cy="440.65" r="0.5" fill="#aaa" stroke="none" stroke-width="0.6"/>
<circle cx="310.36" cy="433.61" r="0.5" fill="#aaa" stroke="none" stroke-width="0.6"/>
<circle cx="318.94" cy="443.81" r="0.5" fill="#aaa" stroke="none" stroke-width="0.6"/>
<circle cx="313.50" cy="439.05" r="0.5" fill="#aaa" stroke="none" stroke-width="0.6"/>
<circle cx="314.74" cy="442.46" r="0.5" fill="#aaa" stroke="none" stroke-width="0.6"/>
<circle cx="312.13" cy="443.46" r="0.5" fill="#aaa" stroke="none" stroke-width="0.6"/>
<circle cx="316.73" cy="443.27" r="0.5" fill="#aaa" stroke="none" stroke-width="0.6"/>
<circle cx="319.24" cy="439.81" r="0.5" fill="#aaa" stroke="none" stroke-width="0.6"/>
<circle cx="307.91" cy="438.44" r="0.5" fill="#aaa" stroke="none" stroke-width="0.6"/>
<circle cx="317.04" cy="442.48" r="0.5" fill="#aaa" stroke="none" stroke-width="0.6"/>
<circle cx="320.84" cy="438.41" r="0.5" fill="#aaa" stroke="none" stroke-width="0.6"/>
<circle cx="322.07" cy="443.46" r="0.5" fill="#aaa" stroke="none" stroke-width="0.6"/>
<circle cx="317.89" cy="439.18" r="0.5" fill="#aaa" stroke="none" stroke-width="0.6"/>
<circle cx="316.05" cy="442.93" r="0.5" fill="#aaa" stroke="none" stroke-width="0.6"/>
<circle cx="323.04" cy="437.71" r="0.5" fill="#aaa" stroke="none" stroke-width="0.6"/>
<circle cx="321.81" cy="439.06" r="0.5" fill="#aaa" stroke="none" stroke-width="0.6"/>
<circle cx="313.37" cy="444.22" r="0.5" fill="#aaa" stroke="none" stroke-width="0.6"/>
<circle cx="325.16" cy="438.33" r="0.5" fill="#aaa" stroke="none" stroke-width="0.6"/>
<circle cx="319.60" cy="442.00" r="0.5" fill="#aaa" stroke="none" stroke-width="0.6"/>
<circle cx="314.20" cy="440.14" r="0.5" fill="#aaa" stroke="none" stroke-width="0.6"/>
<circle cx="324.00" cy="435.13" r="0.5" fill="#aaa" stroke="none" stroke-width="0.6"/>
<circle cx="321.46" cy="442.72" r="0.5" fill="#aaa" stroke="none" stroke-width="0.6"/>
<circle cx="322.78" cy="436.48" r="0.5" fill="#aaa" stroke="none" stroke-width="0.6"/>
<circle cx="321.39" cy="437.91" r="0.5" fill="#aaa" stroke="none" stroke-width="0.6"/>
<circle cx="323.27" cy="442.31" r="0.5" fill="#aaa" stroke="none" stroke-width="0.6"/>
<circle cx="320.62" cy="438.20" r="0.5" fill="#aaa" stroke="none" stroke-width="0.6"/>
<circle cx="314.57" cy="443.06" r="0.5" fill="#aaa" stroke="none" stroke-width="0.6"/>
<circle cx="312.26" cy="441.99" r="0.5" fill="#aaa" stroke="none" stroke-width="0.6"/>
<circle cx="322.84" cy="439.66" r="0.5" fill="#aaa" stroke="none" stroke-width="0.6"/>
<circle cx="336.96" cy="440.71" r="0.5" fill="#aaa" stroke="none" stroke-width="0.6"/>
<circle cx="335.10" cy="434.45" r="0.5" fill="#aaa" stroke="none" stroke-width="0.6"/>
<circle cx="302.17" cy="443.45" r="0.5" fill="#aaa" stroke="none" stroke-width="0.6"/>
<circle cx="323.77" cy="439.56" r="0.5" fill="#aaa" stroke="none" stroke-width="0.6"/>
<circle cx="318.60" cy="434.79" r="0.5" fill="#aaa" stroke="none" stroke-width="0.6"/>
<circle cx="314.28" cy="437.40" r="0.5" fill="#aaa" stroke="none" stroke-width="0.6"/>
<circle cx="317.34" cy="443.16" r="0.5" fill="#aaa" stroke="none" stroke-width="0.6"/>
<circle cx="319.40" cy="441.62" r="0.5" fill="#aaa" stroke="none" stroke-width="0.6"/>
<circle cx="313.76" cy="439.20" r="0.5" fill="#aaa" stroke="none" stroke-width="0.6"/>
<circle cx="319.84" cy="439.65" r="0.5" fill="#aaa" stroke="none" stroke-width="0.6"/>
<circle cx="328.49" cy="437.87" r="0.5" fill="#aaa" stroke="none" stroke-width="0.6"/>
<circle cx="333.18" cy="437.56" r="0.5" fill="#aaa" stroke="none" stroke-width="0.6"/>
<circle cx="326.95" cy="438.18" r="0.5" fill="#aaa" stroke="none" stroke-width="0.6"/>
<circle cx="331.36" cy="440.91" r="0.5" fill="#aaa" stroke="none" stroke-width="0.6"/>
<circle cx="321.99" cy="442.73" r="0.5" fill="#aaa" stroke="none" stroke-width="0.6"/>
<circle cx="314.24" cy="437.37" r="0.5" fill="#aaa" stroke="none" stroke-width="0.6"/>
<circle cx="303.80" cy="444.16" r="0.5" fill="#aaa" stroke="none" stroke-width="0.6"/>
<circle cx="313.78" cy="438.72" r="0.5" fill="#aaa" stroke="none" stroke-width="0.6"/>
<circle cx="318.77" cy="446.47" r="0.5" fill="#aaa" stroke="none" stroke-width="0.6"/>
<circle cx="306.04" cy="441.25" r="0.5" fill="#aaa" stroke="none" stroke-width="0.6"/>
<circle cx="316.03" cy="442.10" r="0.5" fill="#aaa" stroke="none" stroke-width="0.6"/>
<circle cx="305.51" cy="439.31" r="0.5" fill="#aaa" stroke="none" stroke-width="0.6"/>
<circle cx="325.30" cy="445.18" r="0.5" fill="#aaa" stroke="none" stroke-width="0.6"/>
<circle cx="330.98" cy="437.94" r="0.5" fill="#aaa" stroke="none" stroke-width="0.6"/>
<circle cx="319.41" cy="440.17" r="0.5" fill="#aaa" stroke="none" stroke-width="0.6"/>
<circle cx="308.68" cy="436.18" r="0.5" fill="#aaa" stroke="none" stroke-width="0.6"/>
<circle cx="324.68" cy="441.24" r="0.5" fill="#aaa" stroke="none" stroke-width="0.6"/>
<circle cx="317.93" cy="444.15" r="0.5" fill="#aaa" stroke="none" stroke-width="0.6"/>
<circle cx="311.49" cy="442.08" r="0.5" fill="#aaa" stroke="none" stroke-width="0.6"/>
<circle cx="319.07" cy="440.32" r="0.5" fill="#aaa" stroke="none" stroke-width="0.6"/>
<circle cx="322.68" cy="441.03" r="0.5" fill="#aaa" stroke="none" stroke-width="0.6"/>
<circle cx="321.00" cy="441.30" r="0.5" fill="#aaa" stroke="none" stroke-width="0.6"/>
<circle cx="333.54" cy="439.57" r="0.5" fill="#aaa" stroke="none" stroke-width="0.6"/>
<circle cx="326.59" cy="442.33" r="0.5" fill="#aaa" stroke="none" stroke-width="0.6"/>
<circle cx="316.38" cy="442.89" r="0.5" fill="#aaa" stroke="none" stroke-width="0.6"/>
<circle cx="312.57" cy="443.98" r="0.5" fill="#aaa" stroke="none" stroke-width="0.6"/>
<circle cx="312.93" cy="439.03" r="0.5" fill="#aaa" stroke="none" stroke-width="0.6"/>
<circle cx="321.42" cy="443.00" r="0.5" fill="#aaa" stroke="none" stroke-width="0.6"/>
<circle cx="325.81" cy="443.18" r="0.5" fill="#aaa" stroke="none" stroke-width="0.6"/>
<circle cx="317.45" cy="437.63" r="0.5" fill="#aaa" stroke="none" stroke-width="0.6"/>
<circle cx="323.12" cy="441.41" r="0.5" fill="#aaa" stroke="none" stroke-width="0.6"/>
<circle cx="311.86" cy="443.42" r="0.5" fill="#aaa" stroke="none" stroke-width="0.6"/>
<circle cx="320.49" cy="437.63" r="0.5" fill="#aaa" stroke="none" stroke-width="0.6"/>
<circle cx="322.31" cy="436.52" r="0.5" fill="#aaa" stroke="none" stroke-width="0.6"/>
<circle cx="312.42" cy="441.71" r="0.5" fill="#aaa" stroke="none" stroke-width="0.6"/>
<circle cx="307.32" cy="440.61" r="0.5" fill="#aaa" stroke="none" stroke-width="0.6"/>
<circle cx="308.87" cy="442.71" r="0.5" fill="#aaa" stroke="none" stroke-width="0.6"/>
<circle cx="313.55" cy="441.05" r="0.5" fill="#aaa" stroke="none" stroke-width="0.6"/>
<circle cx="336.20" cy="441.43" r="0.45" fill="#bbb" stroke="none" stroke-width="0.6"/>
<circle cx="333.70" cy="441.21" r="0.45" fill="#bbb" stroke="none" stroke-width="0.6"/>
<circle cx="340.63" cy="441.32" r="0.45" fill="#bbb" stroke="none" stroke-width="0.6"/>
<circle cx="343.81" cy="438.73" r="0.45" fill="#bbb" stroke="none" stroke-width="0.6"/>
<circle cx="336.34" cy="439.09" r="0.45" fill="#bbb" stroke="none" stroke-width="0.6"/>
<circle cx="332.08" cy="440.13" r="0.45" fill="#bbb" stroke="none" stroke-width="0.6"/>
<circle cx="337.11" cy="441.34" r="0.45" fill="#bbb" stroke="none" stroke-width="0.6"/>
<circle cx="338.54" cy="444.97" r="0.45" fill="#bbb" stroke="none" stroke-width="0.6"/>
<circle cx="340.31" cy="437.31" r="0.45" fill="#bbb" stroke="none" stroke-width="0.6"/>
<circle cx="337.02" cy="439.25" r="0.45" fill="#bbb" stroke="none" stroke-width="0.6"/>
<circle cx="333.42" cy="443.11" r="0.45" fill="#bbb" stroke="none" stroke-width="0.6"/>
<circle cx="334.89" cy="436.60" r="0.45" fill="#bbb" stroke="none" stroke-width="0.6"/>
<circle cx="337.55" cy="439.92" r="0.45" fill="#bbb" stroke="none" stroke-width="0.6"/>
<circle cx="330.13" cy="438.66" r="0.45" fill="#bbb" stroke="none" stroke-width="0.6"/>
<circle cx="332.87" cy="440.45" r="0.45" fill="#bbb" stroke="none" stroke-width="0.6"/>
<circle cx="333.87" cy="440.64" r="0.45" fill="#bbb" stroke="none" stroke-width="0.6"/>
<circle cx="345.18" cy="438.90" r="0.45" fill="#bbb" stroke="none" stroke-width="0.6"/>
<circle cx="331.96" cy="440.00" r="0.45" fill="#bbb" stroke="none" stroke-width="0.6"/>
<circle cx="341.48" cy="439.09" r="0.45" fill="#bbb" stroke="none" stroke-width="0.6"/>
<circle cx="343.17" cy="437.88" r="0.45" fill="#bbb" stroke="none" stroke-width="0.6"/>
<circle cx="330.84" cy="440.39" r="0.45" fill="#bbb" stroke="none" stroke-width="0.6"/>
<circle cx="331.68" cy="439.26" r="0.45" fill="#bbb" stroke="none" stroke-width="0.6"/>
<circle cx="338.26" cy="441.95" r="0.45" fill="#bbb" stroke="none" stroke-width="0.6"/>
<circle cx="336.57" cy="439.95" r="0.45" fill="#bbb" stroke="none" stroke-width="0.6"/>
<circle cx="342.72" cy="441.31" r="0.45" fill="#bbb" stroke="none" stroke-width="0.6"/>
<path d="M330.30,438.55 Q330.29,439.15 330.44,439.74 Q330.59,440.33 329.81,440.89 Q329.02,441.45 328.56,442.01 Q328.10,442.57 327.54,443.18 Q326.98,443.78 325.85,444.15 Q324.72,444.53 323.49,444.72 Q322.25,444.91 321.09,445.15 Q319.94,445.39 318.68,445.60 Q317.42,445.80 316.30,445.61 Q315.17,445.43 314.24,445.13 Q313.31,444.84 312.08,444.71 Q310.86,444.59 310.50,444.02 Q310.14,443.46 309.42,443.03 Q308.71,442.60 308.52,442.03 Q308.33,441.46 308.49,440.87 Q308.66,440.27 308.75,439.65 Q308.84,439.04 309.82,438.54 Q310.80,438.05 311.44,437.49 Q312.08,436.94 313.22,436.62 Q314.37,436.30 315.33,435.80 Q316.30,435.29 317.59,435.30 Q318.88,435.31 320.09,435.15 Q321.31,435.00 322.55,434.98 Q323.80,434.97 324.92,435.16 Q326.04,435.36 326.66,435.85 Q327.28,436.34 328.33,436.62 Q329.38,436.90 329.84,437.42 Q330.31,437.95 330.30,438.55 Z" fill="#d0d0d0" stroke="#999" stroke-width="0.45" stroke-linejoin="round" fill-opacity="0.9"/>
<path d="M328.04,438.93 Q328.05,439.43 327.94,439.92 Q327.82,440.41 327.55,440.89 Q327.27,441.37 327.08,441.90 Q326.90,442.43 326.16,442.81 Q325.41,443.20 324.66,443.56 Q323.92,443.93 323.02,444.16 Q322.12,444.39 321.19,444.51 Q320.25,444.62 319.31,444.74 Q318.36,444.86 317.46,444.76 Q316.57,444.66 315.69,444.52 Q314.81,444.38 314.13,444.08 Q313.45,443.77 312.84,443.43 Q312.22,443.08 312.02,442.60 Q311.81,442.12 311.77,441.63 Q311.73,441.15 311.79,440.67 Q311.84,440.19 311.87,439.68 Q311.90,439.17 312.55,438.75 Q313.21,438.33 313.68,437.85 Q314.15,437.38 314.93,437.04 Q315.71,436.70 316.65,436.55 Q317.59,436.41 318.46,436.10 Q319.33,435.80 320.24,435.92 Q321.14,436.05 322.14,435.93 Q323.13,435.82 323.97,436.01 Q324.81,436.20 325.34,436.59 Q325.87,436.98 326.58,437.27 Q327.29,437.55 327.66,437.99 Q328.03,438.43 328.04,438.93 Z" fill="#a8a8a8" stroke="#666" stroke-width="0.45" stroke-linejoin="round" fill-opacity="1"/>
<path d="M326.17,439.29 Q326.45,439.64 326.23,440.05 Q326.01,440.46 325.90,440.85 Q325.79,441.25 325.45,441.61 Q325.12,441.98 324.78,442.36 Q324.44,442.75 323.85,443.02 Q323.27,443.30 322.64,443.54 Q322.01,443.78 321.28,443.75 Q320.56,443.73 319.88,443.82 Q319.20,443.91 318.59,443.77 Q317.97,443.64 317.36,443.53 Q316.75,443.41 316.18,443.23 Q315.61,443.04 315.34,442.69 Q315.06,442.34 314.76,442.01 Q314.45,441.69 314.20,441.32 Q313.94,440.96 314.01,440.55 Q314.08,440.13 314.36,439.75 Q314.64,439.36 314.87,438.96 Q315.10,438.56 315.52,438.19 Q315.93,437.83 316.63,437.67 Q317.33,437.50 317.87,437.18 Q318.41,436.85 319.11,436.75 Q319.82,436.65 320.50,436.69 Q321.19,436.72 321.82,436.82 Q322.46,436.91 323.18,436.93 Q323.91,436.95 324.31,437.28 Q324.71,437.61 325.04,437.93 Q325.37,438.25 325.63,438.59 Q325.89,438.93 326.17,439.29 Z" fill="#707070" stroke="#444" stroke-width="0.45" stroke-linejoin="round" fill-opacity="1"/>
<path d="M324.51,439.60 Q324.58,439.88 324.70,440.18 Q324.82,440.47 324.58,440.76 Q324.35,441.04 324.19,441.33 Q324.03,441.63 323.75,441.89 Q323.47,442.16 323.10,442.38 Q322.73,442.59 322.26,442.70 Q321.80,442.81 321.34,442.90 Q320.88,442.98 320.43,442.93 Q319.98,442.88 319.51,442.89 Q319.05,442.89 318.65,442.77 Q318.25,442.64 317.82,442.52 Q317.40,442.39 317.17,442.13 Q316.94,441.87 316.72,441.61 Q316.49,441.35 316.47,441.04 Q316.45,440.74 316.52,440.44 Q316.60,440.14 316.59,439.82 Q316.58,439.50 316.81,439.21 Q317.05,438.93 317.43,438.71 Q317.81,438.50 318.21,438.33 Q318.62,438.16 319.01,437.97 Q319.39,437.78 319.86,437.70 Q320.32,437.62 320.80,437.56 Q321.27,437.51 321.72,437.59 Q322.17,437.66 322.58,437.80 Q322.99,437.93 323.35,438.10 Q323.71,438.27 323.95,438.51 Q324.20,438.76 324.31,439.04 Q324.43,439.32 324.51,439.60 Z" fill="#383838" stroke="#222" stroke-width="0.45" stroke-linejoin="round" fill-opacity="1"/>
<path d="M323.22,439.89 Q323.27,440.06 323.27,440.24 Q323.28,440.42 323.24,440.61 Q323.21,440.79 323.02,440.93 Q322.83,441.08 322.67,441.22 Q322.51,441.36 322.30,441.47 Q322.09,441.57 321.87,441.65 Q321.65,441.74 321.40,441.78 Q321.16,441.81 320.91,441.83 Q320.67,441.85 320.41,441.84 Q320.16,441.84 319.90,441.80 Q319.64,441.76 319.46,441.63 Q319.28,441.50 319.16,441.35 Q319.04,441.20 318.93,441.04 Q318.83,440.88 318.75,440.71 Q318.67,440.55 318.72,440.36 Q318.77,440.18 318.86,440.01 Q318.96,439.85 319.00,439.66 Q319.04,439.47 319.23,439.33 Q319.42,439.19 319.66,439.11 Q319.90,439.02 320.13,438.94 Q320.36,438.87 320.60,438.82 Q320.84,438.77 321.10,438.70 Q321.36,438.62 321.59,438.72 Q321.81,438.82 322.06,438.86 Q322.31,438.89 322.54,438.98 Q322.76,439.06 322.83,439.25 Q322.90,439.44 323.03,439.58 Q323.17,439.72 323.22,439.89 Z" fill="#111" stroke="#000" stroke-width="0.4" stroke-linejoin="round" fill-opacity="1"/>
<circle cx="322.00" cy="440.60" r="0.7" fill="#fff" stroke="none" stroke-width="0.6"/>
<circle cx="400.21" cy="412.81" r="0.45" fill="#aaa" stroke="none" stroke-width="0.6"/>
<circle cx="418.69" cy="403.65" r="0.45" fill="#aaa" stroke="none" stroke-width="0.6"/>
<circle cx="410.57" cy="403.95" r="0.45" fill="#aaa" stroke="none" stroke-width="0.6"/>
<circle cx="423.01" cy="423.62" r="0.45" fill="#aaa" stroke="none" stroke-width="0.6"/>
<circle cx="425.56" cy="417.97" r="0.45" fill="#aaa" stroke="none" stroke-width="0.6"/>
<circle cx="415.98" cy="419.71" r="0.45" fill="#aaa" stroke="none" stroke-width="0.6"/>
<circle cx="404.62" cy="423.16" r="0.45" fill="#aaa" stroke="none" stroke-width="0.6"/>
<circle cx="399.43" cy="419.16" r="0.45" fill="#aaa" stroke="none" stroke-width="0.6"/>
<circle cx="418.97" cy="422.46" r="0.45" fill="#aaa" stroke="none" stroke-width="0.6"/>
<circle cx="407.90" cy="439.52" r="0.45" fill="#aaa" stroke="none" stroke-width="0.6"/>
<circle cx="412.58" cy="417.31" r="0.45" fill="#aaa" stroke="none" stroke-width="0.6"/>
<circle cx="413.60" cy="417.82" r="0.45" fill="#aaa" stroke="none" stroke-width="0.6"/>
<circle cx="408.15" cy="419.20" r="0.45" fill="#aaa" stroke="none" stroke-width="0.6"/>
<circle cx="432.25" cy="422.18" r="0.45" fill="#aaa" stroke="none" stroke-width="0.6"/>
<circle cx="413.76" cy="427.39" r="0.45" fill="#aaa" stroke="none" stroke-width="0.6"/>
<circle cx="432.17" cy="420.21" r="0.45" fill="#aaa" stroke="none" stroke-width="0.6"/>
<circle cx="405.76" cy="441.80" r="0.45" fill="#aaa" stroke="none" stroke-width="0.6"/>
<circle cx="397.40" cy="419.06" r="0.45" fill="#aaa" stroke="none" stroke-width="0.6"/>
<circle cx="418.67" cy="440.27" r="0.45" fill="#aaa" stroke="none" stroke-width="0.6"/>
<circle cx="402.50" cy="402.58" r="0.45" fill="#aaa" stroke="none" stroke-width="0.6"/>
<circle cx="418.62" cy="417.83" r="0.45" fill="#aaa" stroke="none" stroke-width="0.6"/>
<circle cx="408.13" cy="425.69" r="0.45" fill="#aaa" stroke="none" stroke-width="0.6"/>
<circle cx="414.24" cy="424.33" r="0.45" fill="#aaa" stroke="none" stroke-width="0.6"/>
<circle cx="407.69" cy="432.31" r="0.45" fill="#aaa" stroke="none" stroke-width="0.6"/>
<circle cx="427.05" cy="422.26" r="0.45" fill="#aaa" stroke="none" stroke-width="0.6"/>
<circle cx="407.48" cy="427.87" r="0.45" fill="#aaa" stroke="none" stroke-width="0.6"/>
<circle cx="416.78" cy="413.68" r="0.45" fill="#aaa" stroke="none" stroke-width="0.6"/>
<circle cx="407.40" cy="430.39" r="0.45" fill="#aaa" stroke="none" stroke-width="0.6"/>
<circle cx="411.04" cy="419.37" r="0.45" fill="#aaa" stroke="none" stroke-width="0.6"/>
<circle cx="414.12" cy="421.73" r="0.45" fill="#aaa" stroke="none" stroke-width="0.6"/>
<circle cx="411.98" cy="406.56" r="0.45" fill="#aaa" stroke="none" stroke-width="0.6"/>
<circle cx="429.49" cy="423.60" r="0.45" fill="#aaa" stroke="none" stroke-width="0.6"/>
<circle cx="403.23" cy="429.84" r="0.45" fill="#aaa" stroke="none" stroke-width="0.6"/>
<circle cx="415.09" cy="422.14" r="0.45" fill="#aaa" stroke="none" stroke-width="0.6"/>
<circle cx="422.48" cy="440.09" r="0.45" fill="#aaa" stroke="none" stroke-width="0.6"/>
<circle cx="417.54" cy="434.68" r="0.45" fill="#aaa" stroke="none" stroke-width="0.6"/>
<circle cx="433.57" cy="413.83" r="0.45" fill="#aaa" stroke="none" stroke-width="0.6"/>
<circle cx="406.77" cy="428.21" r="0.45" fill="#aaa" stroke="none" stroke-width="0.6"/>
<circle cx="394.92" cy="419.86" r="0.45" fill="#aaa" stroke="none" stroke-width="0.6"/>
<circle cx="424.93" cy="430.35" r="0.45" fill="#aaa" stroke="none" stroke-width="0.6"/>
<circle cx="417.79" cy="406.84" r="0.45" fill="#aaa" stroke="none" stroke-width="0.6"/>
<circle cx="435.51" cy="426.41" r="0.45" fill="#aaa" stroke="none" stroke-width="0.6"/>
<circle cx="419.67" cy="425.96" r="0.45" fill="#aaa" stroke="none" stroke-width="0.6"/>
<circle cx="394.84" cy="410.52" r="0.45" fill="#aaa" stroke="none" stroke-width="0.6"/>
<circle cx="399.83" cy="437.34" r="0.45" fill="#aaa" stroke="none" stroke-width="0.6"/>
<circle cx="403.69" cy="420.06" r="0.45" fill="#aaa" stroke="none" stroke-width="0.6"/>
<circle cx="409.45" cy="426.57" r="0.45" fill="#aaa" stroke="none" stroke-width="0.6"/>
<circle cx="417.01" cy="424.14" r="0.45" fill="#aaa" stroke="none" stroke-width="0.6"/>
<circle cx="399.38" cy="396.89" r="0.45" fill="#aaa" stroke="none" stroke-width="0.6"/>
<circle cx="413.66" cy="424.14" r="0.45" fill="#aaa" stroke="none" stroke-width="0.6"/>
<circle cx="424.31" cy="421.18" r="0.45" fill="#aaa" stroke="none" stroke-width="0.6"/>
<circle cx="405.89" cy="425.28" r="0.45" fill="#aaa" stroke="none" stroke-width="0.6"/>
<circle cx="396.46" cy="413.67" r="0.45" fill="#aaa" stroke="none" stroke-width="0.6"/>
<circle cx="401.94" cy="424.30" r="0.45" fill="#aaa" stroke="none" stroke-width="0.6"/>
<circle cx="432.91" cy="428.11" r="0.45" fill="#aaa" stroke="none" stroke-width="0.6"/>
<circle cx="423.42" cy="423.91" r="0.45" fill="#aaa" stroke="none" stroke-width="0.6"/>
<circle cx="414.79" cy="418.40" r="0.45" fill="#aaa" stroke="none" stroke-width="0.6"/>
<circle cx="409.19" cy="402.56" r="0.45" fill="#aaa" stroke="none" stroke-width="0.6"/>
<circle cx="399.97" cy="411.70" r="0.45" fill="#aaa" stroke="none" stroke-width="0.6"/>
<circle cx="420.37" cy="427.30" r="0.45" fill="#aaa" stroke="none" stroke-width="0.6"/>
<circle cx="423.42" cy="434.45" r="0.45" fill="#aaa" stroke="none" stroke-width="0.6"/>
<circle cx="408.95" cy="430.44" r="0.45" fill="#aaa" stroke="none" stroke-width="0.6"/>
<circle cx="431.56" cy="421.93" r="0.45" fill="#aaa" stroke="none" stroke-width="0.6"/>
<circle cx="422.87" cy="420.68" r="0.45" fill="#aaa" stroke="none" stroke-width="0.6"/>
<circle cx="395.87" cy="422.96" r="0.45" fill="#aaa" stroke="none" stroke-width="0.6"/>
<circle cx="403.78" cy="422.87" r="0.45" fill="#aaa" stroke="none" stroke-width="0.6"/>
<circle cx="407.37" cy="424.56" r="0.45" fill="#aaa" stroke="none" stroke-width="0.6"/>
<circle cx="390.63" cy="438.67" r="0.45" fill="#aaa" stroke="none" stroke-width="0.6"/>
<circle cx="425.60" cy="419.19" r="0.45" fill="#aaa" stroke="none" stroke-width="0.6"/>
<circle cx="402.91" cy="422.03" r="0.45" fill="#aaa" stroke="none" stroke-width="0.6"/>
<circle cx="418.76" cy="425.39" r="0.45" fill="#aaa" stroke="none" stroke-width="0.6"/>
<circle cx="416.02" cy="406.24" r="0.45" fill="#aaa" stroke="none" stroke-width="0.6"/>
<circle cx="400.69" cy="432.75" r="0.45" fill="#aaa" stroke="none" stroke-width="0.6"/>
<circle cx="414.40" cy="409.83" r="0.45" fill="#aaa" stroke="none" stroke-width="0.6"/>
<circle cx="403.32" cy="410.42" r="0.45" fill="#aaa" stroke="none" stroke-width="0.6"/>
<circle cx="401.79" cy="431.45" r="0.45" fill="#aaa" stroke="none" stroke-width="0.6"/>
<circle cx="409.78" cy="431.05" r="0.45" fill="#aaa" stroke="none" stroke-width="0.6"/>
<circle cx="413.90" cy="409.84" r="0.45" fill="#aaa" stroke="none" stroke-width="0.6"/>
<circle cx="405.44" cy="440.57" r="0.45" fill="#aaa" stroke="none" stroke-width="0.6"/>
<circle cx="404.23" cy="413.48" r="0.45" fill="#aaa" stroke="none" stroke-width="0.6"/>
<circle cx="424.55" cy="422.73" r="0.45" fill="#aaa" stroke="none" stroke-width="0.6"/>
<circle cx="411.94" cy="433.94" r="0.45" fill="#aaa" stroke="none" stroke-width="0.6"/>
<circle cx="394.08" cy="425.40" r="0.45" fill="#aaa" stroke="none" stroke-width="0.6"/>
<circle cx="401.26" cy="410.57" r="0.45" fill="#aaa" stroke="none" stroke-width="0.6"/>
<circle cx="403.71" cy="431.39" r="0.45" fill="#aaa" stroke="none" stroke-width="0.6"/>
<circle cx="410.57" cy="407.03" r="0.45" fill="#aaa" stroke="none" stroke-width="0.6"/>
<circle cx="400.69" cy="434.45" r="0.45" fill="#aaa" stroke="none" stroke-width="0.6"/>
<circle cx="422.45" cy="413.09" r="0.45" fill="#aaa" stroke="none" stroke-width="0.6"/>
<circle cx="436.76" cy="419.01" r="0.45" fill="#aaa" stroke="none" stroke-width="0.6"/>
<circle cx="399.80" cy="420.88" r="0.45" fill="#aaa" stroke="none" stroke-width="0.6"/>
<circle cx="421.57" cy="435.16" r="0.45" fill="#aaa" stroke="none" stroke-width="0.6"/>
<circle cx="422.52" cy="418.51" r="0.45" fill="#aaa" stroke="none" stroke-width="0.6"/>
<circle cx="406.26" cy="410.10" r="0.45" fill="#aaa" stroke="none" stroke-width="0.6"/>
<circle cx="411.24" cy="417.12" r="0.45" fill="#aaa" stroke="none" stroke-width="0.6"/>
<circle cx="414.50" cy="411.64" r="0.45" fill="#aaa" stroke="none" stroke-width="0.6"/>
<circle cx="406.71" cy="414.79" r="0.45" fill="#aaa" stroke="none" stroke-width="0.6"/>
<circle cx="399.70" cy="412.31" r="0.45" fill="#aaa" stroke="none" stroke-width="0.6"/>
<circle cx="401.58" cy="412.32" r="0.45" fill="#aaa" stroke="none" stroke-width="0.6"/>
<circle cx="417.82" cy="422.82" r="0.45" fill="#aaa" stroke="none" stroke-width="0.6"/>
<circle cx="398.49" cy="426.20" r="0.45" fill="#aaa" stroke="none" stroke-width="0.6"/>
<circle cx="414.94" cy="433.95" r="0.45" fill="#aaa" stroke="none" stroke-width="0.6"/>
<circle cx="410.01" cy="420.29" r="0.45" fill="#aaa" stroke="none" stroke-width="0.6"/>
<circle cx="404.95" cy="423.02" r="0.45" fill="#aaa" stroke="none" stroke-width="0.6"/>
<circle cx="417.05" cy="423.43" r="0.45" fill="#aaa" stroke="none" stroke-width="0.6"/>
<circle cx="409.40" cy="426.62" r="0.45" fill="#aaa" stroke="none" stroke-width="0.6"/>
<circle cx="412.94" cy="424.02" r="0.45" fill="#aaa" stroke="none" stroke-width="0.6"/>
<circle cx="402.45" cy="423.69" r="0.45" fill="#aaa" stroke="none" stroke-width="0.6"/>
<circle cx="401.81" cy="415.10" r="0.45" fill="#aaa" stroke="none" stroke-width="0.6"/>
<circle cx="413.65" cy="439.24" r="0.45" fill="#aaa" stroke="none" stroke-width="0.6"/>
<circle cx="422.20" cy="422.03" r="0.45" fill="#aaa" stroke="none" stroke-width="0.6"/>
<circle cx="410.17" cy="430.09" r="0.45" fill="#aaa" stroke="none" stroke-width="0.6"/>
<circle cx="426.15" cy="431.99" r="0.45" fill="#aaa" stroke="none" stroke-width="0.6"/>
<circle cx="410.10" cy="423.54" r="0.45" fill="#aaa" stroke="none" stroke-width="0.6"/>
<circle cx="408.63" cy="419.66" r="0.45" fill="#aaa" stroke="none" stroke-width="0.6"/>
<circle cx="403.26" cy="419.96" r="0.45" fill="#aaa" stroke="none" stroke-width="0.6"/>
<circle cx="389.98" cy="412.19" r="0.45" fill="#aaa" stroke="none" stroke-width="0.6"/>
<circle cx="416.35" cy="414.42" r="0.45" fill="#aaa" stroke="none" stroke-width="0.6"/>
<circle cx="417.53" cy="411.42" r="0.45" fill="#aaa" stroke="none" stroke-width="0.6"/>
<circle cx="408.22" cy="425.24" r="0.45" fill="#aaa" stroke="none" stroke-width="0.6"/>
<circle cx="401.39" cy="416.16" r="0.45" fill="#aaa" stroke="none" stroke-width="0.6"/>
<circle cx="404.78" cy="417.31" r="0.45" fill="#aaa" stroke="none" stroke-width="0.6"/>
<circle cx="412.34" cy="421.78" r="0.45" fill="#aaa" stroke="none" stroke-width="0.6"/>
<circle cx="422.06" cy="428.48" r="0.45" fill="#aaa" stroke="none" stroke-width="0.6"/>
<circle cx="407.87" cy="419.08" r="0.45" fill="#aaa" stroke="none" stroke-width="0.6"/>
<circle cx="397.53" cy="409.75" r="0.45" fill="#aaa" stroke="none" stroke-width="0.6"/>
<circle cx="404.44" cy="427.98" r="0.45" fill="#aaa" stroke="none" stroke-width="0.6"/>
<circle cx="413.23" cy="428.57" r="0.45" fill="#aaa" stroke="none" stroke-width="0.6"/>
<circle cx="421.63" cy="420.65" r="0.45" fill="#aaa" stroke="none" stroke-width="0.6"/>
<circle cx="433.48" cy="417.72" r="0.45" fill="#aaa" stroke="none" stroke-width="0.6"/>
<circle cx="405.61" cy="418.49" r="0.45" fill="#aaa" stroke="none" stroke-width="0.6"/>
<circle cx="423.63" cy="420.88" r="0.45" fill="#aaa" stroke="none" stroke-width="0.6"/>
<circle cx="404.44" cy="425.55" r="0.45" fill="#aaa" stroke="none" stroke-width="0.6"/>
<circle cx="423.58" cy="421.08" r="0.45" fill="#aaa" stroke="none" stroke-width="0.6"/>
<circle cx="409.42" cy="430.87" r="0.45" fill="#aaa" stroke="none" stroke-width="0.6"/>
<circle cx="422.05" cy="429.73" r="0.45" fill="#aaa" stroke="none" stroke-width="0.6"/>
<circle cx="404.19" cy="424.32" r="0.45" fill="#aaa" stroke="none" stroke-width="0.6"/>
<circle cx="415.71" cy="407.32" r="0.45" fill="#aaa" stroke="none" stroke-width="0.6"/>
<circle cx="424.29" cy="422.82" r="0.45" fill="#aaa" stroke="none" stroke-width="0.6"/>
<circle cx="408.52" cy="440.51" r="0.45" fill="#aaa" stroke="none" stroke-width="0.6"/>
<circle cx="413.50" cy="416.11" r="0.45" fill="#aaa" stroke="none" stroke-width="0.6"/>
<circle cx="411.36" cy="426.61" r="0.45" fill="#aaa" stroke="none" stroke-width="0.6"/>
<circle cx="420.31" cy="421.53" r="0.45" fill="#aaa" stroke="none" stroke-width="0.6"/>
<circle cx="403.17" cy="416.30" r="0.45" fill="#aaa" stroke="none" stroke-width="0.6"/>
<circle cx="403.65" cy="413.40" r="0.45" fill="#aaa" stroke="none" stroke-width="0.6"/>
<circle cx="411.79" cy="417.99" r="0.45" fill="#aaa" stroke="none" stroke-width="0.6"/>
<circle cx="412.55" cy="415.25" r="0.45" fill="#aaa" stroke="none" stroke-width="0.6"/>
<circle cx="403.15" cy="420.49" r="0.45" fill="#aaa" stroke="none" stroke-width="0.6"/>
<circle cx="408.44" cy="431.41" r="0.45" fill="#aaa" stroke="none" stroke-width="0.6"/>
<circle cx="402.77" cy="423.68" r="0.45" fill="#aaa" stroke="none" stroke-width="0.6"/>
<circle cx="411.58" cy="411.31" r="0.45" fill="#aaa" stroke="none" stroke-width="0.6"/>
<circle cx="419.43" cy="423.38" r="0.45" fill="#aaa" stroke="none" stroke-width="0.6"/>
<circle cx="390.57" cy="426.91" r="0.45" fill="#aaa" stroke="none" stroke-width="0.6"/>
<circle cx="421.57" cy="415.50" r="0.45" fill="#aaa" stroke="none" stroke-width="0.6"/>
<circle cx="429.29" cy="423.27" r="0.45" fill="#aaa" stroke="none" stroke-width="0.6"/>
<circle cx="400.23" cy="426.59" r="0.45" fill="#aaa" stroke="none" stroke-width="0.6"/>
<circle cx="408.33" cy="411.07" r="0.45" fill="#aaa" stroke="none" stroke-width="0.6"/>
<circle cx="390.11" cy="424.00" r="0.45" fill="#aaa" stroke="none" stroke-width="0.6"/>
<circle cx="404.50" cy="427.26" r="0.45" fill="#aaa" stroke="none" stroke-width="0.6"/>
<circle cx="415.95" cy="417.76" r="0.45" fill="#aaa" stroke="none" stroke-width="0.6"/>
<circle cx="406.58" cy="436.42" r="0.45" fill="#aaa" stroke="none" stroke-width="0.6"/>
<circle cx="429.41" cy="428.14" r="0.45" fill="#aaa" stroke="none" stroke-width="0.6"/>
<circle cx="408.37" cy="413.99" r="0.45" fill="#aaa" stroke="none" stroke-width="0.6"/>
<circle cx="408.05" cy="435.57" r="0.45" fill="#aaa" stroke="none" stroke-width="0.6"/>
<circle cx="416.70" cy="419.64" r="0.45" fill="#aaa" stroke="none" stroke-width="0.6"/>
<circle cx="399.49" cy="423.37" r="0.45" fill="#aaa" stroke="none" stroke-width="0.6"/>
<circle cx="403.04" cy="422.10" r="0.45" fill="#aaa" stroke="none" stroke-width="0.6"/>
<circle cx="419.56" cy="430.73" r="0.45" fill="#aaa" stroke="none" stroke-width="0.6"/>
<circle cx="413.43" cy="419.21" r="0.45" fill="#aaa" stroke="none" stroke-width="0.6"/>
<circle cx="414.32" cy="436.69" r="0.45" fill="#aaa" stroke="none" stroke-width="0.6"/>
<circle cx="415.83" cy="410.60" r="0.45" fill="#aaa" stroke="none" stroke-width="0.6"/>
<circle cx="427.81" cy="424.05" r="0.45" fill="#aaa" stroke="none" stroke-width="0.6"/>
<circle cx="411.05" cy="419.58" r="0.45" fill="#aaa" stroke="none" stroke-width="0.6"/>
<circle cx="415.85" cy="417.29" r="0.45" fill="#aaa" stroke="none" stroke-width="0.6"/>
<circle cx="396.97" cy="406.35" r="0.45" fill="#aaa" stroke="none" stroke-width="0.6"/>
<circle cx="410.74" cy="417.82" r="0.45" fill="#aaa" stroke="none" stroke-width="0.6"/>
<circle cx="406.10" cy="439.26" r="0.45" fill="#aaa" stroke="none" stroke-width="0.6"/>
<circle cx="420.09" cy="430.88" r="0.45" fill="#aaa" stroke="none" stroke-width="0.6"/>
<circle cx="406.92" cy="424.44" r="0.45" fill="#aaa" stroke="none" stroke-width="0.6"/>
<circle cx="409.86" cy="420.34" r="0.45" fill="#aaa" stroke="none" stroke-width="0.6"/>
<circle cx="419.59" cy="426.91" r="0.45" fill="#aaa" stroke="none" stroke-width="0.6"/>
<circle cx="415.10" cy="423.20" r="0.45" fill="#aaa" stroke="none" stroke-width="0.6"/>
<circle cx="397.34" cy="416.00" r="0.45" fill="#aaa" stroke="none" stroke-width="0.6"/>
<circle cx="415.88" cy="419.03" r="0.45" fill="#aaa" stroke="none" stroke-width="0.6"/>
<circle cx="404.10" cy="424.89" r="0.45" fill="#aaa" stroke="none" stroke-width="0.6"/>
<circle cx="402.63" cy="416.54" r="0.45" fill="#aaa" stroke="none" stroke-width="0.6"/>
<circle cx="420.97" cy="419.08" r="0.45" fill="#aaa" stroke="none" stroke-width="0.6"/>
<circle cx="426.52" cy="426.24" r="0.45" fill="#aaa" stroke="none" stroke-width="0.6"/>
<circle cx="420.22" cy="431.19" r="0.45" fill="#aaa" stroke="none" stroke-width="0.6"/>
<circle cx="390.05" cy="421.35" r="0.45" fill="#aaa" stroke="none" stroke-width="0.6"/>
<circle cx="398.89" cy="418.23" r="0.45" fill="#aaa" stroke="none" stroke-width="0.6"/>
<circle cx="410.95" cy="432.10" r="0.45" fill="#aaa" stroke="none" stroke-width="0.6"/>
<circle cx="411.56" cy="435.33" r="0.45" fill="#aaa" stroke="none" stroke-width="0.6"/>
<circle cx="406.67" cy="421.54" r="0.45" fill="#aaa" stroke="none" stroke-width="0.6"/>
<circle cx="412.94" cy="429.67" r="0.45" fill="#aaa" stroke="none" stroke-width="0.6"/>
<circle cx="411.48" cy="416.99" r="0.45" fill="#aaa" stroke="none" stroke-width="0.6"/>
<circle cx="408.67" cy="410.64" r="0.45" fill="#aaa" stroke="none" stroke-width="0.6"/>
<circle cx="424.77" cy="428.06" r="0.45" fill="#aaa" stroke="none" stroke-width="0.6"/>
<circle cx="416.34" cy="424.24" r="0.45" fill="#aaa" stroke="none" stroke-width="0.6"/>
<circle cx="405.87" cy="418.71" r="0.45" fill="#aaa" stroke="none" stroke-width="0.6"/>
<circle cx="420.19" cy="415.61" r="0.45" fill="#aaa" stroke="none" stroke-width="0.6"/>
<circle cx="404.07" cy="434.79" r="0.45" fill="#aaa" stroke="none" stroke-width="0.6"/>
<circle cx="427.79" cy="424.37" r="0.45" fill="#aaa" stroke="none" stroke-width="0.6"/>
<circle cx="417.40" cy="423.51" r="0.45" fill="#aaa" stroke="none" stroke-width="0.6"/>
<circle cx="426.44" cy="418.41" r="0.45" fill="#aaa" stroke="none" stroke-width="0.6"/>
<circle cx="412.84" cy="425.92" r="0.45" fill="#aaa" stroke="none" stroke-width="0.6"/>
<circle cx="426.57" cy="419.98" r="0.45" fill="#aaa" stroke="none" stroke-width="0.6"/>
<circle cx="414.35" cy="418.04" r="0.45" fill="#aaa" stroke="none" stroke-width="0.6"/>
<circle cx="405.38" cy="416.72" r="0.45" fill="#aaa" stroke="none" stroke-width="0.6"/>
<circle cx="412.85" cy="429.17" r="0.45" fill="#aaa" stroke="none" stroke-width="0.6"/>
<circle cx="405.01" cy="417.14" r="0.45" fill="#aaa" stroke="none" stroke-width="0.6"/>
<circle cx="407.92" cy="424.85" r="0.45" fill="#aaa" stroke="none" stroke-width="0.6"/>
<circle cx="419.05" cy="411.91" r="0.45" fill="#aaa" stroke="none" stroke-width="0.6"/>
<circle cx="415.58" cy="413.97" r="0.45" fill="#aaa" stroke="none" stroke-width="0.6"/>
<circle cx="419.19" cy="414.24" r="0.45" fill="#aaa" stroke="none" stroke-width="0.6"/>
<circle cx="401.10" cy="416.26" r="0.45" fill="#aaa" stroke="none" stroke-width="0.6"/>
<circle cx="411.38" cy="413.99" r="0.45" fill="#aaa" stroke="none" stroke-width="0.6"/>
<circle cx="414.13" cy="423.19" r="0.45" fill="#aaa" stroke="none" stroke-width="0.6"/>
<circle cx="412.84" cy="424.17" r="0.45" fill="#aaa" stroke="none" stroke-width="0.6"/>
<circle cx="426.50" cy="409.26" r="0.45" fill="#bbb" stroke="none" stroke-width="0.6"/>
<circle cx="420.12" cy="420.44" r="0.45" fill="#bbb" stroke="none" stroke-width="0.6"/>
<circle cx="431.37" cy="420.03" r="0.45" fill="#bbb" stroke="none" stroke-width="0.6"/>
<circle cx="415.70" cy="421.88" r="0.45" fill="#bbb" stroke="none" stroke-width="0.6"/>
<circle cx="418.01" cy="427.36" r="0.45" fill="#bbb" stroke="none" stroke-width="0.6"/>
<circle cx="422.72" cy="430.69" r="0.45" fill="#bbb" stroke="none" stroke-width="0.6"/>
<circle cx="423.35" cy="413.85" r="0.45" fill="#bbb" stroke="none" stroke-width="0.6"/>
<circle cx="416.65" cy="417.83" r="0.45" fill="#bbb" stroke="none" stroke-width="0.6"/>
<circle cx="426.23" cy="427.14" r="0.45" fill="#bbb" stroke="none" stroke-width="0.6"/>
<circle cx="425.33" cy="415.57" r="0.45" fill="#bbb" stroke="none" stroke-width="0.6"/>
<circle cx="426.50" cy="411.38" r="0.45" fill="#bbb" stroke="none" stroke-width="0.6"/>
<circle cx="426.52" cy="415.50" r="0.45" fill="#bbb" stroke="none" stroke-width="0.6"/>
<circle cx="431.48" cy="425.95" r="0.45" fill="#bbb" stroke="none" stroke-width="0.6"/>
<circle cx="425.83" cy="413.87" r="0.45" fill="#bbb" stroke="none" stroke-width="0.6"/>
<circle cx="426.75" cy="422.21" r="0.45" fill="#bbb" stroke="none" stroke-width="0.6"/>
<circle cx="421.26" cy="416.27" r="0.45" fill="#bbb" stroke="none" stroke-width="0.6"/>
<circle cx="430.36" cy="417.59" r="0.45" fill="#bbb" stroke="none" stroke-width="0.6"/>
<circle cx="426.22" cy="428.34" r="0.45" fill="#bbb" stroke="none" stroke-width="0.6"/>
<circle cx="416.57" cy="430.72" r="0.45" fill="#bbb" stroke="none" stroke-width="0.6"/>
<circle cx="429.07" cy="416.12" r="0.45" fill="#bbb" stroke="none" stroke-width="0.6"/>
<circle cx="419.24" cy="412.68" r="0.45" fill="#bbb" stroke="none" stroke-width="0.6"/>
<circle cx="428.68" cy="404.57" r="0.45" fill="#bbb" stroke="none" stroke-width="0.6"/>
<circle cx="428.66" cy="421.01" r="0.45" fill="#bbb" stroke="none" stroke-width="0.6"/>
<circle cx="420.58" cy="416.95" r="0.45" fill="#bbb" stroke="none" stroke-width="0.6"/>
<circle cx="422.16" cy="418.62" r="0.45" fill="#bbb" stroke="none" stroke-width="0.6"/>
<circle cx="428.45" cy="414.99" r="0.45" fill="#bbb" stroke="none" stroke-width="0.6"/>
<circle cx="429.47" cy="425.93" r="0.45" fill="#bbb" stroke="none" stroke-width="0.6"/>
<circle cx="422.74" cy="423.67" r="0.45" fill="#bbb" stroke="none" stroke-width="0.6"/>
<circle cx="421.29" cy="420.33" r="0.45" fill="#bbb" stroke="none" stroke-width="0.6"/>
<circle cx="426.50" cy="431.64" r="0.45" fill="#bbb" stroke="none" stroke-width="0.6"/>
<circle cx="423.75" cy="419.10" r="0.45" fill="#bbb" stroke="none" stroke-width="0.6"/>
<circle cx="424.16" cy="418.90" r="0.45" fill="#bbb" stroke="none" stroke-width="0.6"/>
<circle cx="418.61" cy="431.28" r="0.45" fill="#bbb" stroke="none" stroke-width="0.6"/>
<circle cx="420.89" cy="416.48" r="0.45" fill="#bbb" stroke="none" stroke-width="0.6"/>
<circle cx="420.44" cy="424.15" r="0.45" fill="#bbb" stroke="none" stroke-width="0.6"/>
<circle cx="428.95" cy="422.09" r="0.45" fill="#bbb" stroke="none" stroke-width="0.6"/>
<circle cx="423.88" cy="413.96" r="0.45" fill="#bbb" stroke="none" stroke-width="0.6"/>
<circle cx="427.72" cy="419.46" r="0.45" fill="#bbb" stroke="none" stroke-width="0.6"/>
<circle cx="434.47" cy="418.35" r="0.45" fill="#bbb" stroke="none" stroke-width="0.6"/>
<circle cx="418.96" cy="408.96" r="0.45" fill="#bbb" stroke="none" stroke-width="0.6"/>
<circle cx="415.08" cy="423.69" r="0.45" fill="#bbb" stroke="none" stroke-width="0.6"/>
<circle cx="425.72" cy="413.07" r="0.45" fill="#bbb" stroke="none" stroke-width="0.6"/>
<circle cx="416.31" cy="421.70" r="0.45" fill="#bbb" stroke="none" stroke-width="0.6"/>
<circle cx="422.22" cy="421.38" r="0.45" fill="#bbb" stroke="none" stroke-width="0.6"/>
<circle cx="423.91" cy="415.28" r="0.45" fill="#bbb" stroke="none" stroke-width="0.6"/>
<circle cx="415.27" cy="420.81" r="0.45" fill="#bbb" stroke="none" stroke-width="0.6"/>
<circle cx="424.49" cy="421.11" r="0.45" fill="#bbb" stroke="none" stroke-width="0.6"/>
<circle cx="428.76" cy="425.61" r="0.45" fill="#bbb" stroke="none" stroke-width="0.6"/>
<circle cx="421.53" cy="423.54" r="0.45" fill="#bbb" stroke="none" stroke-width="0.6"/>
<circle cx="413.07" cy="424.12" r="0.45" fill="#bbb" stroke="none" stroke-width="0.6"/>
<circle cx="423.85" cy="426.17" r="0.45" fill="#bbb" stroke="none" stroke-width="0.6"/>
<circle cx="429.00" cy="414.32" r="0.45" fill="#bbb" stroke="none" stroke-width="0.6"/>
<circle cx="423.36" cy="426.77" r="0.45" fill="#bbb" stroke="none" stroke-width="0.6"/>
<circle cx="421.26" cy="420.45" r="0.45" fill="#bbb" stroke="none" stroke-width="0.6"/>
<circle cx="420.93" cy="423.57" r="0.45" fill="#bbb" stroke="none" stroke-width="0.6"/>
<circle cx="425.49" cy="415.01" r="0.45" fill="#bbb" stroke="none" stroke-width="0.6"/>
<circle cx="416.83" cy="406.58" r="0.45" fill="#bbb" stroke="none" stroke-width="0.6"/>
<circle cx="428.30" cy="417.29" r="0.45" fill="#bbb" stroke="none" stroke-width="0.6"/>
<circle cx="420.50" cy="416.82" r="0.45" fill="#bbb" stroke="none" stroke-width="0.6"/>
<path d="M388.5,423 C389,417 395,411 402,409.5 C408,408 412,407.5 415,409 C419,411 421,415 421.5,419 C422,424 418,427 414,428 C411,430 409,436 406,440 C400,442.5 392,442 390,437 C388.5,432 388,428 388.5,423 Z" fill="#f0f0f0" stroke="#555" stroke-width="0.6" />
<path d="M390.5,431 C391.5,436.5 396,440 401,440 C405,439.5 407,434 407,429.5" fill="none" stroke="#666" stroke-width="0.6" />
<path d="M392.5,430 C394.5,435 399,437.5 403.5,436" fill="none" stroke="#777" stroke-width="0.5" />
<path d="M395,430.5 C397,433.5 400,434.5 402.5,433" fill="none" stroke="#888" stroke-width="0.5" />
<path d="M413.95,411.03 Q414.41,411.67 415.08,412.25 Q415.75,412.83 415.59,413.79 Q415.44,414.75 414.71,415.80 Q413.98,416.85 413.41,417.86 Q412.85,418.87 411.86,419.87 Q410.87,420.86 409.75,421.83 Q408.64,422.81 407.31,423.67 Q405.98,424.54 404.50,424.95 Q403.02,425.35 401.66,425.76 Q400.29,426.17 398.78,426.77 Q397.27,427.37 396.13,427.21 Q394.99,427.04 393.78,426.97 Q392.58,426.91 392.17,426.17 Q391.76,425.43 390.98,424.98 Q390.21,424.54 389.81,423.82 Q389.41,423.10 389.83,422.09 Q390.24,421.08 390.22,420.15 Q390.20,419.23 390.97,418.16 Q391.73,417.09 393.11,416.18 Q394.49,415.26 395.61,414.37 Q396.74,413.49 397.92,412.55 Q399.11,411.62 400.52,410.81 Q401.93,410.00 403.36,409.76 Q404.79,409.52 406.11,409.36 Q407.42,409.19 408.71,409.08 Q410.00,408.97 410.86,409.35 Q411.72,409.73 412.60,410.06 Q413.48,410.40 413.95,411.03 Z" fill="#e2e2e2" stroke="#666" stroke-width="0.6" stroke-linejoin="round" fill-opacity="1.0"/>
<path d="M413.09,411.59 Q413.76,412.01 413.95,412.71 Q414.14,413.42 413.55,414.36 Q412.96,415.30 412.62,416.11 Q412.28,416.93 412.02,417.79 Q411.76,418.66 410.84,419.54 Q409.93,420.42 408.85,421.23 Q407.78,422.04 406.54,422.66 Q405.31,423.28 404.10,423.94 Q402.90,424.59 401.64,425.01 Q400.38,425.42 399.19,425.63 Q397.99,425.85 397.04,425.71 Q396.09,425.57 395.09,425.51 Q394.10,425.45 393.42,425.08 Q392.74,424.71 392.11,424.28 Q391.49,423.86 391.15,423.23 Q390.81,422.60 390.93,421.78 Q391.06,420.95 391.65,420.04 Q392.25,419.12 392.92,418.24 Q393.59,417.36 394.50,416.53 Q395.41,415.69 396.48,414.95 Q397.55,414.21 398.66,413.54 Q399.77,412.87 400.94,412.18 Q402.11,411.50 403.33,411.15 Q404.56,410.80 405.74,410.55 Q406.92,410.31 408.16,410.08 Q409.40,409.86 410.19,410.17 Q410.98,410.48 411.70,410.83 Q412.42,411.18 413.09,411.59 Z" fill="#d4d4d4" stroke="#444" stroke-width="0.7" stroke-linejoin="round" fill-opacity="1.0"/>
<path d="M411.17,412.75 Q411.44,413.25 411.73,413.74 Q412.03,414.23 411.86,414.91 Q411.69,415.59 411.48,416.28 Q411.26,416.98 410.73,417.73 Q410.19,418.48 409.28,419.17 Q408.37,419.85 407.52,420.50 Q406.66,421.14 405.82,421.90 Q404.98,422.65 403.88,423.00 Q402.78,423.34 401.75,423.68 Q400.72,424.01 399.59,424.45 Q398.46,424.89 397.64,424.75 Q396.83,424.61 395.93,424.59 Q395.02,424.57 394.56,424.16 Q394.10,423.75 393.64,423.35 Q393.19,422.95 393.27,422.29 Q393.35,421.63 393.20,421.05 Q393.06,420.48 393.29,419.76 Q393.51,419.05 394.20,418.28 Q394.89,417.52 395.55,416.77 Q396.21,416.01 397.13,415.33 Q398.05,414.64 399.13,414.17 Q400.21,413.69 401.21,413.04 Q402.20,412.38 403.27,412.08 Q404.34,411.77 405.31,411.67 Q406.28,411.57 407.10,411.63 Q407.92,411.69 408.96,411.55 Q410.00,411.42 410.45,411.83 Q410.90,412.25 411.17,412.75 Z" fill="#bbb" stroke="#333" stroke-width="0.8" stroke-linejoin="round" fill-opacity="1.0"/>
<path d="M409.74,413.62 Q409.89,414.07 409.96,414.53 Q410.02,414.99 410.06,415.47 Q410.10,415.95 409.74,416.54 Q409.39,417.13 408.93,417.72 Q408.47,418.30 407.97,418.90 Q407.48,419.49 406.85,420.12 Q406.22,420.74 405.35,421.23 Q404.48,421.73 403.59,422.14 Q402.69,422.55 401.84,422.71 Q400.98,422.87 400.12,423.12 Q399.26,423.37 398.56,423.33 Q397.87,423.29 397.28,423.17 Q396.69,423.04 396.25,422.80 Q395.80,422.56 395.46,422.24 Q395.12,421.92 394.73,421.59 Q394.33,421.26 394.45,420.70 Q394.57,420.13 394.86,419.53 Q395.14,418.93 395.61,418.30 Q396.07,417.68 396.85,417.11 Q397.63,416.54 398.31,415.98 Q399.00,415.42 399.78,414.88 Q400.55,414.33 401.43,413.90 Q402.31,413.47 403.21,413.14 Q404.12,412.81 404.98,412.63 Q405.85,412.45 406.45,412.63 Q407.04,412.81 407.81,412.77 Q408.57,412.74 409.08,412.96 Q409.59,413.18 409.74,413.62 Z" fill="#999" stroke="#222" stroke-width="0.8" stroke-linejoin="round" fill-opacity="1.0"/>
<path d="M408.40,414.44 Q408.58,414.77 408.71,415.11 Q408.84,415.46 408.79,415.88 Q408.74,416.30 408.56,416.77 Q408.38,417.23 407.96,417.73 Q407.54,418.22 407.08,418.72 Q406.63,419.21 405.90,419.58 Q405.17,419.95 404.58,420.38 Q404.00,420.82 403.32,421.22 Q402.63,421.62 401.93,421.80 Q401.23,421.99 400.53,422.18 Q399.83,422.37 399.36,422.23 Q398.89,422.09 398.32,422.09 Q397.76,422.09 397.44,421.87 Q397.12,421.65 396.80,421.43 Q396.47,421.21 396.37,420.85 Q396.27,420.50 396.50,420.04 Q396.73,419.57 396.88,419.14 Q397.03,418.71 397.36,418.25 Q397.69,417.79 398.03,417.29 Q398.38,416.79 399.00,416.35 Q399.62,415.90 400.34,415.59 Q401.05,415.27 401.71,414.85 Q402.37,414.43 403.04,414.32 Q403.71,414.21 404.40,413.98 Q405.10,413.75 405.61,413.83 Q406.12,413.90 406.57,414.00 Q407.02,414.10 407.62,414.11 Q408.22,414.12 408.40,414.44 Z" fill="#777" stroke="#111" stroke-width="0.9" stroke-linejoin="round" fill-opacity="1.0"/>
<path d="M406.79,415.43 Q407.04,415.58 407.12,415.84 Q407.19,416.10 407.07,416.44 Q406.94,416.77 406.73,417.11 Q406.53,417.44 406.22,417.78 Q405.92,418.12 405.68,418.47 Q405.44,418.82 404.98,419.14 Q404.53,419.45 404.07,419.77 Q403.61,420.08 403.09,420.28 Q402.57,420.47 402.05,420.70 Q401.53,420.93 401.08,420.95 Q400.64,420.98 400.14,421.09 Q399.64,421.20 399.27,421.13 Q398.91,421.06 398.69,420.89 Q398.47,420.72 398.27,420.54 Q398.07,420.36 397.97,420.11 Q397.87,419.87 398.03,419.53 Q398.19,419.20 398.27,418.88 Q398.35,418.57 398.57,418.22 Q398.79,417.87 399.24,417.54 Q399.68,417.21 400.04,416.85 Q400.40,416.50 400.90,416.21 Q401.40,415.93 401.91,415.67 Q402.43,415.41 402.93,415.31 Q403.43,415.20 403.88,415.14 Q404.33,415.07 404.85,414.94 Q405.36,414.81 405.74,414.86 Q406.12,414.91 406.33,415.09 Q406.54,415.27 406.79,415.43 Z" fill="#aaa" stroke="#111" stroke-width="0.9" stroke-linejoin="round" fill-opacity="1.0"/>
<path d="M405.24,416.37 Q405.28,416.52 405.28,416.68 Q405.29,416.83 405.32,416.98 Q405.35,417.13 405.17,417.35 Q404.98,417.56 404.86,417.76 Q404.75,417.96 404.50,418.17 Q404.25,418.38 403.96,418.56 Q403.67,418.75 403.39,418.95 Q403.11,419.15 402.79,419.27 Q402.47,419.39 402.15,419.53 Q401.83,419.67 401.55,419.71 Q401.27,419.76 401.01,419.78 Q400.75,419.81 400.49,419.83 Q400.24,419.84 400.02,419.81 Q399.80,419.78 399.79,419.61 Q399.78,419.45 399.74,419.31 Q399.69,419.18 399.67,419.02 Q399.65,418.87 399.72,418.67 Q399.79,418.48 400.02,418.26 Q400.24,418.04 400.49,417.83 Q400.74,417.62 400.98,417.40 Q401.22,417.18 401.57,417.04 Q401.92,416.90 402.23,416.70 Q402.53,416.49 402.85,416.42 Q403.16,416.35 403.45,416.29 Q403.74,416.23 404.00,416.21 Q404.26,416.18 404.50,416.18 Q404.74,416.18 404.97,416.20 Q405.20,416.23 405.24,416.37 Z" fill="#f4f4f4" stroke="#222" stroke-width="0.7" stroke-linejoin="round" fill-opacity="1.0"/>
<path d="M413.5,410.5 C418,411.5 419.5,418 416.5,423.5 C414.5,426 412,423.5 412.8,419 C413.3,416 412.8,413 413.5,410.5 Z" fill="#fff" stroke="#555" stroke-width="0.6" />
<circle cx="478.19" cy="429.60" r="0.45" fill="#aaa" stroke="none" stroke-width="0.6"/>
<circle cx="478.51" cy="422.16" r="0.45" fill="#aaa" stroke="none" stroke-width="0.6"/>
<circle cx="470.77" cy="423.08" r="0.45" fill="#aaa" stroke="none" stroke-width="0.6"/>
<circle cx="493.23" cy="428.82" r="0.45" fill="#aaa" stroke="none" stroke-width="0.6"/>
<circle cx="492.41" cy="427.24" r="0.45" fill="#aaa" stroke="none" stroke-width="0.6"/>
<circle cx="485.34" cy="426.67" r="0.45" fill="#aaa" stroke="none" stroke-width="0.6"/>
<circle cx="462.67" cy="432.70" r="0.45" fill="#aaa" stroke="none" stroke-width="0.6"/>
<circle cx="486.57" cy="429.49" r="0.45" fill="#aaa" stroke="none" stroke-width="0.6"/>
<circle cx="462.39" cy="409.31" r="0.45" fill="#aaa" stroke="none" stroke-width="0.6"/>
<circle cx="471.21" cy="420.79" r="0.45" fill="#aaa" stroke="none" stroke-width="0.6"/>
<circle cx="484.36" cy="424.59" r="0.45" fill="#aaa" stroke="none" stroke-width="0.6"/>
<circle cx="486.73" cy="419.22" r="0.45" fill="#aaa" stroke="none" stroke-width="0.6"/>
<circle cx="484.40" cy="428.55" r="0.45" fill="#aaa" stroke="none" stroke-width="0.6"/>
<circle cx="473.73" cy="440.46" r="0.45" fill="#aaa" stroke="none" stroke-width="0.6"/>
<circle cx="487.12" cy="435.77" r="0.45" fill="#aaa" stroke="none" stroke-width="0.6"/>
<circle cx="474.18" cy="418.34" r="0.45" fill="#aaa" stroke="none" stroke-width="0.6"/>
<circle cx="477.22" cy="424.04" r="0.45" fill="#aaa" stroke="none" stroke-width="0.6"/>
<circle cx="487.95" cy="427.24" r="0.45" fill="#aaa" stroke="none" stroke-width="0.6"/>
<circle cx="476.08" cy="416.39" r="0.45" fill="#aaa" stroke="none" stroke-width="0.6"/>
<circle cx="475.27" cy="435.99" r="0.45" fill="#aaa" stroke="none" stroke-width="0.6"/>
<circle cx="472.11" cy="427.20" r="0.45" fill="#aaa" stroke="none" stroke-width="0.6"/>
<circle cx="485.69" cy="411.59" r="0.45" fill="#aaa" stroke="none" stroke-width="0.6"/>
<circle cx="481.53" cy="436.76" r="0.45" fill="#aaa" stroke="none" stroke-width="0.6"/>
<circle cx="458.84" cy="422.11" r="0.45" fill="#aaa" stroke="none" stroke-width="0.6"/>
<circle cx="479.83" cy="417.64" r="0.45" fill="#aaa" stroke="none" stroke-width="0.6"/>
<circle cx="486.47" cy="424.44" r="0.45" fill="#aaa" stroke="none" stroke-width="0.6"/>
<circle cx="464.89" cy="432.45" r="0.45" fill="#aaa" stroke="none" stroke-width="0.6"/>
<circle cx="488.36" cy="433.51" r="0.45" fill="#aaa" stroke="none" stroke-width="0.6"/>
<circle cx="496.85" cy="428.26" r="0.45" fill="#aaa" stroke="none" stroke-width="0.6"/>
<circle cx="482.31" cy="413.31" r="0.45" fill="#aaa" stroke="none" stroke-width="0.6"/>
<circle cx="487.77" cy="419.49" r="0.45" fill="#aaa" stroke="none" stroke-width="0.6"/>
<circle cx="476.02" cy="413.62" r="0.45" fill="#aaa" stroke="none" stroke-width="0.6"/>
<circle cx="470.36" cy="420.22" r="0.45" fill="#aaa" stroke="none" stroke-width="0.6"/>
<circle cx="495.18" cy="406.71" r="0.45" fill="#aaa" stroke="none" stroke-width="0.6"/>
<circle cx="464.97" cy="427.15" r="0.45" fill="#aaa" stroke="none" stroke-width="0.6"/>
<circle cx="496.88" cy="430.21" r="0.45" fill="#aaa" stroke="none" stroke-width="0.6"/>
<circle cx="460.10" cy="402.34" r="0.45" fill="#aaa" stroke="none" stroke-width="0.6"/>
<circle cx="484.93" cy="418.37" r="0.45" fill="#aaa" stroke="none" stroke-width="0.6"/>
<circle cx="468.68" cy="433.80" r="0.45" fill="#aaa" stroke="none" stroke-width="0.6"/>
<circle cx="493.12" cy="426.42" r="0.45" fill="#aaa" stroke="none" stroke-width="0.6"/>
<circle cx="483.70" cy="428.91" r="0.45" fill="#aaa" stroke="none" stroke-width="0.6"/>
<circle cx="498.53" cy="430.57" r="0.45" fill="#aaa" stroke="none" stroke-width="0.6"/>
<circle cx="486.71" cy="429.93" r="0.45" fill="#aaa" stroke="none" stroke-width="0.6"/>
<circle cx="463.75" cy="436.54" r="0.45" fill="#aaa" stroke="none" stroke-width="0.6"/>
<circle cx="491.51" cy="429.77" r="0.45" fill="#aaa" stroke="none" stroke-width="0.6"/>
<circle cx="459.29" cy="419.30" r="0.45" fill="#aaa" stroke="none" stroke-width="0.6"/>
<circle cx="490.27" cy="408.70" r="0.45" fill="#aaa" stroke="none" stroke-width="0.6"/>
<circle cx="478.98" cy="434.18" r="0.45" fill="#aaa" stroke="none" stroke-width="0.6"/>
<circle cx="466.58" cy="439.49" r="0.45" fill="#aaa" stroke="none" stroke-width="0.6"/>
<circle cx="487.07" cy="423.65" r="0.45" fill="#aaa" stroke="none" stroke-width="0.6"/>
<circle cx="484.57" cy="430.85" r="0.45" fill="#aaa" stroke="none" stroke-width="0.6"/>
<circle cx="482.32" cy="435.31" r="0.45" fill="#aaa" stroke="none" stroke-width="0.6"/>
<circle cx="473.72" cy="421.27" r="0.45" fill="#aaa" stroke="none" stroke-width="0.6"/>
<circle cx="492.46" cy="425.24" r="0.45" fill="#aaa" stroke="none" stroke-width="0.6"/>
<circle cx="471.31" cy="433.52" r="0.45" fill="#aaa" stroke="none" stroke-width="0.6"/>
<circle cx="497.12" cy="421.00" r="0.45" fill="#aaa" stroke="none" stroke-width="0.6"/>
<circle cx="465.82" cy="423.79" r="0.45" fill="#aaa" stroke="none" stroke-width="0.6"/>
<circle cx="479.36" cy="422.32" r="0.45" fill="#aaa" stroke="none" stroke-width="0.6"/>
<circle cx="496.45" cy="415.76" r="0.45" fill="#aaa" stroke="none" stroke-width="0.6"/>
<circle cx="494.87" cy="413.59" r="0.45" fill="#aaa" stroke="none" stroke-width="0.6"/>
<circle cx="472.34" cy="430.68" r="0.45" fill="#aaa" stroke="none" stroke-width="0.6"/>
<circle cx="493.42" cy="432.73" r="0.45" fill="#aaa" stroke="none" stroke-width="0.6"/>
<circle cx="484.80" cy="426.28" r="0.45" fill="#aaa" stroke="none" stroke-width="0.6"/>
<circle cx="482.68" cy="430.18" r="0.45" fill="#aaa" stroke="none" stroke-width="0.6"/>
<circle cx="479.06" cy="427.50" r="0.45" fill="#aaa" stroke="none" stroke-width="0.6"/>
<circle cx="487.30" cy="425.01" r="0.45" fill="#aaa" stroke="none" stroke-width="0.6"/>
<circle cx="489.40" cy="430.09" r="0.45" fill="#aaa" stroke="none" stroke-width="0.6"/>
<circle cx="503.12" cy="427.92" r="0.45" fill="#aaa" stroke="none" stroke-width="0.6"/>
<circle cx="476.30" cy="421.65" r="0.45" fill="#aaa" stroke="none" stroke-width="0.6"/>
<circle cx="480.86" cy="433.31" r="0.45" fill="#aaa" stroke="none" stroke-width="0.6"/>
<circle cx="477.30" cy="428.47" r="0.45" fill="#aaa" stroke="none" stroke-width="0.6"/>
<circle cx="501.21" cy="401.92" r="0.45" fill="#aaa" stroke="none" stroke-width="0.6"/>
<circle cx="468.64" cy="427.20" r="0.45" fill="#aaa" stroke="none" stroke-width="0.6"/>
<circle cx="485.38" cy="427.15" r="0.45" fill="#aaa" stroke="none" stroke-width="0.6"/>
<circle cx="476.26" cy="430.90" r="0.45" fill="#aaa" stroke="none" stroke-width="0.6"/>
<circle cx="484.10" cy="420.30" r="0.45" fill="#aaa" stroke="none" stroke-width="0.6"/>
<circle cx="507.73" cy="428.20" r="0.45" fill="#aaa" stroke="none" stroke-width="0.6"/>
<circle cx="474.90" cy="424.10" r="0.45" fill="#aaa" stroke="none" stroke-width="0.6"/>
<circle cx="478.52" cy="424.44" r="0.45" fill="#aaa" stroke="none" stroke-width="0.6"/>
<circle cx="492.09" cy="414.48" r="0.45" fill="#aaa" stroke="none" stroke-width="0.6"/>
<circle cx="480.27" cy="433.58" r="0.45" fill="#aaa" stroke="none" stroke-width="0.6"/>
<circle cx="490.42" cy="438.42" r="0.45" fill="#aaa" stroke="none" stroke-width="0.6"/>
<circle cx="462.28" cy="421.82" r="0.45" fill="#aaa" stroke="none" stroke-width="0.6"/>
<circle cx="477.25" cy="430.61" r="0.45" fill="#aaa" stroke="none" stroke-width="0.6"/>
<circle cx="493.01" cy="400.85" r="0.45" fill="#aaa" stroke="none" stroke-width="0.6"/>
<circle cx="492.98" cy="411.97" r="0.45" fill="#aaa" stroke="none" stroke-width="0.6"/>
<circle cx="488.51" cy="411.57" r="0.45" fill="#aaa" stroke="none" stroke-width="0.6"/>
<circle cx="482.93" cy="435.75" r="0.45" fill="#aaa" stroke="none" stroke-width="0.6"/>
<circle cx="479.36" cy="426.72" r="0.45" fill="#aaa" stroke="none" stroke-width="0.6"/>
<circle cx="489.77" cy="426.27" r="0.45" fill="#aaa" stroke="none" stroke-width="0.6"/>
<circle cx="480.03" cy="438.80" r="0.45" fill="#aaa" stroke="none" stroke-width="0.6"/>
<circle cx="492.53" cy="422.36" r="0.45" fill="#aaa" stroke="none" stroke-width="0.6"/>
<circle cx="491.06" cy="422.61" r="0.45" fill="#aaa" stroke="none" stroke-width="0.6"/>
<circle cx="482.46" cy="431.35" r="0.45" fill="#aaa" stroke="none" stroke-width="0.6"/>
<circle cx="483.44" cy="430.75" r="0.45" fill="#aaa" stroke="none" stroke-width="0.6"/>
<circle cx="464.20" cy="411.41" r="0.45" fill="#aaa" stroke="none" stroke-width="0.6"/>
<circle cx="487.76" cy="416.33" r="0.45" fill="#aaa" stroke="none" stroke-width="0.6"/>
<circle cx="469.71" cy="411.77" r="0.45" fill="#aaa" stroke="none" stroke-width="0.6"/>
<circle cx="494.93" cy="431.72" r="0.45" fill="#aaa" stroke="none" stroke-width="0.6"/>
<circle cx="497.20" cy="416.56" r="0.45" fill="#aaa" stroke="none" stroke-width="0.6"/>
<circle cx="481.01" cy="414.74" r="0.45" fill="#aaa" stroke="none" stroke-width="0.6"/>
<circle cx="489.43" cy="439.30" r="0.45" fill="#aaa" stroke="none" stroke-width="0.6"/>
<circle cx="471.21" cy="439.04" r="0.45" fill="#aaa" stroke="none" stroke-width="0.6"/>
<circle cx="491.87" cy="423.40" r="0.45" fill="#aaa" stroke="none" stroke-width="0.6"/>
<circle cx="459.31" cy="437.66" r="0.45" fill="#aaa" stroke="none" stroke-width="0.6"/>
<circle cx="479.94" cy="419.57" r="0.45" fill="#aaa" stroke="none" stroke-width="0.6"/>
<circle cx="485.40" cy="428.69" r="0.45" fill="#aaa" stroke="none" stroke-width="0.6"/>
<circle cx="497.48" cy="415.82" r="0.45" fill="#aaa" stroke="none" stroke-width="0.6"/>
<circle cx="493.50" cy="438.39" r="0.45" fill="#aaa" stroke="none" stroke-width="0.6"/>
<circle cx="496.97" cy="423.37" r="0.45" fill="#aaa" stroke="none" stroke-width="0.6"/>
<circle cx="472.82" cy="434.17" r="0.45" fill="#aaa" stroke="none" stroke-width="0.6"/>
<circle cx="482.27" cy="426.12" r="0.45" fill="#aaa" stroke="none" stroke-width="0.6"/>
<circle cx="496.67" cy="422.63" r="0.45" fill="#aaa" stroke="none" stroke-width="0.6"/>
<circle cx="455.74" cy="421.52" r="0.45" fill="#aaa" stroke="none" stroke-width="0.6"/>
<circle cx="460.61" cy="432.37" r="0.45" fill="#aaa" stroke="none" stroke-width="0.6"/>
<circle cx="484.49" cy="419.50" r="0.45" fill="#aaa" stroke="none" stroke-width="0.6"/>
<circle cx="480.89" cy="432.49" r="0.45" fill="#aaa" stroke="none" stroke-width="0.6"/>
<circle cx="481.87" cy="436.94" r="0.45" fill="#aaa" stroke="none" stroke-width="0.6"/>
<circle cx="480.33" cy="434.36" r="0.45" fill="#aaa" stroke="none" stroke-width="0.6"/>
<circle cx="497.41" cy="439.49" r="0.45" fill="#aaa" stroke="none" stroke-width="0.6"/>
<circle cx="473.61" cy="432.92" r="0.45" fill="#aaa" stroke="none" stroke-width="0.6"/>
<circle cx="460.36" cy="415.25" r="0.45" fill="#aaa" stroke="none" stroke-width="0.6"/>
<circle cx="459.41" cy="434.62" r="0.45" fill="#aaa" stroke="none" stroke-width="0.6"/>
<circle cx="467.45" cy="424.89" r="0.45" fill="#aaa" stroke="none" stroke-width="0.6"/>
<circle cx="478.89" cy="424.74" r="0.45" fill="#aaa" stroke="none" stroke-width="0.6"/>
<circle cx="474.49" cy="427.10" r="0.45" fill="#aaa" stroke="none" stroke-width="0.6"/>
<circle cx="500.70" cy="425.40" r="0.45" fill="#aaa" stroke="none" stroke-width="0.6"/>
<circle cx="486.84" cy="434.00" r="0.45" fill="#aaa" stroke="none" stroke-width="0.6"/>
<circle cx="478.82" cy="413.66" r="0.45" fill="#aaa" stroke="none" stroke-width="0.6"/>
<circle cx="474.89" cy="434.66" r="0.45" fill="#aaa" stroke="none" stroke-width="0.6"/>
<circle cx="462.89" cy="419.62" r="0.45" fill="#aaa" stroke="none" stroke-width="0.6"/>
<circle cx="492.08" cy="432.13" r="0.45" fill="#aaa" stroke="none" stroke-width="0.6"/>
<circle cx="481.08" cy="432.25" r="0.45" fill="#aaa" stroke="none" stroke-width="0.6"/>
<circle cx="482.83" cy="414.39" r="0.45" fill="#aaa" stroke="none" stroke-width="0.6"/>
<circle cx="463.80" cy="419.25" r="0.45" fill="#aaa" stroke="none" stroke-width="0.6"/>
<circle cx="491.15" cy="419.91" r="0.45" fill="#aaa" stroke="none" stroke-width="0.6"/>
<circle cx="471.07" cy="418.06" r="0.45" fill="#aaa" stroke="none" stroke-width="0.6"/>
<circle cx="464.15" cy="423.94" r="0.45" fill="#aaa" stroke="none" stroke-width="0.6"/>
<circle cx="468.02" cy="428.28" r="0.45" fill="#aaa" stroke="none" stroke-width="0.6"/>
<circle cx="455.04" cy="427.95" r="0.45" fill="#aaa" stroke="none" stroke-width="0.6"/>
<circle cx="473.94" cy="407.52" r="0.45" fill="#aaa" stroke="none" stroke-width="0.6"/>
<circle cx="488.97" cy="422.52" r="0.45" fill="#aaa" stroke="none" stroke-width="0.6"/>
<circle cx="456.47" cy="417.12" r="0.45" fill="#aaa" stroke="none" stroke-width="0.6"/>
<circle cx="484.20" cy="420.87" r="0.45" fill="#aaa" stroke="none" stroke-width="0.6"/>
<circle cx="489.58" cy="431.73" r="0.45" fill="#aaa" stroke="none" stroke-width="0.6"/>
<circle cx="488.33" cy="427.94" r="0.45" fill="#aaa" stroke="none" stroke-width="0.6"/>
<circle cx="495.67" cy="430.94" r="0.45" fill="#aaa" stroke="none" stroke-width="0.6"/>
<circle cx="485.96" cy="406.24" r="0.45" fill="#aaa" stroke="none" stroke-width="0.6"/>
<circle cx="490.86" cy="436.78" r="0.45" fill="#aaa" stroke="none" stroke-width="0.6"/>
<circle cx="477.73" cy="420.77" r="0.45" fill="#aaa" stroke="none" stroke-width="0.6"/>
<circle cx="502.34" cy="409.18" r="0.45" fill="#aaa" stroke="none" stroke-width="0.6"/>
<circle cx="486.16" cy="446.81" r="0.45" fill="#aaa" stroke="none" stroke-width="0.6"/>
<circle cx="470.80" cy="431.21" r="0.45" fill="#aaa" stroke="none" stroke-width="0.6"/>
<circle cx="501.75" cy="423.92" r="0.45" fill="#aaa" stroke="none" stroke-width="0.6"/>
<circle cx="487.17" cy="433.12" r="0.45" fill="#aaa" stroke="none" stroke-width="0.6"/>
<circle cx="471.04" cy="424.20" r="0.45" fill="#aaa" stroke="none" stroke-width="0.6"/>
<circle cx="484.22" cy="432.43" r="0.45" fill="#aaa" stroke="none" stroke-width="0.6"/>
<circle cx="480.62" cy="423.24" r="0.45" fill="#aaa" stroke="none" stroke-width="0.6"/>
<path d="M465,428 C465,421 469,415 475,412.5 C480,410.5 488,411 492,414 C496,418 497,424 495,430 C494,436 488,440 482,440.5 C476,441 470,440 467,436 C465.5,433 465,430 465,428 Z" fill="#e6e6e6" stroke="#555" stroke-width="0.6" />
<path d="M493.35,423.43 Q493.91,424.50 493.64,425.63 Q493.37,426.75 493.01,427.86 Q492.64,428.97 491.65,429.80 Q490.65,430.64 489.97,431.70 Q489.28,432.77 488.03,433.41 Q486.77,434.05 485.34,434.34 Q483.90,434.63 482.45,434.46 Q481.00,434.28 479.57,434.38 Q478.14,434.47 476.85,433.98 Q475.56,433.50 474.41,432.87 Q473.26,432.24 471.85,431.72 Q470.45,431.21 469.61,430.20 Q468.78,429.19 468.99,427.92 Q469.20,426.65 468.42,425.57 Q467.65,424.50 468.01,423.35 Q468.37,422.20 469.00,421.17 Q469.63,420.14 470.44,419.22 Q471.25,418.31 472.05,417.33 Q472.85,416.36 474.16,415.86 Q475.48,415.36 476.78,414.85 Q478.09,414.33 479.54,414.22 Q481.00,414.10 482.36,414.55 Q483.72,414.99 485.23,415.00 Q486.73,415.01 488.09,415.54 Q489.44,416.06 490.51,416.92 Q491.57,417.78 492.13,418.90 Q492.69,420.01 492.74,421.18 Q492.80,422.35 493.35,423.43 Z" fill="#e4e4e4" stroke="#555" stroke-width="0.6" stroke-linejoin="round" fill-opacity="1.0"/>
<path d="M491.61,423.56 Q491.74,424.50 491.67,425.45 Q491.60,426.40 491.42,427.39 Q491.23,428.38 490.32,429.08 Q489.41,429.78 488.57,430.46 Q487.74,431.15 486.74,431.70 Q485.74,432.24 484.52,432.36 Q483.31,432.47 482.16,432.74 Q481.00,433.01 479.78,432.96 Q478.56,432.92 477.35,432.67 Q476.15,432.43 475.37,431.62 Q474.59,430.82 473.67,430.25 Q472.76,429.67 472.25,428.84 Q471.75,428.01 470.91,427.23 Q470.08,426.46 470.01,425.48 Q469.95,424.50 470.50,423.61 Q471.05,422.71 470.88,421.66 Q470.71,420.60 471.40,419.75 Q472.09,418.90 473.11,418.32 Q474.14,417.73 475.20,417.23 Q476.25,416.74 477.47,416.64 Q478.70,416.55 479.85,416.52 Q481.00,416.49 482.21,416.34 Q483.41,416.18 484.42,416.72 Q485.44,417.25 486.46,417.67 Q487.48,418.10 488.33,418.73 Q489.18,419.36 489.68,420.19 Q490.18,421.02 490.83,421.82 Q491.48,422.62 491.61,423.56 Z" fill="#d0d0d0" stroke="#444" stroke-width="0.7" stroke-linejoin="round" fill-opacity="1.0"/>
<path d="M489.66,423.76 Q489.97,424.50 489.96,425.29 Q489.94,426.09 489.61,426.84 Q489.27,427.60 488.50,428.14 Q487.73,428.68 487.01,429.16 Q486.28,429.65 485.56,430.18 Q484.85,430.71 483.90,430.93 Q482.95,431.14 481.97,431.45 Q481.00,431.76 479.98,431.62 Q478.95,431.48 478.00,431.18 Q477.05,430.88 476.20,430.45 Q475.35,430.01 474.59,429.48 Q473.83,428.95 473.53,428.18 Q473.24,427.41 472.76,426.73 Q472.29,426.05 472.33,425.27 Q472.36,424.50 472.08,423.68 Q471.80,422.87 472.56,422.25 Q473.32,421.62 473.51,420.80 Q473.69,419.97 474.68,419.64 Q475.68,419.31 476.34,418.68 Q477.01,418.05 478.02,417.93 Q479.04,417.81 480.02,417.69 Q481.00,417.58 482.04,417.49 Q483.08,417.40 483.88,417.98 Q484.68,418.56 485.50,418.94 Q486.32,419.32 487.35,419.62 Q488.39,419.92 488.75,420.69 Q489.12,421.46 489.23,422.24 Q489.34,423.02 489.66,423.76 Z" fill="#c0c0c0" stroke="#333" stroke-width="0.8" stroke-linejoin="round" fill-opacity="1.0"/>
<path d="M482.32,421.89 Q482.76,422.50 482.58,423.16 Q482.40,423.82 482.19,424.47 Q481.98,425.11 481.63,425.72 Q481.29,426.32 480.57,426.60 Q479.86,426.88 479.34,427.35 Q478.83,427.82 478.17,428.15 Q477.50,428.48 476.75,428.54 Q476.00,428.60 475.28,428.41 Q474.56,428.21 473.96,427.85 Q473.35,427.48 472.71,427.23 Q472.06,426.98 471.35,426.67 Q470.65,426.37 470.60,425.62 Q470.55,424.88 470.24,424.32 Q469.92,423.76 469.56,423.13 Q469.20,422.50 469.50,421.86 Q469.80,421.22 470.14,420.65 Q470.47,420.09 470.80,419.53 Q471.12,418.98 471.45,418.34 Q471.78,417.71 472.53,417.55 Q473.29,417.39 473.94,417.15 Q474.59,416.90 475.30,416.75 Q476.00,416.60 476.74,416.60 Q477.49,416.60 478.13,416.94 Q478.77,417.28 479.27,417.76 Q479.76,418.23 480.41,418.54 Q481.06,418.85 481.22,419.50 Q481.39,420.15 481.64,420.71 Q481.89,421.28 482.32,421.89 Z" fill="#999" stroke="#222" stroke-width="0.9" stroke-linejoin="round" fill-opacity="1.0"/>
<path d="M480.58,422.04 Q480.57,422.50 480.69,422.98 Q480.80,423.46 480.61,423.91 Q480.41,424.36 480.07,424.73 Q479.74,425.11 479.31,425.38 Q478.87,425.65 478.52,426.05 Q478.17,426.44 477.64,426.61 Q477.11,426.77 476.56,426.74 Q476.00,426.71 475.47,426.65 Q474.93,426.60 474.46,426.37 Q473.99,426.14 473.60,425.85 Q473.22,425.56 472.77,425.31 Q472.31,425.07 471.97,424.71 Q471.62,424.34 471.61,423.86 Q471.60,423.38 471.30,422.94 Q471.00,422.50 471.25,422.05 Q471.50,421.60 471.67,421.17 Q471.84,420.75 472.16,420.40 Q472.49,420.05 472.64,419.52 Q472.80,418.99 473.32,418.79 Q473.85,418.59 474.36,418.39 Q474.88,418.19 475.44,418.21 Q476.00,418.23 476.50,418.45 Q477.00,418.67 477.52,418.74 Q478.03,418.81 478.51,419.01 Q478.99,419.22 479.27,419.62 Q479.55,420.02 480.07,420.29 Q480.60,420.56 480.60,421.07 Q480.59,421.58 480.58,422.04 Z" fill="#777" stroke="#111" stroke-width="0.9" stroke-linejoin="round" fill-opacity="1.0"/>
<path d="M479.28,422.19 Q479.41,422.50 479.18,422.80 Q478.96,423.09 478.83,423.36 Q478.69,423.63 478.68,424.00 Q478.68,424.37 478.29,424.48 Q477.91,424.59 477.61,424.74 Q477.31,424.89 477.02,425.09 Q476.73,425.29 476.36,425.26 Q476.00,425.24 475.62,425.31 Q475.25,425.38 474.96,425.15 Q474.66,424.93 474.27,424.88 Q473.88,424.83 473.72,424.52 Q473.56,424.20 473.32,423.97 Q473.08,423.73 472.88,423.45 Q472.69,423.16 472.70,422.83 Q472.72,422.50 472.71,422.17 Q472.70,421.84 472.86,421.54 Q473.03,421.25 473.34,421.06 Q473.66,420.86 473.78,420.53 Q473.90,420.19 474.25,420.07 Q474.59,419.95 474.95,419.89 Q475.31,419.84 475.65,419.83 Q476.00,419.82 476.37,419.73 Q476.75,419.64 477.08,419.79 Q477.40,419.95 477.76,420.06 Q478.12,420.18 478.36,420.43 Q478.60,420.69 478.83,420.95 Q479.07,421.21 479.11,421.54 Q479.15,421.87 479.28,422.19 Z" fill="#bbb" stroke="#111" stroke-width="0.9" stroke-linejoin="round" fill-opacity="1.0"/>
<circle cx="476.00" cy="422.50" r="1.6" fill="#fff" stroke="none" stroke-width="0.6"/>
<path d="M493.91,426.32 Q493.93,427.00 493.76,427.65 Q493.60,428.30 493.31,428.86 Q493.01,429.43 492.89,430.13 Q492.77,430.82 492.21,431.16 Q491.65,431.50 491.15,431.86 Q490.65,432.22 490.09,432.49 Q489.53,432.77 488.91,432.94 Q488.30,433.12 487.63,433.18 Q486.97,433.25 486.43,432.81 Q485.88,432.38 485.23,432.20 Q484.57,432.02 484.09,431.51 Q483.62,431.00 483.53,430.25 Q483.44,429.51 483.30,428.88 Q483.17,428.26 483.07,427.63 Q482.97,427.00 482.77,426.30 Q482.58,425.60 482.88,424.98 Q483.18,424.36 483.43,423.70 Q483.67,423.04 484.12,422.52 Q484.58,422.00 485.20,421.74 Q485.82,421.48 486.43,421.30 Q487.05,421.12 487.67,421.24 Q488.30,421.36 488.88,421.45 Q489.46,421.54 490.15,421.45 Q490.83,421.36 491.35,421.78 Q491.88,422.20 492.36,422.66 Q492.84,423.12 493.12,423.75 Q493.39,424.37 493.64,425.00 Q493.89,425.63 493.91,426.32 Z" fill="#999" stroke="#222" stroke-width="0.9" stroke-linejoin="round" fill-opacity="1.0"/>
<path d="M492.22,426.51 Q492.12,427.00 492.10,427.46 Q492.08,427.93 492.01,428.40 Q491.94,428.88 491.76,429.35 Q491.59,429.81 491.16,430.04 Q490.73,430.27 490.35,430.51 Q489.98,430.75 489.58,430.94 Q489.18,431.13 488.74,431.34 Q488.30,431.56 487.87,431.32 Q487.43,431.08 486.95,431.09 Q486.46,431.10 486.07,430.81 Q485.69,430.52 485.47,430.06 Q485.26,429.60 484.92,429.26 Q484.59,428.92 484.46,428.45 Q484.33,427.97 484.29,427.49 Q484.25,427.00 484.14,426.48 Q484.03,425.95 484.42,425.58 Q484.82,425.20 485.06,424.82 Q485.31,424.44 485.45,423.89 Q485.59,423.35 486.07,423.22 Q486.55,423.09 486.99,422.99 Q487.43,422.89 487.86,422.80 Q488.30,422.70 488.75,422.75 Q489.20,422.79 489.69,422.79 Q490.19,422.78 490.47,423.24 Q490.75,423.70 491.07,424.03 Q491.38,424.37 491.71,424.72 Q492.04,425.07 492.18,425.54 Q492.32,426.01 492.22,426.51 Z" fill="#666" stroke="#111" stroke-width="0.9" stroke-linejoin="round" fill-opacity="1.0"/>
<path d="M490.61,426.70 Q490.65,427.00 490.65,427.31 Q490.64,427.62 490.56,427.92 Q490.49,428.22 490.43,428.57 Q490.36,428.91 490.11,429.09 Q489.86,429.27 489.64,429.48 Q489.42,429.69 489.12,429.68 Q488.83,429.67 488.56,429.79 Q488.30,429.90 488.01,429.93 Q487.72,429.96 487.46,429.79 Q487.21,429.62 486.93,429.51 Q486.64,429.41 486.44,429.16 Q486.24,428.90 486.16,428.57 Q486.09,428.24 486.06,427.92 Q486.03,427.60 485.87,427.30 Q485.71,427.00 485.85,426.69 Q485.99,426.39 486.10,426.11 Q486.20,425.83 486.24,425.48 Q486.28,425.13 486.47,424.88 Q486.67,424.62 486.92,424.44 Q487.16,424.26 487.44,424.13 Q487.71,423.99 488.00,424.11 Q488.30,424.22 488.56,424.28 Q488.82,424.34 489.08,424.43 Q489.33,424.53 489.65,424.55 Q489.96,424.58 490.06,424.94 Q490.15,425.29 490.30,425.55 Q490.45,425.80 490.51,426.10 Q490.57,426.40 490.61,426.70 Z" fill="#999" stroke="#111" stroke-width="0.9" stroke-linejoin="round" fill-opacity="1.0"/>
<path d="M469.5,430 C470.5,436 475.5,439 481,438" fill="none" stroke="#777" stroke-width="0.5" />
<path d="M471.5,430 C473,434.5 477,436 480.5,435" fill="none" stroke="#888" stroke-width="0.5" />
<line x1="328.30" y1="393.40" x2="328.30" y2="449.90" stroke="#444" stroke-width="0.6" />
<line x1="298.40" y1="429.50" x2="355.80" y2="429.50" stroke="#444" stroke-width="0.6" />
<line x1="410.80" y1="393.40" x2="410.80" y2="449.90" stroke="#444" stroke-width="0.6" />
<line x1="380.90" y1="429.50" x2="438.30" y2="429.50" stroke="#444" stroke-width="0.6" />
<line x1="483.30" y1="393.40" x2="483.30" y2="449.90" stroke="#444" stroke-width="0.6" />
<line x1="453.40" y1="429.50" x2="510.80" y2="429.50" stroke="#444" stroke-width="0.6" />
</g>
</svg></body></html>
